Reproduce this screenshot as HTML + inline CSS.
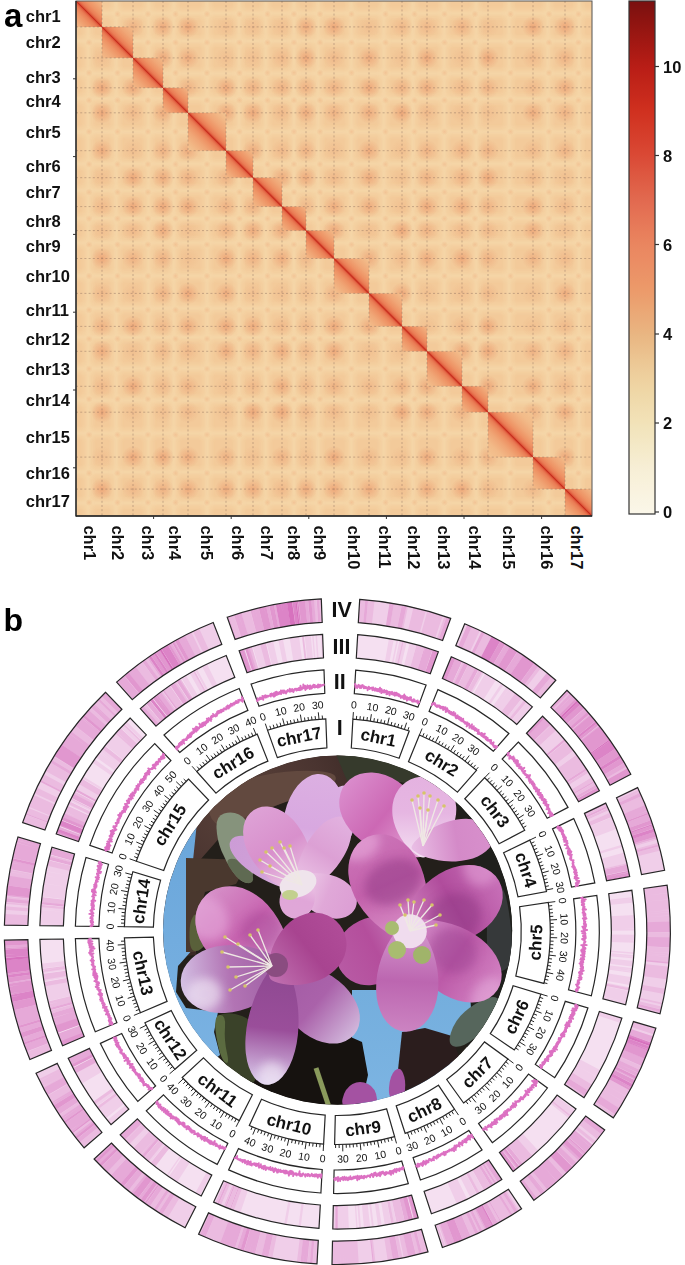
<!DOCTYPE html>
<html><head><meta charset="utf-8"><style>html,body{margin:0;padding:0;background:#fff;width:685px;height:1265px;overflow:hidden;font-family:"Liberation Sans",sans-serif}</style></head>
<body>
<svg width="685" height="1265" viewBox="0 0 685 1265" style="position:absolute;left:0;top:0">
<defs>
<linearGradient id="cbar" x1="0" y1="0" x2="0" y2="1"><stop offset="0.0000" stop-color="#7a1010"/><stop offset="0.0167" stop-color="#821210"/><stop offset="0.0333" stop-color="#8b1310"/><stop offset="0.0500" stop-color="#931511"/><stop offset="0.0667" stop-color="#9b1712"/><stop offset="0.0833" stop-color="#a31813"/><stop offset="0.1000" stop-color="#ab1a14"/><stop offset="0.1167" stop-color="#b31c15"/><stop offset="0.1333" stop-color="#ba1e17"/><stop offset="0.1500" stop-color="#be2218"/><stop offset="0.1667" stop-color="#c3261a"/><stop offset="0.1833" stop-color="#c7291c"/><stop offset="0.2000" stop-color="#cc2d1d"/><stop offset="0.2167" stop-color="#d03120"/><stop offset="0.2333" stop-color="#d23624"/><stop offset="0.2500" stop-color="#d43b28"/><stop offset="0.2667" stop-color="#d63f2c"/><stop offset="0.2833" stop-color="#d84430"/><stop offset="0.3000" stop-color="#da4935"/><stop offset="0.3167" stop-color="#db4f3a"/><stop offset="0.3333" stop-color="#dd563f"/><stop offset="0.3500" stop-color="#de5c44"/><stop offset="0.3667" stop-color="#e06249"/><stop offset="0.3833" stop-color="#e1684e"/><stop offset="0.4000" stop-color="#e36d52"/><stop offset="0.4167" stop-color="#e57355"/><stop offset="0.4333" stop-color="#e67858"/><stop offset="0.4500" stop-color="#e87e5b"/><stop offset="0.4667" stop-color="#e9835e"/><stop offset="0.4833" stop-color="#ea8861"/><stop offset="0.5000" stop-color="#eb8b63"/><stop offset="0.5167" stop-color="#eb8f65"/><stop offset="0.5333" stop-color="#eb9367"/><stop offset="0.5500" stop-color="#ec9768"/><stop offset="0.5667" stop-color="#ec9b6b"/><stop offset="0.5833" stop-color="#eba06f"/><stop offset="0.6000" stop-color="#eba674"/><stop offset="0.6167" stop-color="#eaab79"/><stop offset="0.6333" stop-color="#eab07d"/><stop offset="0.6500" stop-color="#e9b682"/><stop offset="0.6667" stop-color="#eabb87"/><stop offset="0.6833" stop-color="#ebc08d"/><stop offset="0.7000" stop-color="#ecc693"/><stop offset="0.7167" stop-color="#edcb99"/><stop offset="0.7333" stop-color="#eed09e"/><stop offset="0.7500" stop-color="#efd4a3"/><stop offset="0.7667" stop-color="#efd8a8"/><stop offset="0.7833" stop-color="#f0dbad"/><stop offset="0.8000" stop-color="#f1deb2"/><stop offset="0.8167" stop-color="#f2e1b6"/><stop offset="0.8333" stop-color="#f2e4bc"/><stop offset="0.8500" stop-color="#f3e6c1"/><stop offset="0.8667" stop-color="#f4e9c7"/><stop offset="0.8833" stop-color="#f5ebcc"/><stop offset="0.9000" stop-color="#f6edd2"/><stop offset="0.9167" stop-color="#f7efd7"/><stop offset="0.9333" stop-color="#f8f1da"/><stop offset="0.9500" stop-color="#f9f2de"/><stop offset="0.9667" stop-color="#f9f4e2"/><stop offset="0.9833" stop-color="#faf5e5"/><stop offset="1.0000" stop-color="#fbf7e9"/></linearGradient>
<linearGradient id="dg0" gradientUnits="userSpaceOnUse" x1="76.00" y1="1.00" x2="89.00" y2="-12.00" spreadMethod="reflect"><stop offset="0.0000" stop-color="#c8301e"/><stop offset="0.0385" stop-color="#d94c32"/><stop offset="0.0962" stop-color="#e46a48"/><stop offset="0.1923" stop-color="#ea7e56"/><stop offset="0.3846" stop-color="#ee9264"/><stop offset="0.6923" stop-color="#f0a676"/><stop offset="1" stop-color="#f2ba88"/></linearGradient>
<linearGradient id="dg1" gradientUnits="userSpaceOnUse" x1="102.00" y1="26.95" x2="117.50" y2="11.45" spreadMethod="reflect"><stop offset="0.0000" stop-color="#c8301e"/><stop offset="0.0323" stop-color="#d94c32"/><stop offset="0.0806" stop-color="#e46a48"/><stop offset="0.1613" stop-color="#ea7e56"/><stop offset="0.3226" stop-color="#ee9264"/><stop offset="0.5806" stop-color="#f0a676"/><stop offset="0.9677" stop-color="#f2ba88"/><stop offset="1" stop-color="#f3c492"/></linearGradient>
<linearGradient id="dg2" gradientUnits="userSpaceOnUse" x1="133.00" y1="57.89" x2="148.00" y2="42.89" spreadMethod="reflect"><stop offset="0.0000" stop-color="#c8301e"/><stop offset="0.0333" stop-color="#d94c32"/><stop offset="0.0833" stop-color="#e46a48"/><stop offset="0.1667" stop-color="#ea7e56"/><stop offset="0.3333" stop-color="#ee9264"/><stop offset="0.6000" stop-color="#f0a676"/><stop offset="1.0000" stop-color="#f2ba88"/><stop offset="1" stop-color="#f3c492"/></linearGradient>
<linearGradient id="dg3" gradientUnits="userSpaceOnUse" x1="163.00" y1="87.83" x2="175.50" y2="75.33" spreadMethod="reflect"><stop offset="0.0000" stop-color="#c8301e"/><stop offset="0.0400" stop-color="#d94c32"/><stop offset="0.1000" stop-color="#e46a48"/><stop offset="0.2000" stop-color="#ea7e56"/><stop offset="0.4000" stop-color="#ee9264"/><stop offset="0.7200" stop-color="#f0a676"/><stop offset="1" stop-color="#f2ba88"/></linearGradient>
<linearGradient id="dg4" gradientUnits="userSpaceOnUse" x1="188.00" y1="112.78" x2="207.00" y2="93.78" spreadMethod="reflect"><stop offset="0.0000" stop-color="#c8301e"/><stop offset="0.0263" stop-color="#d94c32"/><stop offset="0.0658" stop-color="#e46a48"/><stop offset="0.1316" stop-color="#ea7e56"/><stop offset="0.2632" stop-color="#ee9264"/><stop offset="0.4737" stop-color="#f0a676"/><stop offset="0.7895" stop-color="#f2ba88"/><stop offset="1" stop-color="#f3c492"/></linearGradient>
<linearGradient id="dg5" gradientUnits="userSpaceOnUse" x1="226.00" y1="150.71" x2="239.50" y2="137.21" spreadMethod="reflect"><stop offset="0.0000" stop-color="#c8301e"/><stop offset="0.0370" stop-color="#d94c32"/><stop offset="0.0926" stop-color="#e46a48"/><stop offset="0.1852" stop-color="#ea7e56"/><stop offset="0.3704" stop-color="#ee9264"/><stop offset="0.6667" stop-color="#f0a676"/><stop offset="1" stop-color="#f2ba88"/></linearGradient>
<linearGradient id="dg6" gradientUnits="userSpaceOnUse" x1="253.00" y1="177.66" x2="267.50" y2="163.16" spreadMethod="reflect"><stop offset="0.0000" stop-color="#c8301e"/><stop offset="0.0345" stop-color="#d94c32"/><stop offset="0.0862" stop-color="#e46a48"/><stop offset="0.1724" stop-color="#ea7e56"/><stop offset="0.3448" stop-color="#ee9264"/><stop offset="0.6207" stop-color="#f0a676"/><stop offset="1" stop-color="#f2ba88"/></linearGradient>
<linearGradient id="dg7" gradientUnits="userSpaceOnUse" x1="282.00" y1="206.60" x2="294.00" y2="194.60" spreadMethod="reflect"><stop offset="0.0000" stop-color="#c8301e"/><stop offset="0.0417" stop-color="#d94c32"/><stop offset="0.1042" stop-color="#e46a48"/><stop offset="0.2083" stop-color="#ea7e56"/><stop offset="0.4167" stop-color="#ee9264"/><stop offset="0.7500" stop-color="#f0a676"/><stop offset="1" stop-color="#f2ba88"/></linearGradient>
<linearGradient id="dg8" gradientUnits="userSpaceOnUse" x1="306.00" y1="230.55" x2="320.00" y2="216.55" spreadMethod="reflect"><stop offset="0.0000" stop-color="#c8301e"/><stop offset="0.0357" stop-color="#d94c32"/><stop offset="0.0893" stop-color="#e46a48"/><stop offset="0.1786" stop-color="#ea7e56"/><stop offset="0.3571" stop-color="#ee9264"/><stop offset="0.6429" stop-color="#f0a676"/><stop offset="1" stop-color="#f2ba88"/></linearGradient>
<linearGradient id="dg9" gradientUnits="userSpaceOnUse" x1="334.00" y1="258.50" x2="351.50" y2="241.00" spreadMethod="reflect"><stop offset="0.0000" stop-color="#c8301e"/><stop offset="0.0286" stop-color="#d94c32"/><stop offset="0.0714" stop-color="#e46a48"/><stop offset="0.1429" stop-color="#ea7e56"/><stop offset="0.2857" stop-color="#ee9264"/><stop offset="0.5143" stop-color="#f0a676"/><stop offset="0.8571" stop-color="#f2ba88"/><stop offset="1" stop-color="#f3c492"/></linearGradient>
<linearGradient id="dg10" gradientUnits="userSpaceOnUse" x1="369.00" y1="293.43" x2="385.50" y2="276.93" spreadMethod="reflect"><stop offset="0.0000" stop-color="#c8301e"/><stop offset="0.0303" stop-color="#d94c32"/><stop offset="0.0758" stop-color="#e46a48"/><stop offset="0.1515" stop-color="#ea7e56"/><stop offset="0.3030" stop-color="#ee9264"/><stop offset="0.5455" stop-color="#f0a676"/><stop offset="0.9091" stop-color="#f2ba88"/><stop offset="1" stop-color="#f3c492"/></linearGradient>
<linearGradient id="dg11" gradientUnits="userSpaceOnUse" x1="402.00" y1="326.37" x2="414.50" y2="313.87" spreadMethod="reflect"><stop offset="0.0000" stop-color="#c8301e"/><stop offset="0.0400" stop-color="#d94c32"/><stop offset="0.1000" stop-color="#e46a48"/><stop offset="0.2000" stop-color="#ea7e56"/><stop offset="0.4000" stop-color="#ee9264"/><stop offset="0.7200" stop-color="#f0a676"/><stop offset="1" stop-color="#f2ba88"/></linearGradient>
<linearGradient id="dg12" gradientUnits="userSpaceOnUse" x1="427.00" y1="351.32" x2="444.50" y2="333.82" spreadMethod="reflect"><stop offset="0.0000" stop-color="#c8301e"/><stop offset="0.0286" stop-color="#d94c32"/><stop offset="0.0714" stop-color="#e46a48"/><stop offset="0.1429" stop-color="#ea7e56"/><stop offset="0.2857" stop-color="#ee9264"/><stop offset="0.5143" stop-color="#f0a676"/><stop offset="0.8571" stop-color="#f2ba88"/><stop offset="1" stop-color="#f3c492"/></linearGradient>
<linearGradient id="dg13" gradientUnits="userSpaceOnUse" x1="462.00" y1="386.25" x2="475.00" y2="373.25" spreadMethod="reflect"><stop offset="0.0000" stop-color="#c8301e"/><stop offset="0.0385" stop-color="#d94c32"/><stop offset="0.0962" stop-color="#e46a48"/><stop offset="0.1923" stop-color="#ea7e56"/><stop offset="0.3846" stop-color="#ee9264"/><stop offset="0.6923" stop-color="#f0a676"/><stop offset="1" stop-color="#f2ba88"/></linearGradient>
<linearGradient id="dg14" gradientUnits="userSpaceOnUse" x1="488.00" y1="412.20" x2="510.50" y2="389.70" spreadMethod="reflect"><stop offset="0.0000" stop-color="#c8301e"/><stop offset="0.0222" stop-color="#d94c32"/><stop offset="0.0556" stop-color="#e46a48"/><stop offset="0.1111" stop-color="#ea7e56"/><stop offset="0.2222" stop-color="#ee9264"/><stop offset="0.4000" stop-color="#f0a676"/><stop offset="0.6667" stop-color="#f2ba88"/><stop offset="1.0000" stop-color="#f3c492"/></linearGradient>
<linearGradient id="dg15" gradientUnits="userSpaceOnUse" x1="533.00" y1="457.11" x2="549.00" y2="441.11" spreadMethod="reflect"><stop offset="0.0000" stop-color="#c8301e"/><stop offset="0.0312" stop-color="#d94c32"/><stop offset="0.0781" stop-color="#e46a48"/><stop offset="0.1562" stop-color="#ea7e56"/><stop offset="0.3125" stop-color="#ee9264"/><stop offset="0.5625" stop-color="#f0a676"/><stop offset="0.9375" stop-color="#f2ba88"/><stop offset="1" stop-color="#f3c492"/></linearGradient>
<linearGradient id="dg16" gradientUnits="userSpaceOnUse" x1="565.00" y1="489.05" x2="578.50" y2="475.55" spreadMethod="reflect"><stop offset="0.0000" stop-color="#c8301e"/><stop offset="0.0370" stop-color="#d94c32"/><stop offset="0.0926" stop-color="#e46a48"/><stop offset="0.1852" stop-color="#ea7e56"/><stop offset="0.3704" stop-color="#ee9264"/><stop offset="0.6667" stop-color="#f0a676"/><stop offset="1" stop-color="#f2ba88"/></linearGradient>
<radialGradient id="spot"><stop offset="0" stop-color="#e9875a" stop-opacity="0.5"/><stop offset="1" stop-color="#e98a5e" stop-opacity="0"/></radialGradient>
<radialGradient id="spot2"><stop offset="0" stop-color="#ec9a6a" stop-opacity="0.3"/><stop offset="1" stop-color="#ec9a6a" stop-opacity="0"/></radialGradient>
</defs>
<rect width="685" height="1265" fill="#ffffff"/>
<rect x="76.0" y="1.0" width="516.0" height="515.0" fill="#f3ca9a"/>
<filter id="bl1" x="-5%" y="-5%" width="110%" height="110%"><feGaussianBlur stdDeviation="1.3"/></filter>
<g opacity="0.5" filter="url(#bl1)">
<rect x="82.3" y="1.0" width="12.0" height="515.0" fill="#f8e4b8" opacity="0.35"/>
<rect x="76.0" y="7.3" width="516.0" height="12.0" fill="#f8e4b8" opacity="0.35"/>
<rect x="86.3" y="1.0" width="4.0" height="515.0" fill="#f8e4b8" opacity="0.80"/>
<rect x="76.0" y="11.3" width="516.0" height="4.0" fill="#f8e4b8" opacity="0.80"/>
<rect x="110.1" y="1.0" width="12.0" height="515.0" fill="#f8e4b8" opacity="0.35"/>
<rect x="76.0" y="35.0" width="516.0" height="12.0" fill="#f8e4b8" opacity="0.35"/>
<rect x="114.1" y="1.0" width="4.0" height="515.0" fill="#f8e4b8" opacity="0.80"/>
<rect x="76.0" y="39.0" width="516.0" height="4.0" fill="#f8e4b8" opacity="0.80"/>
<rect x="142.6" y="1.0" width="12.0" height="515.0" fill="#f8e4b8" opacity="0.35"/>
<rect x="76.0" y="67.5" width="516.0" height="12.0" fill="#f8e4b8" opacity="0.35"/>
<rect x="146.6" y="1.0" width="4.0" height="515.0" fill="#f8e4b8" opacity="0.80"/>
<rect x="76.0" y="71.5" width="516.0" height="4.0" fill="#f8e4b8" opacity="0.80"/>
<rect x="167.8" y="1.0" width="12.0" height="515.0" fill="#f8e4b8" opacity="0.35"/>
<rect x="76.0" y="92.6" width="516.0" height="12.0" fill="#f8e4b8" opacity="0.35"/>
<rect x="171.8" y="1.0" width="4.0" height="515.0" fill="#f8e4b8" opacity="0.80"/>
<rect x="76.0" y="96.6" width="516.0" height="4.0" fill="#f8e4b8" opacity="0.80"/>
<rect x="201.1" y="1.0" width="12.0" height="515.0" fill="#f8e4b8" opacity="0.35"/>
<rect x="76.0" y="125.9" width="516.0" height="12.0" fill="#f8e4b8" opacity="0.35"/>
<rect x="205.1" y="1.0" width="4.0" height="515.0" fill="#f8e4b8" opacity="0.80"/>
<rect x="76.0" y="129.9" width="516.0" height="4.0" fill="#f8e4b8" opacity="0.80"/>
<rect x="233.0" y="1.0" width="12.0" height="515.0" fill="#f8e4b8" opacity="0.35"/>
<rect x="76.0" y="157.7" width="516.0" height="12.0" fill="#f8e4b8" opacity="0.35"/>
<rect x="237.0" y="1.0" width="4.0" height="515.0" fill="#f8e4b8" opacity="0.80"/>
<rect x="76.0" y="161.7" width="516.0" height="4.0" fill="#f8e4b8" opacity="0.80"/>
<rect x="259.7" y="1.0" width="12.0" height="515.0" fill="#f8e4b8" opacity="0.35"/>
<rect x="76.0" y="184.4" width="516.0" height="12.0" fill="#f8e4b8" opacity="0.35"/>
<rect x="263.7" y="1.0" width="4.0" height="515.0" fill="#f8e4b8" opacity="0.80"/>
<rect x="76.0" y="188.4" width="516.0" height="4.0" fill="#f8e4b8" opacity="0.80"/>
<rect x="288.0" y="1.0" width="12.0" height="515.0" fill="#f8e4b8" opacity="0.35"/>
<rect x="76.0" y="212.6" width="516.0" height="12.0" fill="#f8e4b8" opacity="0.35"/>
<rect x="292.0" y="1.0" width="4.0" height="515.0" fill="#f8e4b8" opacity="0.80"/>
<rect x="76.0" y="216.6" width="516.0" height="4.0" fill="#f8e4b8" opacity="0.80"/>
<rect x="312.1" y="1.0" width="12.0" height="515.0" fill="#f8e4b8" opacity="0.35"/>
<rect x="76.0" y="236.7" width="516.0" height="12.0" fill="#f8e4b8" opacity="0.35"/>
<rect x="316.1" y="1.0" width="4.0" height="515.0" fill="#f8e4b8" opacity="0.80"/>
<rect x="76.0" y="240.7" width="516.0" height="4.0" fill="#f8e4b8" opacity="0.80"/>
<rect x="345.2" y="1.0" width="12.0" height="515.0" fill="#f8e4b8" opacity="0.35"/>
<rect x="76.0" y="269.7" width="516.0" height="12.0" fill="#f8e4b8" opacity="0.35"/>
<rect x="349.2" y="1.0" width="4.0" height="515.0" fill="#f8e4b8" opacity="0.80"/>
<rect x="76.0" y="273.7" width="516.0" height="4.0" fill="#f8e4b8" opacity="0.80"/>
<rect x="377.8" y="1.0" width="12.0" height="515.0" fill="#f8e4b8" opacity="0.35"/>
<rect x="76.0" y="302.2" width="516.0" height="12.0" fill="#f8e4b8" opacity="0.35"/>
<rect x="381.8" y="1.0" width="4.0" height="515.0" fill="#f8e4b8" opacity="0.80"/>
<rect x="76.0" y="306.2" width="516.0" height="4.0" fill="#f8e4b8" opacity="0.80"/>
<rect x="406.9" y="1.0" width="12.0" height="515.0" fill="#f8e4b8" opacity="0.35"/>
<rect x="76.0" y="331.2" width="516.0" height="12.0" fill="#f8e4b8" opacity="0.35"/>
<rect x="410.9" y="1.0" width="4.0" height="515.0" fill="#f8e4b8" opacity="0.80"/>
<rect x="76.0" y="335.2" width="516.0" height="4.0" fill="#f8e4b8" opacity="0.80"/>
<rect x="438.2" y="1.0" width="12.0" height="515.0" fill="#f8e4b8" opacity="0.35"/>
<rect x="76.0" y="362.5" width="516.0" height="12.0" fill="#f8e4b8" opacity="0.35"/>
<rect x="442.2" y="1.0" width="4.0" height="515.0" fill="#f8e4b8" opacity="0.80"/>
<rect x="76.0" y="366.5" width="516.0" height="4.0" fill="#f8e4b8" opacity="0.80"/>
<rect x="470.3" y="1.0" width="12.0" height="515.0" fill="#f8e4b8" opacity="0.35"/>
<rect x="76.0" y="394.5" width="516.0" height="12.0" fill="#f8e4b8" opacity="0.35"/>
<rect x="474.3" y="1.0" width="4.0" height="515.0" fill="#f8e4b8" opacity="0.80"/>
<rect x="76.0" y="398.5" width="516.0" height="4.0" fill="#f8e4b8" opacity="0.80"/>
<rect x="503.0" y="1.0" width="12.0" height="515.0" fill="#f8e4b8" opacity="0.35"/>
<rect x="76.0" y="427.2" width="516.0" height="12.0" fill="#f8e4b8" opacity="0.35"/>
<rect x="507.0" y="1.0" width="4.0" height="515.0" fill="#f8e4b8" opacity="0.80"/>
<rect x="76.0" y="431.2" width="516.0" height="4.0" fill="#f8e4b8" opacity="0.80"/>
<rect x="541.9" y="1.0" width="12.0" height="515.0" fill="#f8e4b8" opacity="0.35"/>
<rect x="76.0" y="466.0" width="516.0" height="12.0" fill="#f8e4b8" opacity="0.35"/>
<rect x="545.9" y="1.0" width="4.0" height="515.0" fill="#f8e4b8" opacity="0.80"/>
<rect x="76.0" y="470.0" width="516.0" height="4.0" fill="#f8e4b8" opacity="0.80"/>
<rect x="573.0" y="1.0" width="12.0" height="515.0" fill="#f8e4b8" opacity="0.35"/>
<rect x="76.0" y="497.0" width="516.0" height="12.0" fill="#f8e4b8" opacity="0.35"/>
<rect x="577.0" y="1.0" width="4.0" height="515.0" fill="#f8e4b8" opacity="0.80"/>
<rect x="76.0" y="501.0" width="516.0" height="4.0" fill="#f8e4b8" opacity="0.80"/>
</g>
<circle cx="102.0" cy="57.9" r="11" fill="url(#spot)" opacity="0.30"/>
<circle cx="102.0" cy="87.8" r="11" fill="url(#spot)" opacity="1.00"/>
<circle cx="102.0" cy="112.8" r="11" fill="url(#spot)" opacity="1.00"/>
<circle cx="102.0" cy="150.7" r="11" fill="url(#spot)" opacity="0.90"/>
<circle cx="102.0" cy="177.7" r="11" fill="url(#spot)" opacity="0.30"/>
<circle cx="102.0" cy="206.6" r="11" fill="url(#spot)" opacity="0.50"/>
<circle cx="102.0" cy="230.6" r="11" fill="url(#spot)" opacity="0.30"/>
<circle cx="102.0" cy="258.5" r="11" fill="url(#spot)" opacity="1.00"/>
<circle cx="102.0" cy="293.4" r="11" fill="url(#spot)" opacity="0.50"/>
<circle cx="102.0" cy="326.4" r="11" fill="url(#spot)" opacity="0.70"/>
<circle cx="102.0" cy="351.3" r="11" fill="url(#spot)" opacity="0.90"/>
<circle cx="102.0" cy="386.3" r="11" fill="url(#spot)" opacity="0.50"/>
<circle cx="102.0" cy="412.2" r="11" fill="url(#spot)" opacity="1.00"/>
<circle cx="102.0" cy="457.1" r="11" fill="url(#spot)" opacity="0.30"/>
<circle cx="102.0" cy="489.1" r="11" fill="url(#spot)" opacity="1.00"/>
<circle cx="133.0" cy="26.9" r="11" fill="url(#spot)" opacity="0.70"/>
<circle cx="133.0" cy="87.8" r="11" fill="url(#spot)" opacity="1.00"/>
<circle cx="133.0" cy="112.8" r="11" fill="url(#spot)" opacity="0.50"/>
<circle cx="133.0" cy="150.7" r="11" fill="url(#spot)" opacity="0.30"/>
<circle cx="133.0" cy="177.7" r="11" fill="url(#spot)" opacity="1.00"/>
<circle cx="133.0" cy="206.6" r="11" fill="url(#spot)" opacity="1.00"/>
<circle cx="133.0" cy="230.6" r="11" fill="url(#spot)" opacity="0.50"/>
<circle cx="133.0" cy="258.5" r="11" fill="url(#spot)" opacity="0.70"/>
<circle cx="133.0" cy="293.4" r="11" fill="url(#spot)" opacity="0.30"/>
<circle cx="133.0" cy="326.4" r="11" fill="url(#spot)" opacity="1.00"/>
<circle cx="133.0" cy="351.3" r="11" fill="url(#spot)" opacity="0.30"/>
<circle cx="133.0" cy="386.3" r="11" fill="url(#spot)" opacity="1.00"/>
<circle cx="133.0" cy="412.2" r="11" fill="url(#spot)" opacity="0.30"/>
<circle cx="133.0" cy="457.1" r="11" fill="url(#spot)" opacity="1.00"/>
<circle cx="133.0" cy="489.1" r="11" fill="url(#spot)" opacity="0.50"/>
<circle cx="163.0" cy="26.9" r="11" fill="url(#spot)" opacity="0.90"/>
<circle cx="163.0" cy="57.9" r="11" fill="url(#spot)" opacity="1.00"/>
<circle cx="163.0" cy="112.8" r="11" fill="url(#spot)" opacity="0.90"/>
<circle cx="163.0" cy="150.7" r="11" fill="url(#spot)" opacity="0.70"/>
<circle cx="163.0" cy="177.7" r="11" fill="url(#spot)" opacity="0.90"/>
<circle cx="163.0" cy="206.6" r="11" fill="url(#spot)" opacity="1.00"/>
<circle cx="163.0" cy="230.6" r="11" fill="url(#spot)" opacity="0.90"/>
<circle cx="163.0" cy="258.5" r="11" fill="url(#spot)" opacity="0.70"/>
<circle cx="163.0" cy="293.4" r="11" fill="url(#spot)" opacity="0.70"/>
<circle cx="163.0" cy="326.4" r="11" fill="url(#spot)" opacity="0.50"/>
<circle cx="163.0" cy="351.3" r="11" fill="url(#spot)" opacity="0.50"/>
<circle cx="163.0" cy="386.3" r="11" fill="url(#spot)" opacity="0.50"/>
<circle cx="163.0" cy="412.2" r="11" fill="url(#spot)" opacity="0.30"/>
<circle cx="163.0" cy="457.1" r="11" fill="url(#spot)" opacity="1.00"/>
<circle cx="163.0" cy="489.1" r="11" fill="url(#spot)" opacity="0.70"/>
<circle cx="188.0" cy="26.9" r="11" fill="url(#spot)" opacity="1.00"/>
<circle cx="188.0" cy="57.9" r="11" fill="url(#spot)" opacity="0.90"/>
<circle cx="188.0" cy="87.8" r="11" fill="url(#spot)" opacity="0.70"/>
<circle cx="188.0" cy="150.7" r="11" fill="url(#spot)" opacity="0.90"/>
<circle cx="188.0" cy="177.7" r="11" fill="url(#spot)" opacity="0.70"/>
<circle cx="188.0" cy="206.6" r="11" fill="url(#spot)" opacity="1.00"/>
<circle cx="188.0" cy="230.6" r="11" fill="url(#spot)" opacity="0.30"/>
<circle cx="188.0" cy="258.5" r="11" fill="url(#spot)" opacity="0.30"/>
<circle cx="188.0" cy="293.4" r="11" fill="url(#spot)" opacity="1.00"/>
<circle cx="188.0" cy="326.4" r="11" fill="url(#spot)" opacity="0.90"/>
<circle cx="188.0" cy="351.3" r="11" fill="url(#spot)" opacity="0.50"/>
<circle cx="188.0" cy="386.3" r="11" fill="url(#spot)" opacity="0.70"/>
<circle cx="188.0" cy="412.2" r="11" fill="url(#spot)" opacity="0.50"/>
<circle cx="188.0" cy="457.1" r="11" fill="url(#spot)" opacity="0.90"/>
<circle cx="188.0" cy="489.1" r="11" fill="url(#spot)" opacity="0.90"/>
<circle cx="226.0" cy="26.9" r="11" fill="url(#spot)" opacity="0.30"/>
<circle cx="226.0" cy="57.9" r="11" fill="url(#spot)" opacity="0.30"/>
<circle cx="226.0" cy="87.8" r="11" fill="url(#spot)" opacity="1.00"/>
<circle cx="226.0" cy="112.8" r="11" fill="url(#spot)" opacity="1.00"/>
<circle cx="226.0" cy="177.7" r="11" fill="url(#spot)" opacity="0.70"/>
<circle cx="226.0" cy="206.6" r="11" fill="url(#spot)" opacity="0.70"/>
<circle cx="226.0" cy="230.6" r="11" fill="url(#spot)" opacity="0.70"/>
<circle cx="226.0" cy="258.5" r="11" fill="url(#spot)" opacity="1.00"/>
<circle cx="226.0" cy="293.4" r="11" fill="url(#spot)" opacity="0.90"/>
<circle cx="226.0" cy="326.4" r="11" fill="url(#spot)" opacity="1.00"/>
<circle cx="226.0" cy="351.3" r="11" fill="url(#spot)" opacity="0.90"/>
<circle cx="226.0" cy="386.3" r="11" fill="url(#spot)" opacity="0.30"/>
<circle cx="226.0" cy="412.2" r="11" fill="url(#spot)" opacity="0.30"/>
<circle cx="226.0" cy="457.1" r="11" fill="url(#spot)" opacity="0.70"/>
<circle cx="226.0" cy="489.1" r="11" fill="url(#spot)" opacity="0.90"/>
<circle cx="253.0" cy="26.9" r="11" fill="url(#spot)" opacity="0.30"/>
<circle cx="253.0" cy="57.9" r="11" fill="url(#spot)" opacity="0.30"/>
<circle cx="253.0" cy="87.8" r="11" fill="url(#spot)" opacity="0.70"/>
<circle cx="253.0" cy="112.8" r="11" fill="url(#spot)" opacity="1.00"/>
<circle cx="253.0" cy="150.7" r="11" fill="url(#spot)" opacity="0.90"/>
<circle cx="253.0" cy="206.6" r="11" fill="url(#spot)" opacity="0.70"/>
<circle cx="253.0" cy="230.6" r="11" fill="url(#spot)" opacity="0.90"/>
<circle cx="253.0" cy="258.5" r="11" fill="url(#spot)" opacity="0.70"/>
<circle cx="253.0" cy="293.4" r="11" fill="url(#spot)" opacity="0.30"/>
<circle cx="253.0" cy="326.4" r="11" fill="url(#spot)" opacity="0.90"/>
<circle cx="253.0" cy="351.3" r="11" fill="url(#spot)" opacity="0.70"/>
<circle cx="253.0" cy="386.3" r="11" fill="url(#spot)" opacity="0.50"/>
<circle cx="253.0" cy="412.2" r="11" fill="url(#spot)" opacity="1.00"/>
<circle cx="253.0" cy="457.1" r="11" fill="url(#spot)" opacity="0.30"/>
<circle cx="253.0" cy="489.1" r="11" fill="url(#spot)" opacity="0.90"/>
<circle cx="282.0" cy="26.9" r="11" fill="url(#spot)" opacity="0.30"/>
<circle cx="282.0" cy="57.9" r="11" fill="url(#spot)" opacity="0.50"/>
<circle cx="282.0" cy="87.8" r="11" fill="url(#spot)" opacity="0.70"/>
<circle cx="282.0" cy="112.8" r="11" fill="url(#spot)" opacity="0.50"/>
<circle cx="282.0" cy="150.7" r="11" fill="url(#spot)" opacity="0.50"/>
<circle cx="282.0" cy="177.7" r="11" fill="url(#spot)" opacity="0.90"/>
<circle cx="282.0" cy="230.6" r="11" fill="url(#spot)" opacity="0.90"/>
<circle cx="282.0" cy="258.5" r="11" fill="url(#spot)" opacity="0.90"/>
<circle cx="282.0" cy="293.4" r="11" fill="url(#spot)" opacity="0.30"/>
<circle cx="282.0" cy="326.4" r="11" fill="url(#spot)" opacity="0.50"/>
<circle cx="282.0" cy="351.3" r="11" fill="url(#spot)" opacity="0.90"/>
<circle cx="282.0" cy="386.3" r="11" fill="url(#spot)" opacity="0.90"/>
<circle cx="282.0" cy="412.2" r="11" fill="url(#spot)" opacity="1.00"/>
<circle cx="282.0" cy="457.1" r="11" fill="url(#spot)" opacity="0.70"/>
<circle cx="282.0" cy="489.1" r="11" fill="url(#spot)" opacity="0.50"/>
<circle cx="306.0" cy="26.9" r="11" fill="url(#spot)" opacity="0.90"/>
<circle cx="306.0" cy="57.9" r="11" fill="url(#spot)" opacity="1.00"/>
<circle cx="306.0" cy="87.8" r="11" fill="url(#spot)" opacity="0.70"/>
<circle cx="306.0" cy="112.8" r="11" fill="url(#spot)" opacity="0.90"/>
<circle cx="306.0" cy="150.7" r="11" fill="url(#spot)" opacity="0.70"/>
<circle cx="306.0" cy="177.7" r="11" fill="url(#spot)" opacity="0.90"/>
<circle cx="306.0" cy="206.6" r="11" fill="url(#spot)" opacity="0.50"/>
<circle cx="306.0" cy="258.5" r="11" fill="url(#spot)" opacity="0.50"/>
<circle cx="306.0" cy="293.4" r="11" fill="url(#spot)" opacity="0.30"/>
<circle cx="306.0" cy="326.4" r="11" fill="url(#spot)" opacity="0.50"/>
<circle cx="306.0" cy="351.3" r="11" fill="url(#spot)" opacity="0.50"/>
<circle cx="306.0" cy="386.3" r="11" fill="url(#spot)" opacity="0.50"/>
<circle cx="306.0" cy="412.2" r="11" fill="url(#spot)" opacity="0.50"/>
<circle cx="306.0" cy="457.1" r="11" fill="url(#spot)" opacity="0.30"/>
<circle cx="306.0" cy="489.1" r="11" fill="url(#spot)" opacity="0.90"/>
<circle cx="334.0" cy="26.9" r="11" fill="url(#spot)" opacity="1.00"/>
<circle cx="334.0" cy="57.9" r="11" fill="url(#spot)" opacity="0.50"/>
<circle cx="334.0" cy="87.8" r="11" fill="url(#spot)" opacity="0.70"/>
<circle cx="334.0" cy="112.8" r="11" fill="url(#spot)" opacity="0.70"/>
<circle cx="334.0" cy="150.7" r="11" fill="url(#spot)" opacity="0.30"/>
<circle cx="334.0" cy="177.7" r="11" fill="url(#spot)" opacity="0.50"/>
<circle cx="334.0" cy="206.6" r="11" fill="url(#spot)" opacity="0.90"/>
<circle cx="334.0" cy="230.6" r="11" fill="url(#spot)" opacity="1.00"/>
<circle cx="334.0" cy="293.4" r="11" fill="url(#spot)" opacity="0.70"/>
<circle cx="334.0" cy="326.4" r="11" fill="url(#spot)" opacity="1.00"/>
<circle cx="334.0" cy="351.3" r="11" fill="url(#spot)" opacity="1.00"/>
<circle cx="334.0" cy="386.3" r="11" fill="url(#spot)" opacity="0.70"/>
<circle cx="334.0" cy="412.2" r="11" fill="url(#spot)" opacity="0.50"/>
<circle cx="334.0" cy="457.1" r="11" fill="url(#spot)" opacity="1.00"/>
<circle cx="334.0" cy="489.1" r="11" fill="url(#spot)" opacity="1.00"/>
<circle cx="369.0" cy="26.9" r="11" fill="url(#spot)" opacity="0.30"/>
<circle cx="369.0" cy="57.9" r="11" fill="url(#spot)" opacity="0.90"/>
<circle cx="369.0" cy="87.8" r="11" fill="url(#spot)" opacity="1.00"/>
<circle cx="369.0" cy="112.8" r="11" fill="url(#spot)" opacity="0.90"/>
<circle cx="369.0" cy="150.7" r="11" fill="url(#spot)" opacity="0.90"/>
<circle cx="369.0" cy="177.7" r="11" fill="url(#spot)" opacity="0.90"/>
<circle cx="369.0" cy="206.6" r="11" fill="url(#spot)" opacity="0.90"/>
<circle cx="369.0" cy="230.6" r="11" fill="url(#spot)" opacity="0.30"/>
<circle cx="369.0" cy="258.5" r="11" fill="url(#spot)" opacity="0.90"/>
<circle cx="369.0" cy="326.4" r="11" fill="url(#spot)" opacity="0.90"/>
<circle cx="369.0" cy="351.3" r="11" fill="url(#spot)" opacity="0.30"/>
<circle cx="369.0" cy="386.3" r="11" fill="url(#spot)" opacity="0.50"/>
<circle cx="369.0" cy="412.2" r="11" fill="url(#spot)" opacity="0.30"/>
<circle cx="369.0" cy="457.1" r="11" fill="url(#spot)" opacity="0.50"/>
<circle cx="369.0" cy="489.1" r="11" fill="url(#spot)" opacity="0.90"/>
<circle cx="402.0" cy="26.9" r="11" fill="url(#spot)" opacity="0.50"/>
<circle cx="402.0" cy="57.9" r="11" fill="url(#spot)" opacity="0.30"/>
<circle cx="402.0" cy="87.8" r="11" fill="url(#spot)" opacity="0.70"/>
<circle cx="402.0" cy="112.8" r="11" fill="url(#spot)" opacity="1.00"/>
<circle cx="402.0" cy="150.7" r="11" fill="url(#spot)" opacity="0.30"/>
<circle cx="402.0" cy="177.7" r="11" fill="url(#spot)" opacity="0.30"/>
<circle cx="402.0" cy="206.6" r="11" fill="url(#spot)" opacity="0.30"/>
<circle cx="402.0" cy="230.6" r="11" fill="url(#spot)" opacity="1.00"/>
<circle cx="402.0" cy="258.5" r="11" fill="url(#spot)" opacity="0.50"/>
<circle cx="402.0" cy="293.4" r="11" fill="url(#spot)" opacity="1.00"/>
<circle cx="402.0" cy="351.3" r="11" fill="url(#spot)" opacity="0.30"/>
<circle cx="402.0" cy="386.3" r="11" fill="url(#spot)" opacity="0.70"/>
<circle cx="402.0" cy="412.2" r="11" fill="url(#spot)" opacity="1.00"/>
<circle cx="402.0" cy="457.1" r="11" fill="url(#spot)" opacity="0.30"/>
<circle cx="402.0" cy="489.1" r="11" fill="url(#spot)" opacity="0.30"/>
<circle cx="427.0" cy="26.9" r="11" fill="url(#spot)" opacity="0.50"/>
<circle cx="427.0" cy="57.9" r="11" fill="url(#spot)" opacity="1.00"/>
<circle cx="427.0" cy="87.8" r="11" fill="url(#spot)" opacity="0.90"/>
<circle cx="427.0" cy="112.8" r="11" fill="url(#spot)" opacity="0.50"/>
<circle cx="427.0" cy="150.7" r="11" fill="url(#spot)" opacity="0.70"/>
<circle cx="427.0" cy="177.7" r="11" fill="url(#spot)" opacity="0.70"/>
<circle cx="427.0" cy="206.6" r="11" fill="url(#spot)" opacity="1.00"/>
<circle cx="427.0" cy="230.6" r="11" fill="url(#spot)" opacity="0.70"/>
<circle cx="427.0" cy="258.5" r="11" fill="url(#spot)" opacity="0.90"/>
<circle cx="427.0" cy="293.4" r="11" fill="url(#spot)" opacity="0.30"/>
<circle cx="427.0" cy="326.4" r="11" fill="url(#spot)" opacity="0.30"/>
<circle cx="427.0" cy="386.3" r="11" fill="url(#spot)" opacity="0.90"/>
<circle cx="427.0" cy="412.2" r="11" fill="url(#spot)" opacity="0.90"/>
<circle cx="427.0" cy="457.1" r="11" fill="url(#spot)" opacity="0.90"/>
<circle cx="427.0" cy="489.1" r="11" fill="url(#spot)" opacity="0.90"/>
<circle cx="462.0" cy="26.9" r="11" fill="url(#spot)" opacity="0.70"/>
<circle cx="462.0" cy="57.9" r="11" fill="url(#spot)" opacity="0.30"/>
<circle cx="462.0" cy="87.8" r="11" fill="url(#spot)" opacity="0.50"/>
<circle cx="462.0" cy="112.8" r="11" fill="url(#spot)" opacity="0.30"/>
<circle cx="462.0" cy="150.7" r="11" fill="url(#spot)" opacity="0.70"/>
<circle cx="462.0" cy="177.7" r="11" fill="url(#spot)" opacity="0.70"/>
<circle cx="462.0" cy="206.6" r="11" fill="url(#spot)" opacity="0.90"/>
<circle cx="462.0" cy="230.6" r="11" fill="url(#spot)" opacity="0.50"/>
<circle cx="462.0" cy="258.5" r="11" fill="url(#spot)" opacity="1.00"/>
<circle cx="462.0" cy="293.4" r="11" fill="url(#spot)" opacity="0.30"/>
<circle cx="462.0" cy="326.4" r="11" fill="url(#spot)" opacity="0.50"/>
<circle cx="462.0" cy="351.3" r="11" fill="url(#spot)" opacity="1.00"/>
<circle cx="462.0" cy="412.2" r="11" fill="url(#spot)" opacity="0.70"/>
<circle cx="462.0" cy="457.1" r="11" fill="url(#spot)" opacity="0.50"/>
<circle cx="462.0" cy="489.1" r="11" fill="url(#spot)" opacity="1.00"/>
<circle cx="488.0" cy="26.9" r="11" fill="url(#spot)" opacity="0.30"/>
<circle cx="488.0" cy="57.9" r="11" fill="url(#spot)" opacity="1.00"/>
<circle cx="488.0" cy="87.8" r="11" fill="url(#spot)" opacity="0.70"/>
<circle cx="488.0" cy="112.8" r="11" fill="url(#spot)" opacity="0.30"/>
<circle cx="488.0" cy="150.7" r="11" fill="url(#spot)" opacity="0.70"/>
<circle cx="488.0" cy="177.7" r="11" fill="url(#spot)" opacity="1.00"/>
<circle cx="488.0" cy="206.6" r="11" fill="url(#spot)" opacity="0.70"/>
<circle cx="488.0" cy="230.6" r="11" fill="url(#spot)" opacity="0.50"/>
<circle cx="488.0" cy="258.5" r="11" fill="url(#spot)" opacity="0.70"/>
<circle cx="488.0" cy="293.4" r="11" fill="url(#spot)" opacity="0.50"/>
<circle cx="488.0" cy="326.4" r="11" fill="url(#spot)" opacity="1.00"/>
<circle cx="488.0" cy="351.3" r="11" fill="url(#spot)" opacity="1.00"/>
<circle cx="488.0" cy="386.3" r="11" fill="url(#spot)" opacity="1.00"/>
<circle cx="488.0" cy="457.1" r="11" fill="url(#spot)" opacity="0.70"/>
<circle cx="488.0" cy="489.1" r="11" fill="url(#spot)" opacity="0.50"/>
<circle cx="533.0" cy="26.9" r="11" fill="url(#spot)" opacity="1.00"/>
<circle cx="533.0" cy="57.9" r="11" fill="url(#spot)" opacity="0.50"/>
<circle cx="533.0" cy="87.8" r="11" fill="url(#spot)" opacity="0.50"/>
<circle cx="533.0" cy="112.8" r="11" fill="url(#spot)" opacity="0.90"/>
<circle cx="533.0" cy="150.7" r="11" fill="url(#spot)" opacity="0.50"/>
<circle cx="533.0" cy="177.7" r="11" fill="url(#spot)" opacity="0.50"/>
<circle cx="533.0" cy="206.6" r="11" fill="url(#spot)" opacity="1.00"/>
<circle cx="533.0" cy="230.6" r="11" fill="url(#spot)" opacity="0.90"/>
<circle cx="533.0" cy="258.5" r="11" fill="url(#spot)" opacity="0.70"/>
<circle cx="533.0" cy="293.4" r="11" fill="url(#spot)" opacity="0.30"/>
<circle cx="533.0" cy="326.4" r="11" fill="url(#spot)" opacity="0.30"/>
<circle cx="533.0" cy="351.3" r="11" fill="url(#spot)" opacity="0.70"/>
<circle cx="533.0" cy="386.3" r="11" fill="url(#spot)" opacity="0.90"/>
<circle cx="533.0" cy="412.2" r="11" fill="url(#spot)" opacity="0.70"/>
<circle cx="533.0" cy="489.1" r="11" fill="url(#spot)" opacity="0.50"/>
<circle cx="565.0" cy="26.9" r="11" fill="url(#spot)" opacity="1.00"/>
<circle cx="565.0" cy="57.9" r="11" fill="url(#spot)" opacity="0.70"/>
<circle cx="565.0" cy="87.8" r="11" fill="url(#spot)" opacity="0.90"/>
<circle cx="565.0" cy="112.8" r="11" fill="url(#spot)" opacity="0.70"/>
<circle cx="565.0" cy="150.7" r="11" fill="url(#spot)" opacity="0.70"/>
<circle cx="565.0" cy="177.7" r="11" fill="url(#spot)" opacity="0.30"/>
<circle cx="565.0" cy="206.6" r="11" fill="url(#spot)" opacity="0.50"/>
<circle cx="565.0" cy="230.6" r="11" fill="url(#spot)" opacity="0.30"/>
<circle cx="565.0" cy="258.5" r="11" fill="url(#spot)" opacity="0.50"/>
<circle cx="565.0" cy="293.4" r="11" fill="url(#spot)" opacity="0.90"/>
<circle cx="565.0" cy="326.4" r="11" fill="url(#spot)" opacity="0.50"/>
<circle cx="565.0" cy="351.3" r="11" fill="url(#spot)" opacity="0.70"/>
<circle cx="565.0" cy="386.3" r="11" fill="url(#spot)" opacity="0.50"/>
<circle cx="565.0" cy="412.2" r="11" fill="url(#spot)" opacity="0.90"/>
<circle cx="565.0" cy="457.1" r="11" fill="url(#spot)" opacity="1.00"/>
<circle cx="89.0" cy="42.4" r="3.5" fill="url(#spot2)"/>
<circle cx="89.0" cy="72.9" r="3.5" fill="url(#spot2)"/>
<circle cx="89.0" cy="100.3" r="3.5" fill="url(#spot2)"/>
<circle cx="89.0" cy="131.7" r="3.5" fill="url(#spot2)"/>
<circle cx="89.0" cy="164.2" r="3.5" fill="url(#spot2)"/>
<circle cx="89.0" cy="192.1" r="3.5" fill="url(#spot2)"/>
<circle cx="89.0" cy="218.6" r="3.5" fill="url(#spot2)"/>
<circle cx="89.0" cy="244.5" r="3.5" fill="url(#spot2)"/>
<circle cx="89.0" cy="276.0" r="3.5" fill="url(#spot2)"/>
<circle cx="89.0" cy="309.9" r="3.5" fill="url(#spot2)"/>
<circle cx="89.0" cy="338.8" r="3.5" fill="url(#spot2)"/>
<circle cx="89.0" cy="368.8" r="3.5" fill="url(#spot2)"/>
<circle cx="89.0" cy="399.2" r="3.5" fill="url(#spot2)"/>
<circle cx="89.0" cy="434.7" r="3.5" fill="url(#spot2)"/>
<circle cx="89.0" cy="473.1" r="3.5" fill="url(#spot2)"/>
<circle cx="89.0" cy="502.5" r="3.5" fill="url(#spot2)"/>
<circle cx="117.5" cy="14.0" r="3.5" fill="url(#spot2)"/>
<circle cx="117.5" cy="72.9" r="3.5" fill="url(#spot2)"/>
<circle cx="117.5" cy="100.3" r="3.5" fill="url(#spot2)"/>
<circle cx="117.5" cy="131.7" r="3.5" fill="url(#spot2)"/>
<circle cx="117.5" cy="164.2" r="3.5" fill="url(#spot2)"/>
<circle cx="117.5" cy="192.1" r="3.5" fill="url(#spot2)"/>
<circle cx="117.5" cy="218.6" r="3.5" fill="url(#spot2)"/>
<circle cx="117.5" cy="244.5" r="3.5" fill="url(#spot2)"/>
<circle cx="117.5" cy="276.0" r="3.5" fill="url(#spot2)"/>
<circle cx="117.5" cy="309.9" r="3.5" fill="url(#spot2)"/>
<circle cx="117.5" cy="338.8" r="3.5" fill="url(#spot2)"/>
<circle cx="117.5" cy="368.8" r="3.5" fill="url(#spot2)"/>
<circle cx="117.5" cy="399.2" r="3.5" fill="url(#spot2)"/>
<circle cx="117.5" cy="434.7" r="3.5" fill="url(#spot2)"/>
<circle cx="117.5" cy="473.1" r="3.5" fill="url(#spot2)"/>
<circle cx="117.5" cy="502.5" r="3.5" fill="url(#spot2)"/>
<circle cx="148.0" cy="14.0" r="3.5" fill="url(#spot2)"/>
<circle cx="148.0" cy="42.4" r="3.5" fill="url(#spot2)"/>
<circle cx="148.0" cy="100.3" r="3.5" fill="url(#spot2)"/>
<circle cx="148.0" cy="131.7" r="3.5" fill="url(#spot2)"/>
<circle cx="148.0" cy="164.2" r="3.5" fill="url(#spot2)"/>
<circle cx="148.0" cy="192.1" r="3.5" fill="url(#spot2)"/>
<circle cx="148.0" cy="218.6" r="3.5" fill="url(#spot2)"/>
<circle cx="148.0" cy="244.5" r="3.5" fill="url(#spot2)"/>
<circle cx="148.0" cy="276.0" r="3.5" fill="url(#spot2)"/>
<circle cx="148.0" cy="309.9" r="3.5" fill="url(#spot2)"/>
<circle cx="148.0" cy="338.8" r="3.5" fill="url(#spot2)"/>
<circle cx="148.0" cy="368.8" r="3.5" fill="url(#spot2)"/>
<circle cx="148.0" cy="399.2" r="3.5" fill="url(#spot2)"/>
<circle cx="148.0" cy="434.7" r="3.5" fill="url(#spot2)"/>
<circle cx="148.0" cy="473.1" r="3.5" fill="url(#spot2)"/>
<circle cx="148.0" cy="502.5" r="3.5" fill="url(#spot2)"/>
<circle cx="175.5" cy="14.0" r="3.5" fill="url(#spot2)"/>
<circle cx="175.5" cy="42.4" r="3.5" fill="url(#spot2)"/>
<circle cx="175.5" cy="72.9" r="3.5" fill="url(#spot2)"/>
<circle cx="175.5" cy="131.7" r="3.5" fill="url(#spot2)"/>
<circle cx="175.5" cy="164.2" r="3.5" fill="url(#spot2)"/>
<circle cx="175.5" cy="192.1" r="3.5" fill="url(#spot2)"/>
<circle cx="175.5" cy="218.6" r="3.5" fill="url(#spot2)"/>
<circle cx="175.5" cy="244.5" r="3.5" fill="url(#spot2)"/>
<circle cx="175.5" cy="276.0" r="3.5" fill="url(#spot2)"/>
<circle cx="175.5" cy="309.9" r="3.5" fill="url(#spot2)"/>
<circle cx="175.5" cy="338.8" r="3.5" fill="url(#spot2)"/>
<circle cx="175.5" cy="368.8" r="3.5" fill="url(#spot2)"/>
<circle cx="175.5" cy="399.2" r="3.5" fill="url(#spot2)"/>
<circle cx="175.5" cy="434.7" r="3.5" fill="url(#spot2)"/>
<circle cx="175.5" cy="473.1" r="3.5" fill="url(#spot2)"/>
<circle cx="175.5" cy="502.5" r="3.5" fill="url(#spot2)"/>
<circle cx="207.0" cy="14.0" r="3.5" fill="url(#spot2)"/>
<circle cx="207.0" cy="42.4" r="3.5" fill="url(#spot2)"/>
<circle cx="207.0" cy="72.9" r="3.5" fill="url(#spot2)"/>
<circle cx="207.0" cy="100.3" r="3.5" fill="url(#spot2)"/>
<circle cx="207.0" cy="164.2" r="3.5" fill="url(#spot2)"/>
<circle cx="207.0" cy="192.1" r="3.5" fill="url(#spot2)"/>
<circle cx="207.0" cy="218.6" r="3.5" fill="url(#spot2)"/>
<circle cx="207.0" cy="244.5" r="3.5" fill="url(#spot2)"/>
<circle cx="207.0" cy="276.0" r="3.5" fill="url(#spot2)"/>
<circle cx="207.0" cy="309.9" r="3.5" fill="url(#spot2)"/>
<circle cx="207.0" cy="338.8" r="3.5" fill="url(#spot2)"/>
<circle cx="207.0" cy="368.8" r="3.5" fill="url(#spot2)"/>
<circle cx="207.0" cy="399.2" r="3.5" fill="url(#spot2)"/>
<circle cx="207.0" cy="434.7" r="3.5" fill="url(#spot2)"/>
<circle cx="207.0" cy="473.1" r="3.5" fill="url(#spot2)"/>
<circle cx="207.0" cy="502.5" r="3.5" fill="url(#spot2)"/>
<circle cx="239.5" cy="14.0" r="3.5" fill="url(#spot2)"/>
<circle cx="239.5" cy="42.4" r="3.5" fill="url(#spot2)"/>
<circle cx="239.5" cy="72.9" r="3.5" fill="url(#spot2)"/>
<circle cx="239.5" cy="100.3" r="3.5" fill="url(#spot2)"/>
<circle cx="239.5" cy="131.7" r="3.5" fill="url(#spot2)"/>
<circle cx="239.5" cy="192.1" r="3.5" fill="url(#spot2)"/>
<circle cx="239.5" cy="218.6" r="3.5" fill="url(#spot2)"/>
<circle cx="239.5" cy="244.5" r="3.5" fill="url(#spot2)"/>
<circle cx="239.5" cy="276.0" r="3.5" fill="url(#spot2)"/>
<circle cx="239.5" cy="309.9" r="3.5" fill="url(#spot2)"/>
<circle cx="239.5" cy="338.8" r="3.5" fill="url(#spot2)"/>
<circle cx="239.5" cy="368.8" r="3.5" fill="url(#spot2)"/>
<circle cx="239.5" cy="399.2" r="3.5" fill="url(#spot2)"/>
<circle cx="239.5" cy="434.7" r="3.5" fill="url(#spot2)"/>
<circle cx="239.5" cy="473.1" r="3.5" fill="url(#spot2)"/>
<circle cx="239.5" cy="502.5" r="3.5" fill="url(#spot2)"/>
<circle cx="267.5" cy="14.0" r="3.5" fill="url(#spot2)"/>
<circle cx="267.5" cy="42.4" r="3.5" fill="url(#spot2)"/>
<circle cx="267.5" cy="72.9" r="3.5" fill="url(#spot2)"/>
<circle cx="267.5" cy="100.3" r="3.5" fill="url(#spot2)"/>
<circle cx="267.5" cy="131.7" r="3.5" fill="url(#spot2)"/>
<circle cx="267.5" cy="164.2" r="3.5" fill="url(#spot2)"/>
<circle cx="267.5" cy="218.6" r="3.5" fill="url(#spot2)"/>
<circle cx="267.5" cy="244.5" r="3.5" fill="url(#spot2)"/>
<circle cx="267.5" cy="276.0" r="3.5" fill="url(#spot2)"/>
<circle cx="267.5" cy="309.9" r="3.5" fill="url(#spot2)"/>
<circle cx="267.5" cy="338.8" r="3.5" fill="url(#spot2)"/>
<circle cx="267.5" cy="368.8" r="3.5" fill="url(#spot2)"/>
<circle cx="267.5" cy="399.2" r="3.5" fill="url(#spot2)"/>
<circle cx="267.5" cy="434.7" r="3.5" fill="url(#spot2)"/>
<circle cx="267.5" cy="473.1" r="3.5" fill="url(#spot2)"/>
<circle cx="267.5" cy="502.5" r="3.5" fill="url(#spot2)"/>
<circle cx="294.0" cy="14.0" r="3.5" fill="url(#spot2)"/>
<circle cx="294.0" cy="42.4" r="3.5" fill="url(#spot2)"/>
<circle cx="294.0" cy="72.9" r="3.5" fill="url(#spot2)"/>
<circle cx="294.0" cy="100.3" r="3.5" fill="url(#spot2)"/>
<circle cx="294.0" cy="131.7" r="3.5" fill="url(#spot2)"/>
<circle cx="294.0" cy="164.2" r="3.5" fill="url(#spot2)"/>
<circle cx="294.0" cy="192.1" r="3.5" fill="url(#spot2)"/>
<circle cx="294.0" cy="244.5" r="3.5" fill="url(#spot2)"/>
<circle cx="294.0" cy="276.0" r="3.5" fill="url(#spot2)"/>
<circle cx="294.0" cy="309.9" r="3.5" fill="url(#spot2)"/>
<circle cx="294.0" cy="338.8" r="3.5" fill="url(#spot2)"/>
<circle cx="294.0" cy="368.8" r="3.5" fill="url(#spot2)"/>
<circle cx="294.0" cy="399.2" r="3.5" fill="url(#spot2)"/>
<circle cx="294.0" cy="434.7" r="3.5" fill="url(#spot2)"/>
<circle cx="294.0" cy="473.1" r="3.5" fill="url(#spot2)"/>
<circle cx="294.0" cy="502.5" r="3.5" fill="url(#spot2)"/>
<circle cx="320.0" cy="14.0" r="3.5" fill="url(#spot2)"/>
<circle cx="320.0" cy="42.4" r="3.5" fill="url(#spot2)"/>
<circle cx="320.0" cy="72.9" r="3.5" fill="url(#spot2)"/>
<circle cx="320.0" cy="100.3" r="3.5" fill="url(#spot2)"/>
<circle cx="320.0" cy="131.7" r="3.5" fill="url(#spot2)"/>
<circle cx="320.0" cy="164.2" r="3.5" fill="url(#spot2)"/>
<circle cx="320.0" cy="192.1" r="3.5" fill="url(#spot2)"/>
<circle cx="320.0" cy="218.6" r="3.5" fill="url(#spot2)"/>
<circle cx="320.0" cy="276.0" r="3.5" fill="url(#spot2)"/>
<circle cx="320.0" cy="309.9" r="3.5" fill="url(#spot2)"/>
<circle cx="320.0" cy="338.8" r="3.5" fill="url(#spot2)"/>
<circle cx="320.0" cy="368.8" r="3.5" fill="url(#spot2)"/>
<circle cx="320.0" cy="399.2" r="3.5" fill="url(#spot2)"/>
<circle cx="320.0" cy="434.7" r="3.5" fill="url(#spot2)"/>
<circle cx="320.0" cy="473.1" r="3.5" fill="url(#spot2)"/>
<circle cx="320.0" cy="502.5" r="3.5" fill="url(#spot2)"/>
<circle cx="351.5" cy="14.0" r="3.5" fill="url(#spot2)"/>
<circle cx="351.5" cy="42.4" r="3.5" fill="url(#spot2)"/>
<circle cx="351.5" cy="72.9" r="3.5" fill="url(#spot2)"/>
<circle cx="351.5" cy="100.3" r="3.5" fill="url(#spot2)"/>
<circle cx="351.5" cy="131.7" r="3.5" fill="url(#spot2)"/>
<circle cx="351.5" cy="164.2" r="3.5" fill="url(#spot2)"/>
<circle cx="351.5" cy="192.1" r="3.5" fill="url(#spot2)"/>
<circle cx="351.5" cy="218.6" r="3.5" fill="url(#spot2)"/>
<circle cx="351.5" cy="244.5" r="3.5" fill="url(#spot2)"/>
<circle cx="351.5" cy="309.9" r="3.5" fill="url(#spot2)"/>
<circle cx="351.5" cy="338.8" r="3.5" fill="url(#spot2)"/>
<circle cx="351.5" cy="368.8" r="3.5" fill="url(#spot2)"/>
<circle cx="351.5" cy="399.2" r="3.5" fill="url(#spot2)"/>
<circle cx="351.5" cy="434.7" r="3.5" fill="url(#spot2)"/>
<circle cx="351.5" cy="473.1" r="3.5" fill="url(#spot2)"/>
<circle cx="351.5" cy="502.5" r="3.5" fill="url(#spot2)"/>
<circle cx="385.5" cy="14.0" r="3.5" fill="url(#spot2)"/>
<circle cx="385.5" cy="42.4" r="3.5" fill="url(#spot2)"/>
<circle cx="385.5" cy="72.9" r="3.5" fill="url(#spot2)"/>
<circle cx="385.5" cy="100.3" r="3.5" fill="url(#spot2)"/>
<circle cx="385.5" cy="131.7" r="3.5" fill="url(#spot2)"/>
<circle cx="385.5" cy="164.2" r="3.5" fill="url(#spot2)"/>
<circle cx="385.5" cy="192.1" r="3.5" fill="url(#spot2)"/>
<circle cx="385.5" cy="218.6" r="3.5" fill="url(#spot2)"/>
<circle cx="385.5" cy="244.5" r="3.5" fill="url(#spot2)"/>
<circle cx="385.5" cy="276.0" r="3.5" fill="url(#spot2)"/>
<circle cx="385.5" cy="338.8" r="3.5" fill="url(#spot2)"/>
<circle cx="385.5" cy="368.8" r="3.5" fill="url(#spot2)"/>
<circle cx="385.5" cy="399.2" r="3.5" fill="url(#spot2)"/>
<circle cx="385.5" cy="434.7" r="3.5" fill="url(#spot2)"/>
<circle cx="385.5" cy="473.1" r="3.5" fill="url(#spot2)"/>
<circle cx="385.5" cy="502.5" r="3.5" fill="url(#spot2)"/>
<circle cx="414.5" cy="14.0" r="3.5" fill="url(#spot2)"/>
<circle cx="414.5" cy="42.4" r="3.5" fill="url(#spot2)"/>
<circle cx="414.5" cy="72.9" r="3.5" fill="url(#spot2)"/>
<circle cx="414.5" cy="100.3" r="3.5" fill="url(#spot2)"/>
<circle cx="414.5" cy="131.7" r="3.5" fill="url(#spot2)"/>
<circle cx="414.5" cy="164.2" r="3.5" fill="url(#spot2)"/>
<circle cx="414.5" cy="192.1" r="3.5" fill="url(#spot2)"/>
<circle cx="414.5" cy="218.6" r="3.5" fill="url(#spot2)"/>
<circle cx="414.5" cy="244.5" r="3.5" fill="url(#spot2)"/>
<circle cx="414.5" cy="276.0" r="3.5" fill="url(#spot2)"/>
<circle cx="414.5" cy="309.9" r="3.5" fill="url(#spot2)"/>
<circle cx="414.5" cy="368.8" r="3.5" fill="url(#spot2)"/>
<circle cx="414.5" cy="399.2" r="3.5" fill="url(#spot2)"/>
<circle cx="414.5" cy="434.7" r="3.5" fill="url(#spot2)"/>
<circle cx="414.5" cy="473.1" r="3.5" fill="url(#spot2)"/>
<circle cx="414.5" cy="502.5" r="3.5" fill="url(#spot2)"/>
<circle cx="444.5" cy="14.0" r="3.5" fill="url(#spot2)"/>
<circle cx="444.5" cy="42.4" r="3.5" fill="url(#spot2)"/>
<circle cx="444.5" cy="72.9" r="3.5" fill="url(#spot2)"/>
<circle cx="444.5" cy="100.3" r="3.5" fill="url(#spot2)"/>
<circle cx="444.5" cy="131.7" r="3.5" fill="url(#spot2)"/>
<circle cx="444.5" cy="164.2" r="3.5" fill="url(#spot2)"/>
<circle cx="444.5" cy="192.1" r="3.5" fill="url(#spot2)"/>
<circle cx="444.5" cy="218.6" r="3.5" fill="url(#spot2)"/>
<circle cx="444.5" cy="244.5" r="3.5" fill="url(#spot2)"/>
<circle cx="444.5" cy="276.0" r="3.5" fill="url(#spot2)"/>
<circle cx="444.5" cy="309.9" r="3.5" fill="url(#spot2)"/>
<circle cx="444.5" cy="338.8" r="3.5" fill="url(#spot2)"/>
<circle cx="444.5" cy="399.2" r="3.5" fill="url(#spot2)"/>
<circle cx="444.5" cy="434.7" r="3.5" fill="url(#spot2)"/>
<circle cx="444.5" cy="473.1" r="3.5" fill="url(#spot2)"/>
<circle cx="444.5" cy="502.5" r="3.5" fill="url(#spot2)"/>
<circle cx="475.0" cy="14.0" r="3.5" fill="url(#spot2)"/>
<circle cx="475.0" cy="42.4" r="3.5" fill="url(#spot2)"/>
<circle cx="475.0" cy="72.9" r="3.5" fill="url(#spot2)"/>
<circle cx="475.0" cy="100.3" r="3.5" fill="url(#spot2)"/>
<circle cx="475.0" cy="131.7" r="3.5" fill="url(#spot2)"/>
<circle cx="475.0" cy="164.2" r="3.5" fill="url(#spot2)"/>
<circle cx="475.0" cy="192.1" r="3.5" fill="url(#spot2)"/>
<circle cx="475.0" cy="218.6" r="3.5" fill="url(#spot2)"/>
<circle cx="475.0" cy="244.5" r="3.5" fill="url(#spot2)"/>
<circle cx="475.0" cy="276.0" r="3.5" fill="url(#spot2)"/>
<circle cx="475.0" cy="309.9" r="3.5" fill="url(#spot2)"/>
<circle cx="475.0" cy="338.8" r="3.5" fill="url(#spot2)"/>
<circle cx="475.0" cy="368.8" r="3.5" fill="url(#spot2)"/>
<circle cx="475.0" cy="434.7" r="3.5" fill="url(#spot2)"/>
<circle cx="475.0" cy="473.1" r="3.5" fill="url(#spot2)"/>
<circle cx="475.0" cy="502.5" r="3.5" fill="url(#spot2)"/>
<circle cx="510.5" cy="14.0" r="3.5" fill="url(#spot2)"/>
<circle cx="510.5" cy="42.4" r="3.5" fill="url(#spot2)"/>
<circle cx="510.5" cy="72.9" r="3.5" fill="url(#spot2)"/>
<circle cx="510.5" cy="100.3" r="3.5" fill="url(#spot2)"/>
<circle cx="510.5" cy="131.7" r="3.5" fill="url(#spot2)"/>
<circle cx="510.5" cy="164.2" r="3.5" fill="url(#spot2)"/>
<circle cx="510.5" cy="192.1" r="3.5" fill="url(#spot2)"/>
<circle cx="510.5" cy="218.6" r="3.5" fill="url(#spot2)"/>
<circle cx="510.5" cy="244.5" r="3.5" fill="url(#spot2)"/>
<circle cx="510.5" cy="276.0" r="3.5" fill="url(#spot2)"/>
<circle cx="510.5" cy="309.9" r="3.5" fill="url(#spot2)"/>
<circle cx="510.5" cy="338.8" r="3.5" fill="url(#spot2)"/>
<circle cx="510.5" cy="368.8" r="3.5" fill="url(#spot2)"/>
<circle cx="510.5" cy="399.2" r="3.5" fill="url(#spot2)"/>
<circle cx="510.5" cy="473.1" r="3.5" fill="url(#spot2)"/>
<circle cx="510.5" cy="502.5" r="3.5" fill="url(#spot2)"/>
<circle cx="549.0" cy="14.0" r="3.5" fill="url(#spot2)"/>
<circle cx="549.0" cy="42.4" r="3.5" fill="url(#spot2)"/>
<circle cx="549.0" cy="72.9" r="3.5" fill="url(#spot2)"/>
<circle cx="549.0" cy="100.3" r="3.5" fill="url(#spot2)"/>
<circle cx="549.0" cy="131.7" r="3.5" fill="url(#spot2)"/>
<circle cx="549.0" cy="164.2" r="3.5" fill="url(#spot2)"/>
<circle cx="549.0" cy="192.1" r="3.5" fill="url(#spot2)"/>
<circle cx="549.0" cy="218.6" r="3.5" fill="url(#spot2)"/>
<circle cx="549.0" cy="244.5" r="3.5" fill="url(#spot2)"/>
<circle cx="549.0" cy="276.0" r="3.5" fill="url(#spot2)"/>
<circle cx="549.0" cy="309.9" r="3.5" fill="url(#spot2)"/>
<circle cx="549.0" cy="338.8" r="3.5" fill="url(#spot2)"/>
<circle cx="549.0" cy="368.8" r="3.5" fill="url(#spot2)"/>
<circle cx="549.0" cy="399.2" r="3.5" fill="url(#spot2)"/>
<circle cx="549.0" cy="434.7" r="3.5" fill="url(#spot2)"/>
<circle cx="549.0" cy="502.5" r="3.5" fill="url(#spot2)"/>
<circle cx="578.5" cy="14.0" r="3.5" fill="url(#spot2)"/>
<circle cx="578.5" cy="42.4" r="3.5" fill="url(#spot2)"/>
<circle cx="578.5" cy="72.9" r="3.5" fill="url(#spot2)"/>
<circle cx="578.5" cy="100.3" r="3.5" fill="url(#spot2)"/>
<circle cx="578.5" cy="131.7" r="3.5" fill="url(#spot2)"/>
<circle cx="578.5" cy="164.2" r="3.5" fill="url(#spot2)"/>
<circle cx="578.5" cy="192.1" r="3.5" fill="url(#spot2)"/>
<circle cx="578.5" cy="218.6" r="3.5" fill="url(#spot2)"/>
<circle cx="578.5" cy="244.5" r="3.5" fill="url(#spot2)"/>
<circle cx="578.5" cy="276.0" r="3.5" fill="url(#spot2)"/>
<circle cx="578.5" cy="309.9" r="3.5" fill="url(#spot2)"/>
<circle cx="578.5" cy="338.8" r="3.5" fill="url(#spot2)"/>
<circle cx="578.5" cy="368.8" r="3.5" fill="url(#spot2)"/>
<circle cx="578.5" cy="399.2" r="3.5" fill="url(#spot2)"/>
<circle cx="578.5" cy="434.7" r="3.5" fill="url(#spot2)"/>
<circle cx="578.5" cy="473.1" r="3.5" fill="url(#spot2)"/>
<rect x="76.00" y="1.00" width="26.00" height="25.95" fill="url(#dg0)"/>
<rect x="102.00" y="26.95" width="31.00" height="30.94" fill="url(#dg1)"/>
<rect x="133.00" y="57.89" width="30.00" height="29.94" fill="url(#dg2)"/>
<rect x="163.00" y="87.83" width="25.00" height="24.95" fill="url(#dg3)"/>
<rect x="188.00" y="112.78" width="38.00" height="37.93" fill="url(#dg4)"/>
<rect x="226.00" y="150.71" width="27.00" height="26.95" fill="url(#dg5)"/>
<rect x="253.00" y="177.66" width="29.00" height="28.94" fill="url(#dg6)"/>
<rect x="282.00" y="206.60" width="24.00" height="23.95" fill="url(#dg7)"/>
<rect x="306.00" y="230.55" width="28.00" height="27.95" fill="url(#dg8)"/>
<rect x="334.00" y="258.50" width="35.00" height="34.93" fill="url(#dg9)"/>
<rect x="369.00" y="293.43" width="33.00" height="32.94" fill="url(#dg10)"/>
<rect x="402.00" y="326.37" width="25.00" height="24.95" fill="url(#dg11)"/>
<rect x="427.00" y="351.32" width="35.00" height="34.93" fill="url(#dg12)"/>
<rect x="462.00" y="386.25" width="26.00" height="25.95" fill="url(#dg13)"/>
<rect x="488.00" y="412.20" width="45.00" height="44.91" fill="url(#dg14)"/>
<rect x="533.00" y="457.11" width="32.00" height="31.94" fill="url(#dg15)"/>
<rect x="565.00" y="489.05" width="27.00" height="26.95" fill="url(#dg16)"/>
<g stroke="#8c6e5e" stroke-width="0.75" stroke-dasharray="2 2.2" opacity="0.6">
<line x1="102.0" y1="1.0" x2="102.0" y2="516.0"/>
<line x1="76.0" y1="26.9" x2="592.0" y2="26.9"/>
<line x1="133.0" y1="1.0" x2="133.0" y2="516.0"/>
<line x1="76.0" y1="57.9" x2="592.0" y2="57.9"/>
<line x1="163.0" y1="1.0" x2="163.0" y2="516.0"/>
<line x1="76.0" y1="87.8" x2="592.0" y2="87.8"/>
<line x1="188.0" y1="1.0" x2="188.0" y2="516.0"/>
<line x1="76.0" y1="112.8" x2="592.0" y2="112.8"/>
<line x1="226.0" y1="1.0" x2="226.0" y2="516.0"/>
<line x1="76.0" y1="150.7" x2="592.0" y2="150.7"/>
<line x1="253.0" y1="1.0" x2="253.0" y2="516.0"/>
<line x1="76.0" y1="177.7" x2="592.0" y2="177.7"/>
<line x1="282.0" y1="1.0" x2="282.0" y2="516.0"/>
<line x1="76.0" y1="206.6" x2="592.0" y2="206.6"/>
<line x1="306.0" y1="1.0" x2="306.0" y2="516.0"/>
<line x1="76.0" y1="230.6" x2="592.0" y2="230.6"/>
<line x1="334.0" y1="1.0" x2="334.0" y2="516.0"/>
<line x1="76.0" y1="258.5" x2="592.0" y2="258.5"/>
<line x1="369.0" y1="1.0" x2="369.0" y2="516.0"/>
<line x1="76.0" y1="293.4" x2="592.0" y2="293.4"/>
<line x1="402.0" y1="1.0" x2="402.0" y2="516.0"/>
<line x1="76.0" y1="326.4" x2="592.0" y2="326.4"/>
<line x1="427.0" y1="1.0" x2="427.0" y2="516.0"/>
<line x1="76.0" y1="351.3" x2="592.0" y2="351.3"/>
<line x1="462.0" y1="1.0" x2="462.0" y2="516.0"/>
<line x1="76.0" y1="386.3" x2="592.0" y2="386.3"/>
<line x1="488.0" y1="1.0" x2="488.0" y2="516.0"/>
<line x1="76.0" y1="412.2" x2="592.0" y2="412.2"/>
<line x1="533.0" y1="1.0" x2="533.0" y2="516.0"/>
<line x1="76.0" y1="457.1" x2="592.0" y2="457.1"/>
<line x1="565.0" y1="1.0" x2="565.0" y2="516.0"/>
<line x1="76.0" y1="489.1" x2="592.0" y2="489.1"/>
</g>
<line x1="76.0" y1="1.0" x2="592.0" y2="516.0" stroke="#c42c1e" stroke-width="0.8"/>
<rect x="76.0" y="1.0" width="516.0" height="515.0" fill="none" stroke="#555" stroke-width="1"/>
<line x1="76.0" y1="1.0" x2="76.0" y2="516.5" stroke="#222" stroke-width="1.3"/>
<line x1="76.0" y1="516.0" x2="592.0" y2="516.0" stroke="#222" stroke-width="1.3"/>
<g stroke="#333" stroke-width="1">
<line x1="73.0" y1="78.8" x2="76.0" y2="78.8"/>
<line x1="153.6" y1="516.0" x2="153.6" y2="519.0"/>
<line x1="73.0" y1="156.6" x2="76.0" y2="156.6"/>
<line x1="231.2" y1="516.0" x2="231.2" y2="519.0"/>
<line x1="73.0" y1="234.4" x2="76.0" y2="234.4"/>
<line x1="308.8" y1="516.0" x2="308.8" y2="519.0"/>
<line x1="73.0" y1="312.2" x2="76.0" y2="312.2"/>
<line x1="386.4" y1="516.0" x2="386.4" y2="519.0"/>
<line x1="73.0" y1="390.0" x2="76.0" y2="390.0"/>
<line x1="464.0" y1="516.0" x2="464.0" y2="519.0"/>
<line x1="73.0" y1="467.8" x2="76.0" y2="467.8"/>
<line x1="541.6" y1="516.0" x2="541.6" y2="519.0"/>
</g>
<g font-family="Liberation Sans, sans-serif" font-weight="bold" font-size="16.5" fill="#111">
<text x="25.8" y="22.3">chr1</text>
<text x="25.8" y="48.0">chr2</text>
<text x="25.8" y="82.8">chr3</text>
<text x="25.8" y="106.9">chr4</text>
<text x="25.8" y="137.5">chr5</text>
<text x="25.8" y="172.0">chr6</text>
<text x="25.8" y="198.2">chr7</text>
<text x="25.8" y="226.7">chr8</text>
<text x="25.8" y="252.1">chr9</text>
<text x="25.8" y="282.1">chr10</text>
<text x="25.8" y="315.6">chr11</text>
<text x="25.8" y="345.1">chr12</text>
<text x="25.8" y="374.5">chr13</text>
<text x="25.8" y="405.8">chr14</text>
<text x="25.8" y="442.8">chr15</text>
<text x="25.8" y="478.9">chr16</text>
<text x="25.8" y="507.4">chr17</text>
</g>
<g font-family="Liberation Sans, sans-serif" font-weight="bold" font-size="16.5" fill="#111">
<text transform="translate(83.8,525.4) rotate(90)" x="0" y="0">chr1</text>
<text transform="translate(112.2,525.4) rotate(90)" x="0" y="0">chr2</text>
<text transform="translate(142.1,525.4) rotate(90)" x="0" y="0">chr3</text>
<text transform="translate(168.5,525.4) rotate(90)" x="0" y="0">chr4</text>
<text transform="translate(201.3,525.4) rotate(90)" x="0" y="0">chr5</text>
<text transform="translate(232.4,525.4) rotate(90)" x="0" y="0">chr6</text>
<text transform="translate(261.2,525.4) rotate(90)" x="0" y="0">chr7</text>
<text transform="translate(288.0,525.4) rotate(90)" x="0" y="0">chr8</text>
<text transform="translate(314.4,525.4) rotate(90)" x="0" y="0">chr9</text>
<text transform="translate(347.7,525.4) rotate(90)" x="0" y="0">chr10</text>
<text transform="translate(379.3,525.4) rotate(90)" x="0" y="0">chr11</text>
<text transform="translate(408.0,525.4) rotate(90)" x="0" y="0">chr12</text>
<text transform="translate(438.4,525.4) rotate(90)" x="0" y="0">chr13</text>
<text transform="translate(468.7,525.4) rotate(90)" x="0" y="0">chr14</text>
<text transform="translate(503.4,525.4) rotate(90)" x="0" y="0">chr15</text>
<text transform="translate(540.9,525.4) rotate(90)" x="0" y="0">chr16</text>
<text transform="translate(571.2,525.4) rotate(90)" x="0" y="0">chr17</text>
</g>
<text x="4" y="26.5" font-family="Liberation Sans, sans-serif" font-weight="bold" font-size="33" fill="#000">a</text>
<text x="3.5" y="630.5" font-family="Liberation Sans, sans-serif" font-weight="bold" font-size="32" fill="#000">b</text>
<rect x="629" y="1.0" width="26" height="513" fill="url(#cbar)" stroke="#333" stroke-width="1.2"/>
<g font-family="Liberation Sans, sans-serif" font-weight="bold" font-size="16.5" fill="#111">
<line x1="655" y1="512.0" x2="659" y2="512.0" stroke="#333" stroke-width="1.2"/>
<text x="663" y="518.0">0</text>
<line x1="655" y1="423.0" x2="659" y2="423.0" stroke="#333" stroke-width="1.2"/>
<text x="663" y="429.0">2</text>
<line x1="655" y1="334.0" x2="659" y2="334.0" stroke="#333" stroke-width="1.2"/>
<text x="663" y="340.0">4</text>
<line x1="655" y1="244.5" x2="659" y2="244.5" stroke="#333" stroke-width="1.2"/>
<text x="663" y="250.5">6</text>
<line x1="655" y1="155.5" x2="659" y2="155.5" stroke="#333" stroke-width="1.2"/>
<text x="663" y="161.5">8</text>
<line x1="655" y1="66.5" x2="659" y2="66.5" stroke="#333" stroke-width="1.2"/>
<text x="663" y="72.5">10</text>
</g>
<defs>
<clipPath id="cr3"><path d="M357.7 634.7A297.5 297.5 0 0 1 438.4 651.7L430.3 673.8A274.0 274.0 0 0 0 356.3 658.2Z"/><path d="M451.3 656.7A297.5 297.5 0 0 1 532.4 706.9L516.8 724.5A274.0 274.0 0 0 0 442.4 678.5Z"/><path d="M542.6 716.2A297.5 297.5 0 0 1 599.4 790.8L578.6 801.8A274.0 274.0 0 0 0 526.5 733.3Z"/><path d="M605.7 803.1A297.5 297.5 0 0 1 629.7 876.6L606.6 880.8A274.0 274.0 0 0 0 584.5 813.4Z"/><path d="M631.9 890.3A297.5 297.5 0 0 1 625.6 1004.8L602.9 998.9A274.0 274.0 0 0 0 608.7 893.7Z"/><path d="M621.9 1018.1A297.5 297.5 0 0 1 584.0 1097.7L564.6 1084.5A274.0 274.0 0 0 0 599.4 1011.4Z"/><path d="M576.0 1109.0A297.5 297.5 0 0 1 513.1 1171.5L499.4 1152.4A274.0 274.0 0 0 0 557.1 1095.1Z"/><path d="M501.8 1179.4A297.5 297.5 0 0 1 431.4 1213.7L424.1 1191.4A274.0 274.0 0 0 0 488.7 1159.9Z"/><path d="M418.2 1217.8A297.5 297.5 0 0 1 332.8 1229.0L333.3 1205.5A274.0 274.0 0 0 0 411.6 1195.2Z"/><path d="M319.0 1228.4A297.5 297.5 0 0 1 213.6 1202.1L223.5 1180.8A274.0 274.0 0 0 0 320.3 1205.0Z"/><path d="M201.2 1196.0A297.5 297.5 0 0 1 120.2 1134.9L137.4 1118.9A274.0 274.0 0 0 0 211.8 1175.1Z"/><path d="M111.0 1124.6A297.5 297.5 0 0 1 68.2 1058.3L89.5 1048.4A274.0 274.0 0 0 0 128.8 1109.2Z"/><path d="M62.6 1045.7A297.5 297.5 0 0 1 39.9 939.4L63.4 939.0A274.0 274.0 0 0 0 84.2 1036.5Z"/><path d="M39.9 925.6A297.5 297.5 0 0 1 52.0 847.2L74.5 854.0A274.0 274.0 0 0 0 63.4 925.9Z"/><path d="M56.2 834.0A297.5 297.5 0 0 1 130.2 718.0L146.4 734.9A274.0 274.0 0 0 0 78.5 841.6Z"/><path d="M140.3 708.6A297.5 297.5 0 0 1 226.2 655.5L234.8 677.4A274.0 274.0 0 0 0 156.0 726.1Z"/><path d="M239.1 650.7A297.5 297.5 0 0 1 322.6 634.4L323.5 657.8A274.0 274.0 0 0 0 247.0 672.8Z"/></clipPath>
<clipPath id="cr4"><path d="M359.7 599.3A333.0 333.0 0 0 1 450.7 618.4L442.6 640.5A309.5 309.5 0 0 0 358.3 622.7Z"/><path d="M464.7 623.8A333.0 333.0 0 0 1 555.8 680.2L540.3 697.9A309.5 309.5 0 0 0 455.8 645.6Z"/><path d="M566.9 690.3A333.0 333.0 0 0 1 630.8 774.2L610.0 785.2A309.5 309.5 0 0 0 550.8 707.4Z"/><path d="M637.6 787.6A333.0 333.0 0 0 1 664.6 870.3L641.5 874.5A309.5 309.5 0 0 0 616.5 797.8Z"/><path d="M667.1 885.1A333.0 333.0 0 0 1 660.0 1013.8L637.2 1007.9A309.5 309.5 0 0 0 643.8 888.5Z"/><path d="M655.9 1028.2A333.0 333.0 0 0 1 613.3 1117.8L593.9 1104.5A309.5 309.5 0 0 0 633.4 1021.6Z"/><path d="M604.7 1130.0A333.0 333.0 0 0 1 533.9 1200.3L520.2 1181.2A309.5 309.5 0 0 0 585.7 1116.1Z"/><path d="M521.6 1208.8A333.0 333.0 0 0 1 442.4 1247.5L435.1 1225.2A309.5 309.5 0 0 0 508.5 1189.3Z"/><path d="M428.0 1251.9A333.0 333.0 0 0 1 332.0 1264.5L332.5 1241.0A309.5 309.5 0 0 0 421.5 1229.3Z"/><path d="M317.0 1263.9A333.0 333.0 0 0 1 198.6 1234.3L208.5 1212.9A309.5 309.5 0 0 0 318.3 1240.4Z"/><path d="M185.1 1227.7A333.0 333.0 0 0 1 94.1 1159.0L111.4 1143.0A309.5 309.5 0 0 0 195.8 1206.7Z"/><path d="M84.1 1147.8A333.0 333.0 0 0 1 36.0 1073.2L57.3 1063.4A309.5 309.5 0 0 0 101.9 1132.4Z"/><path d="M29.9 1059.5A333.0 333.0 0 0 1 4.4 940.2L27.9 939.7A309.5 309.5 0 0 0 51.5 1050.4Z"/><path d="M4.4 925.2A333.0 333.0 0 0 1 18.0 836.9L40.5 843.7A309.5 309.5 0 0 0 27.9 925.5Z"/><path d="M22.6 822.6A333.0 333.0 0 0 1 105.6 692.3L121.9 709.3A309.5 309.5 0 0 0 44.9 830.1Z"/><path d="M116.6 682.1A333.0 333.0 0 0 1 213.2 622.5L221.8 644.4A309.5 309.5 0 0 0 132.3 699.6Z"/><path d="M227.2 617.2A333.0 333.0 0 0 1 321.3 598.9L322.2 622.4A309.5 309.5 0 0 0 235.1 639.4Z"/></clipPath>
</defs>
<g clip-path="url(#cr3)"><g fill="none" stroke-width="25.5" transform="rotate(-90 337.3 931.5)">
<circle cx="337.3" cy="931.5" r="285.75" stroke="#fbf3fa"/>
<circle cx="337.3" cy="931.5" r="285.75" stroke="#f5e0f1" stroke-dasharray="0.0 27.4 3.0 0.0 1.6 0.0 1.6 0.0 2.7 0.0 2.9 0.0 2.8 0.0 3.0 0.0 2.6 1.2 1.2 4.7 1.2 0.0 1.4 1.6 1.4 7.1 2.9 77.0 1.4 11.9 1.4 0.0 1.6 0.0 3.0 2.7 2.4 0.0 1.0 175.1 2.5 0.0 2.4 0.0 1.0 0.0 2.3 10.0 2.2 0.0 1.5 0.0 1.7 33.3 2.9 0.0 2.0 0.0 3.0 0.0 2.2 5.4 2.2 0.0 3.0 0.0 2.5 0.0 2.6 0.0 1.7 15.0 1.7 0.0 2.5 7.8 1.6 0.0 1.9 0.0 1.2 0.0 2.1 0.0 2.4 1.4 1.2 3.3 2.4 5.4 1.6 4.6 2.6 0.0 1.3 7.8 2.1 26.9 2.6 6.1 1.2 0.0 1.1 0.0 2.2 0.0 1.4 0.0 1.5 5.3 1.5 32.3 2.8 41.6 2.7 0.0 1.3 13.3 1.2 0.0 2.0 20.4 2.8 7.6 3.0 0.0 2.3 79.4 1.1 0.0 2.4 11.0 1.7 0.0 1.5 0.0 2.8 0.0 1.2 1.9 2.2 0.0 1.5 0.0 2.5 0.0 1.6 0.0 3.0 0.0 1.9 0.0 2.0 0.0 2.1 0.0 2.6 2.0 0.3 43.4 1.1 3.6 2.5 0.0 1.5 1.9 1.7 6.1 2.8 1.8 1.4 1.3 1.4 0.0 3.0 0.0 2.7 25.0 2.2 1.6 2.4 0.0 2.4 3.4 1.6 0.0 1.4 0.0 2.1 2.9 1.4 2.3 2.3 0.0 1.9 0.0 1.7 0.0 1.6 0.0 1.3 0.0 1.5 0.0 1.3 2.4 1.8 0.0 1.1 0.0 2.2 0.0 1.6 0.0 2.8 16.7 2.9 0.0 2.4 0.0 1.0 0.0 2.0 0.0 2.1 0.0 2.9 0.0 1.7 0.0 2.4 36.9 2.2 0.0 2.9 5.1 1.2 0.0 1.6 0.0 1.7 2.1 2.6 1.6 3.0 16.3 1.2 1.4 2.0 0.0 1.1 0.0 2.3 2.7 1.9 2.3 1.6 64.0 2.3 20.3 2.6 0.0 2.7 0.0 1.5 6.8 1.5 2.1 2.6 122.8 1.1 0.0 1.2 1.7 2.9 0.0 2.0 10.7 2.0 166.0 1.3 0.0 1.7 2.9 2.7 0.0 2.2 4.3 1.1 3.7 2.5 45.1 1.3 0.0 2.8 1.7 1.5 0.0 1.7 0.0 0.4 62.8 1.2 0.0 2.9 8.1 2.0 0.0 2.0 0.0 1.4 5.3 2.6 0.0 2.6 0.0 1.0 0.0 1.7 12.8 2.6 0.0 1.7 42.3 2.3 0.0 2.8 4.6 1.5 0.0 2.4 0.0 2.4 9.2 2.4 0.0 1.1 8.0 1.2 1.4 1.8 1.5 1.7 0.0 1.9 1.6 1.9 0.0 1.7 0.0 2.9 0.0 2.5 5.8 0.6 -0.2"/>
<circle cx="337.3" cy="931.5" r="285.75" stroke="#f0cee9" stroke-dasharray="0.0 49.9 1.2 0.0 2.1 0.0 1.4 2.7 1.6 1.4 1.2 0.0 1.4 1.6 1.2 0.0 1.7 2.9 1.4 0.0 2.8 0.0 2.5 68.7 1.6 1.4 2.8 0.0 2.2 0.0 2.7 0.0 2.4 0.0 1.9 6.0 2.7 3.4 1.9 0.0 1.3 0.0 2.3 0.0 2.6 0.0 2.4 8.1 2.8 2.9 2.2 0.0 1.7 0.0 2.9 0.0 2.3 30.2 2.3 0.0 1.6 0.0 2.7 0.0 2.9 0.0 2.1 14.1 2.6 0.0 1.9 21.0 2.5 0.0 2.8 35.8 1.4 0.0 1.4 4.4 2.3 0.0 3.0 0.0 1.5 0.0 2.6 0.0 2.8 15.9 2.4 5.5 1.5 0.0 2.9 0.0 3.0 0.0 2.2 0.0 1.1 32.8 1.4 0.0 2.1 0.0 1.9 11.9 2.2 0.0 2.5 0.0 2.8 0.0 1.1 0.0 2.2 0.0 2.1 0.0 2.1 4.2 1.1 0.0 2.5 0.0 1.8 0.0 2.3 9.2 1.4 1.2 1.6 0.0 1.7 2.4 2.8 0.0 2.6 1.6 1.5 0.0 1.7 0.0 1.4 3.9 2.8 0.0 2.1 0.0 2.9 2.1 1.2 2.5 1.4 0.0 2.0 0.0 2.9 0.0 2.0 0.0 2.8 0.0 2.6 0.0 2.7 0.0 1.7 7.6 1.8 0.0 1.7 0.0 1.4 0.0 1.1 49.3 2.6 0.0 1.3 0.0 1.6 0.0 1.9 0.0 1.7 0.0 1.9 0.0 2.7 0.0 2.4 24.1 1.4 4.0 1.8 0.0 2.0 0.0 2.5 1.8 1.8 42.6 1.8 0.0 2.6 0.0 1.3 0.0 2.1 57.2 2.9 0.0 1.9 2.8 2.7 0.0 2.8 0.0 1.4 3.5 2.4 0.0 2.4 0.0 1.4 0.0 2.4 0.0 2.3 28.4 2.0 30.6 1.2 0.0 1.3 2.7 1.1 0.0 2.9 0.0 2.0 3.0 1.8 0.0 1.8 4.0 1.9 1.7 1.1 0.0 2.3 0.0 2.7 2.8 1.8 1.4 1.3 7.1 2.4 0.0 1.5 0.0 1.8 0.0 2.4 0.0 2.9 2.5 1.6 0.0 1.2 0.0 2.0 0.0 1.7 26.5 2.3 11.4 2.4 43.6 2.9 0.0 2.0 0.0 1.7 10.8 2.6 6.2 2.4 0.0 1.2 12.2 2.3 0.0 2.9 20.2 1.6 0.0 2.1 0.0 1.5 0.0 1.7 0.0 2.8 1.2 1.4 19.5 2.6 19.2 2.5 0.0 1.2 0.0 1.7 21.7 2.3 2.7 2.0 0.0 2.4 2.3 2.2 0.0 2.0 0.0 2.2 0.0 2.9 0.0 2.5 2.5 1.3 0.0 2.0 22.7 1.1 0.0 2.7 0.0 1.8 0.0 2.2 0.0 1.4 0.0 2.7 74.1 1.3 0.0 1.5 0.0 2.5 0.0 1.0 0.0 2.9 0.0 2.1 0.0 1.2 0.0 1.2 0.0 1.3 4.4 2.1 5.6 1.8 3.1 1.3 0.0 1.1 0.0 2.3 24.0 2.9 0.0 1.0 5.0 1.7 0.0 2.2 0.0 2.0 0.0 1.1 0.0 2.6 0.0 2.7 0.0 1.2 0.0 2.7 0.0 2.6 0.0 1.1 0.0 2.1 9.7 2.6 0.0 1.9 0.0 1.2 0.0 1.2 0.0 2.3 0.0 1.6 0.0 2.1 0.0 2.1 0.0 1.2 0.0 1.9 0.0 2.3 0.0 1.8 0.0 1.2 0.0 1.4 0.0 1.3 0.0 1.8 0.0 2.7 61.1 1.5 2.9 2.1 10.9 1.1 0.0 2.7 0.0 2.0 6.0 2.0 16.0 1.0 0.0 2.7 2.5 1.0 0.0 2.7 0.0 1.7 0.0 1.5 0.0 2.0 0.0 1.5 3.9 1.5 0.0 1.5 0.0 1.4 0.0 2.4 0.0 2.6 0.0 1.5 0.0 1.8 0.0 2.8 7.1 1.0 0.0 2.8 1.4 1.7 0.0 1.3 67.0 2.0 0.0 1.0 0.0 2.3 4.1 1.9 0.0 2.7 1.5 2.1 5.4 2.9 0.0 2.4 46.9 1.7 0.0 2.0 0.0 2.1 0.0 2.5 5.5 1.8 0.0 2.9 0.0 1.9 5.1 2.1 0.0 2.5 6.4 1.9 0.0 2.8 0.0 1.1 0.0 1.3 0.0 2.1 5.4 1.1 0.0 2.9 0.0 2.0 1.2 1.4 1.8 1.5 3.6 1.6 9.1 2.4 0.0 1.9 0.0 1.4 0.3"/>
<circle cx="337.3" cy="931.5" r="285.75" stroke="#ebbbe0" stroke-dasharray="0.0 62.9 1.6 12.5 1.4 0.0 1.8 0.0 1.1 0.0 1.5 0.0 2.2 39.0 2.2 4.1 2.5 0.0 1.9 0.0 1.1 0.0 2.0 3.7 1.4 0.0 2.8 37.5 1.0 0.0 2.4 0.0 2.4 0.0 2.2 2.8 2.9 9.2 2.3 5.1 2.1 1.6 1.2 10.6 2.9 0.0 2.9 0.0 1.6 13.8 2.9 0.0 2.1 0.0 2.4 0.0 2.9 0.0 1.5 4.6 2.8 0.0 2.6 0.0 2.4 0.0 1.7 0.0 1.2 0.0 1.5 0.0 1.7 0.0 2.1 2.3 2.7 5.3 1.4 0.0 2.8 1.5 2.7 16.0 1.4 0.0 2.8 1.1 1.6 2.0 2.4 2.7 2.0 0.0 2.4 46.6 1.3 119.8 1.2 0.0 1.3 97.4 2.1 0.0 2.6 0.0 2.2 5.8 2.9 0.0 2.6 17.5 1.8 52.2 2.1 0.0 2.3 0.0 2.9 0.0 1.9 0.0 2.5 30.1 1.4 2.1 1.2 2.9 1.6 0.0 2.8 0.0 2.2 0.0 1.1 4.8 2.8 74.3 2.1 0.0 2.6 0.0 1.1 0.0 2.2 2.5 2.7 153.6 1.5 0.0 1.6 1.1 1.2 0.0 2.5 1.3 1.5 2.6 2.4 1.7 2.1 67.3 1.0 0.0 2.0 0.0 2.6 2.6 3.0 0.0 2.4 2.8 1.8 0.0 2.3 0.0 1.7 0.0 2.8 0.0 2.5 5.4 1.8 0.0 2.1 0.0 1.6 18.4 2.7 18.4 2.5 3.2 2.9 94.1 3.0 2.4 1.1 0.0 1.4 0.0 1.4 0.0 2.5 15.0 2.5 0.0 1.8 2.1 2.7 0.0 2.9 1.8 1.8 0.0 1.3 59.5 2.3 2.2 2.5 0.0 2.8 30.6 3.0 0.0 2.4 3.3 1.9 41.8 2.2 0.0 2.3 0.0 2.5 0.0 1.7 1.5 2.9 2.1 1.2 4.4 3.0 8.1 2.0 0.0 2.0 0.0 2.0 34.6 1.3 0.0 2.6 15.5 1.8 0.0 1.7 0.0 1.8 0.0 1.9 3.8 1.4 25.0 1.3 0.0 2.1 17.8 2.2 1.6 2.8 0.0 1.9 0.0 2.8 4.8 2.4 3.4 1.7 13.9 1.5 56.8 2.9 8.3 1.5 0.0 1.1 0.0 2.9 35.3 1.9 32.4"/>
<circle cx="337.3" cy="931.5" r="285.75" stroke="#e6a9d8" stroke-dasharray="0.0 84.9 1.1 0.0 2.1 0.0 2.8 0.0 1.0 0.0 1.3 23.4 1.7 0.0 2.8 0.0 2.7 2.2 1.2 0.0 3.0 7.4 2.2 0.0 1.5 66.9 0.1 7.1 1.6 3.3 2.6 0.0 2.6 0.0 1.3 0.0 2.0 19.0 2.2 32.5 2.3 12.2 1.5 2.7 1.8 0.0 1.0 4.9 1.4 11.1 1.1 1.6 2.0 57.5 2.2 0.0 2.0 0.0 1.7 220.6 1.6 0.0 1.8 0.0 2.5 88.8 2.0 0.0 1.8 2.1 1.9 13.5 2.0 0.0 1.6 0.0 2.8 0.0 2.3 1.4 2.1 1.2 2.9 79.3 1.4 4.1 1.4 0.0 1.9 0.0 1.5 64.9 2.5 102.5 1.1 3.7 1.3 6.5 1.7 5.8 2.1 75.3 2.8 22.0 1.2 0.0 1.4 0.0 2.4 0.0 2.9 0.0 1.4 70.6 1.9 0.0 1.7 0.0 2.2 2.6 2.9 0.0 3.0 0.0 2.5 16.5 2.5 0.0 1.8 0.0 1.9 0.0 2.3 7.5 1.2 0.0 2.3 0.0 2.8 0.0 1.9 0.0 1.9 0.0 2.9 3.0 2.4 100.3 2.2 41.3 2.1 0.0 1.1 1.9 2.1 0.0 2.0 0.0 2.5 1.1 2.1 0.0 2.2 14.0 2.4 9.2 1.6 0.0 2.7 16.5 2.3 0.0 2.1 3.0 2.3 97.6 2.5 0.0 1.4 0.0 1.6 3.4 1.9 0.0 2.7 8.2 2.0 0.0 1.9 0.0 1.1 2.2 1.6 7.5 2.8 0.0 2.0 2.4 2.2 0.0 1.2 59.9 1.8 5.7 1.4 2.4 2.8 86.2"/>
<circle cx="337.3" cy="931.5" r="285.75" stroke="#e197cf" stroke-dasharray="0.0 93.4 2.1 0.0 3.0 0.0 2.4 0.0 1.0 0.0 1.3 5.0 2.0 0.0 1.6 0.0 2.5 0.0 2.5 101.6 2.1 83.6 2.9 0.0 2.0 1.4 1.2 0.0 0.7 77.5 1.6 0.0 1.6 0.0 1.3 1.8 3.0 222.8 0.8 86.3 2.1 1.9 1.6 0.0 2.5 0.0 2.5 1.2 0.7 93.8 2.6 0.0 1.9 0.0 2.6 1.4 2.0 0.0 2.1 306.2 1.9 74.5 1.4 0.0 1.3 8.3 1.3 0.0 1.8 0.0 0.7 5.0 1.7 0.0 1.6 0.0 1.6 0.0 2.9 8.5 1.8 0.0 1.8 0.0 2.6 0.0 1.2 173.9 1.1 9.3 2.6 0.0 1.4 0.0 2.2 5.2 1.6 4.5 1.6 0.0 1.5 144.7 2.5 0.0 1.3 0.0 1.4 88.6 1.0 0.0 2.3 0.0 2.4 1.4 2.4 89.0"/>
<circle cx="337.3" cy="931.5" r="285.75" stroke="#dc84c7" stroke-dasharray="0.0 394.1 1.8 3.0 1.1 319.3 1.2 723.5 2.8 4.0 2.4 0.0 2.1 129.2 2.1 13.6 2.9 192.3"/>
</g></g>
<g clip-path="url(#cr4)"><g fill="none" stroke-width="25.5" transform="rotate(-90 337.3 931.5)">
<circle cx="337.3" cy="931.5" r="321.25" stroke="#fbf3fa"/>
<circle cx="337.3" cy="931.5" r="321.25" stroke="#f5e0f1" stroke-dasharray="0.0 438.8 2.0 0.0 2.0 4.9 1.9 511.8 3.0 0.0 1.2 2.1 1.7 0.0 2.4 5.6 1.7 1.8 2.6 74.0 2.8 0.0 2.6 1.3 3.3 0.0 1.5 93.8 2.1 2.7 2.9 0.0 1.4 3.9 2.8 480.6 2.4 226.8 2.0 8.7 1.0 118.6 0.0 -0.3"/>
<circle cx="337.3" cy="931.5" r="321.25" stroke="#f0cee9" stroke-dasharray="0.0 36.1 2.1 0.0 2.5 0.0 2.4 0.0 1.9 0.0 2.7 0.0 3.0 18.2 3.1 0.0 2.2 12.3 1.5 15.5 1.8 16.4 2.7 0.0 2.0 0.0 2.3 13.3 2.0 67.2 2.5 0.0 2.7 0.0 2.0 143.3 1.1 51.5 1.4 0.0 1.7 7.7 3.0 0.0 1.9 0.0 3.3 0.0 2.5 0.0 2.8 4.0 1.9 0.0 3.0 87.8 2.8 12.4 2.2 0.0 2.1 0.0 2.4 0.0 1.2 0.0 1.3 5.2 1.4 0.0 1.5 0.0 1.2 0.0 2.9 0.0 1.5 1.8 1.9 20.2 1.8 5.9 2.0 86.6 1.8 0.0 1.6 23.5 2.6 3.1 1.6 88.1 1.3 0.0 3.2 0.0 2.7 78.2 1.1 1.3 1.4 38.6 1.3 14.4 1.5 4.2 2.1 6.8 1.2 0.0 1.7 1.7 1.8 2.6 1.9 0.0 2.6 36.3 1.8 0.0 1.5 0.0 1.3 19.2 3.3 0.0 2.0 0.0 1.2 0.0 2.9 5.4 1.3 4.8 3.1 85.0 1.3 0.0 2.8 0.0 1.5 2.1 2.7 4.3 1.8 0.0 2.1 2.8 2.0 104.1 2.7 78.5 2.9 0.0 1.2 0.0 2.0 0.0 2.3 156.2 1.6 0.0 2.3 3.3 2.5 95.4 1.2 12.5 1.7 5.8 2.5 2.4 1.5 8.1 1.3 0.0 2.3 197.1 1.9 6.5 1.8 0.0 3.2 0.0 3.3 2.0 1.4 0.0 1.3 0.0 1.9 0.0 1.5 0.0 2.7 116.4 3.2 -0.3"/>
<circle cx="337.3" cy="931.5" r="321.25" stroke="#ebbbe0" stroke-dasharray="0.0 5.9 1.2 0.0 2.5 6.2 2.7 0.0 2.8 0.0 2.4 0.0 3.3 2.8 1.7 0.0 1.5 0.0 3.1 18.8 3.1 0.0 1.7 0.0 2.9 4.7 1.6 5.3 2.4 0.0 3.3 0.0 1.5 0.0 1.9 0.0 3.2 1.5 3.1 0.0 1.6 0.0 1.2 0.0 1.3 0.0 1.3 0.0 1.9 0.0 1.3 0.0 1.2 0.0 2.6 1.8 1.9 26.2 2.9 0.0 3.1 0.0 2.7 5.1 1.3 0.0 3.3 0.0 3.1 53.5 3.0 12.8 2.2 0.0 2.4 0.0 1.3 0.0 1.2 2.5 0.7 12.6 1.4 89.4 2.0 10.9 0.4 5.6 2.6 0.0 2.5 1.1 2.3 0.0 1.3 3.3 1.8 0.0 2.0 0.0 2.2 0.0 3.4 34.1 1.2 3.1 1.8 1.9 2.7 0.0 1.3 30.0 1.7 0.0 3.2 0.0 2.0 0.0 3.1 0.0 1.7 0.0 1.9 0.0 1.6 0.0 2.8 0.0 2.6 0.0 1.4 0.0 2.9 0.0 2.5 0.0 1.2 0.0 1.9 0.0 3.1 0.0 1.3 0.0 1.3 0.0 3.3 10.2 2.7 0.0 1.3 0.0 1.2 9.9 2.8 0.0 2.3 0.0 2.2 0.0 1.4 0.0 2.3 0.0 3.0 4.3 3.2 0.0 1.6 0.0 3.2 0.0 1.7 0.0 2.7 9.2 3.2 0.0 1.9 8.5 1.8 1.9 2.9 2.5 3.3 10.3 1.2 1.8 3.0 0.0 1.7 0.0 1.3 33.0 2.8 0.0 1.2 21.8 2.1 0.0 3.2 0.0 1.6 0.0 2.5 0.0 3.3 0.0 1.6 0.0 3.0 0.0 2.9 7.2 2.3 3.4 2.3 5.6 3.0 6.7 3.3 0.0 2.6 2.6 3.1 21.9 2.9 13.5 3.1 0.0 1.1 20.3 3.1 4.6 1.5 0.0 1.4 0.0 2.3 21.3 1.3 3.0 2.7 2.3 2.7 0.0 1.9 0.0 2.3 0.0 1.8 0.0 1.9 1.1 2.4 14.1 2.7 2.7 1.5 3.2 1.9 0.0 1.3 0.0 1.9 24.1 1.5 1.1 1.3 1.4 1.4 0.0 2.9 0.0 0.6 9.4 3.0 0.0 2.9 2.8 3.3 7.7 3.3 0.0 1.3 1.3 3.0 6.3 2.1 0.0 3.0 11.9 1.6 14.6 1.4 0.0 1.3 0.0 1.4 0.0 3.2 0.0 3.0 0.0 2.5 0.0 1.8 0.0 2.6 0.0 2.7 0.0 2.1 0.0 2.3 0.0 2.6 0.0 2.4 0.0 1.2 10.2 1.6 0.0 2.3 2.5 2.5 6.9 2.0 0.0 1.5 24.0 2.7 0.0 1.3 6.6 2.2 0.0 1.8 0.0 2.5 18.1 2.1 14.9 3.3 0.0 3.2 0.0 1.7 0.0 3.2 0.0 1.6 0.0 2.4 5.7 3.4 0.0 2.3 29.6 2.7 0.0 2.3 0.0 1.1 4.3 2.5 2.9 1.4 0.0 3.2 22.8 3.0 22.3 2.1 0.0 2.6 28.4 2.4 2.7 3.1 0.0 2.5 8.9 1.9 19.4 3.1 13.7 1.6 0.0 2.1 0.0 1.8 0.0 2.3 8.1 1.8 0.0 1.8 0.0 2.8 0.0 1.3 0.0 2.2 8.4 1.3 0.0 1.4 5.6 2.5 0.0 2.1 0.0 1.2 0.0 2.2 0.0 2.9 0.0 1.1 124.8 1.2 0.0 1.3 0.0 2.3 0.0 2.2 0.0 2.4 0.0 1.7 3.9 3.3 2.5 1.5 3.2 2.3 19.8 2.9 0.0 1.4 0.0 2.1 42.9 3.1 0.0 3.0 0.0 2.5 0.0 2.4 0.0 1.3 1.3 3.3 0.0 1.1 0.0 1.3 1.2 3.2 0.0 2.2 0.0 2.9 0.0 2.8 0.0 1.4 1.7 3.2 0.0 2.7 8.2 1.6 0.0 2.0 0.0 2.7 3.6 3.3 0.0 2.6 0.0 3.4 3.0 1.6 0.0 2.4 29.2 1.9 0.0 1.3 0.0 3.3 20.2 1.4 0.0 1.6 4.9 2.5 0.0 2.3 2.3 3.2 6.5 2.2 0.0 1.7 5.6 2.1 0.0 1.6 0.0 1.2 22.4 3.3 0.0 2.5 0.0 2.2 3.4 2.5 42.5 1.3 0.0 2.7 0.0 2.9 1.9 2.7 0.0 2.2 0.0 1.6 25.5 1.2 3.7 2.7 0.0 2.8 7.4 1.6 0.0 1.3 0.0 3.1 0.0 3.0 62.5 2.4 2.4 2.7 0.0 3.2 8.1 1.6 2.9"/>
<circle cx="337.3" cy="931.5" r="321.25" stroke="#e6a9d8" stroke-dasharray="0.0 9.5 2.0 0.0 1.3 0.0 3.0 11.2 2.8 20.9 2.3 0.0 2.0 7.7 1.7 0.0 3.0 39.9 1.7 0.0 1.8 4.0 1.4 12.6 2.9 0.0 1.8 10.6 3.1 22.7 1.6 0.0 2.4 0.0 1.2 8.7 1.2 0.0 1.4 0.0 2.2 0.0 1.8 13.1 3.2 0.0 1.7 10.3 1.2 0.0 1.9 0.0 2.5 7.1 2.5 6.3 1.5 2.5 3.0 1.4 1.5 0.0 1.5 0.0 2.3 0.0 2.3 12.4 3.2 0.0 1.8 2.7 1.5 12.4 1.4 42.2 1.2 0.0 3.0 10.2 2.6 15.8 3.3 9.3 2.0 0.0 1.5 0.0 2.5 0.0 1.9 1.6 1.4 0.0 3.1 0.0 1.6 16.6 1.8 6.2 1.9 73.4 3.1 0.0 2.2 0.0 2.6 0.0 2.3 5.2 2.1 0.0 2.4 0.0 3.0 0.0 1.1 0.0 1.3 14.0 1.5 44.9 2.5 3.3 2.9 0.0 0.1 5.6 1.6 11.0 1.8 0.0 2.6 0.0 1.7 16.8 2.6 0.0 2.3 0.0 3.0 4.0 2.0 0.0 1.4 0.0 2.2 0.0 1.1 2.8 1.3 31.2 1.7 0.0 2.7 0.0 2.8 16.7 2.4 0.0 3.0 0.0 1.3 13.3 2.6 0.0 2.0 0.0 1.6 0.0 3.2 1.2 2.5 4.5 2.6 2.9 2.2 0.0 3.1 12.6 2.0 0.0 2.7 0.0 1.4 0.0 2.1 0.0 1.6 0.0 1.6 0.0 1.8 0.0 2.3 0.0 1.9 0.0 3.0 3.1 1.2 0.0 3.3 5.2 1.3 0.0 1.7 0.0 1.8 3.2 0.4 14.2 3.0 2.7 2.3 10.6 1.1 2.4 1.5 0.0 3.3 8.1 1.2 2.7 2.7 1.5 3.2 5.1 1.9 0.0 2.6 0.0 2.3 0.0 1.7 8.3 1.8 0.0 2.1 0.0 1.4 0.0 2.0 15.8 1.2 0.0 2.7 5.9 2.8 3.3 3.3 0.0 3.1 0.0 1.3 8.9 2.1 0.0 2.0 0.0 2.1 18.5 1.2 58.2 2.5 2.5 1.6 0.0 2.4 0.0 2.8 31.5 1.1 0.0 2.6 0.0 1.5 0.0 1.4 6.5 1.2 0.0 2.2 0.0 2.1 0.0 2.5 0.0 2.9 3.3 2.1 0.0 1.7 2.1 2.4 0.0 3.3 0.0 1.2 0.0 3.0 0.0 2.2 0.0 1.2 0.0 1.8 15.3 1.7 0.0 1.6 0.0 2.4 5.6 0.6 35.1 2.3 0.0 2.0 2.5 2.9 4.6 2.8 0.0 1.6 1.2 1.1 4.3 2.8 6.5 2.5 3.0 3.1 0.0 2.7 4.2 2.5 0.0 2.7 0.0 1.8 0.0 2.5 0.0 2.8 4.7 2.4 0.0 1.9 0.0 3.3 3.1 1.2 0.0 1.3 3.0 1.5 0.0 2.2 0.0 1.8 0.0 1.2 16.3 2.6 0.0 1.6 2.5 2.2 3.3 2.3 0.0 2.5 0.0 1.8 0.0 1.7 0.0 2.7 2.0 1.9 0.0 1.3 0.0 1.9 3.1 3.0 0.0 2.5 4.8 2.1 0.0 1.5 7.9 3.2 0.0 2.2 0.0 2.6 38.6 1.2 0.0 3.2 0.0 2.6 2.0 1.9 0.0 2.1 0.0 1.2 4.7 2.0 0.0 2.8 2.4 3.1 0.0 2.6 0.0 2.5 0.0 1.5 0.0 2.9 0.0 3.0 25.9 1.2 33.5 2.4 6.4 1.2 2.8 0.2 7.4 2.1 22.4 3.2 2.3 1.4 9.1 1.9 0.0 1.3 0.0 3.2 0.0 2.9 6.4 2.8 0.0 1.4 0.0 2.4 0.0 1.9 2.5 1.3 0.0 2.5 0.0 2.1 0.0 1.4 0.0 2.3 0.0 2.7 0.0 3.0 0.0 2.5 0.0 3.2 0.0 2.1 0.0 1.5 0.0 1.4 0.0 0.1 17.8 1.3 33.2 1.8 19.2 3.0 17.4 1.7 0.0 1.5 0.0 1.5 0.0 2.7 0.0 3.3 0.0 2.3 0.0 2.9 6.5 2.9 0.0 2.6 0.0 2.7 0.0 1.3 0.0 1.5 2.6 1.4 0.0 1.9 0.0 3.2 3.1 1.9 0.0 1.7 0.0 1.2 4.8 2.3 3.2 2.8 0.0 1.6 0.0 2.1 14.4 3.0 0.0 3.1 0.0 2.3 4.9 1.1 0.0 1.6 0.0 1.5 0.0 1.6 0.0 3.4 8.1 3.4 2.5 1.6 23.9 2.4 2.0 1.3 3.8 3.3 0.0 2.4 0.0 1.8 42.0 1.9 0.0 1.8 5.5 1.8 0.0 2.5 0.0 3.1 9.0 2.0 0.0 2.5 0.0 1.3 0.0 2.6 7.3 2.9 4.7 2.0 28.3 3.0 3.1 2.8 2.4 2.4 5.9 3.1 0.0 3.2 0.0 1.8 4.5"/>
<circle cx="337.3" cy="931.5" r="321.25" stroke="#e197cf" stroke-dasharray="0.0 110.7 1.7 0.0 2.3 49.6 2.4 0.0 3.1 5.2 1.3 0.0 1.9 0.0 2.5 0.0 2.9 6.7 2.5 0.0 3.2 0.0 3.0 0.0 2.7 0.0 1.7 38.0 1.2 0.0 1.3 12.0 2.2 5.0 3.2 0.0 2.0 4.9 2.7 1.5 1.4 0.0 2.8 0.0 3.3 2.4 2.6 1.4 2.9 0.0 2.5 0.0 1.6 0.0 3.0 0.0 2.7 0.0 3.0 10.6 2.1 0.0 2.8 0.0 2.7 3.1 2.8 0.0 2.6 6.1 2.6 0.0 1.5 0.0 2.3 0.0 1.9 39.0 1.6 6.1 2.5 0.0 1.4 1.4 3.1 3.4 1.6 0.0 3.2 210.4 2.9 0.0 2.8 0.0 2.9 18.8 2.8 1.3 2.8 0.0 1.2 3.3 1.7 0.0 2.0 73.5 1.2 2.5 1.9 0.0 2.6 10.8 1.9 0.0 3.3 0.0 3.0 42.2 3.2 43.1 2.2 0.0 1.9 0.0 2.3 24.9 1.7 0.0 2.4 0.0 2.7 0.0 1.6 207.1 1.7 0.0 1.7 101.9 1.2 1.1 2.6 0.0 1.6 2.8 2.5 0.0 1.5 0.0 2.5 11.3 1.7 0.0 2.5 24.7 3.1 2.4 3.0 27.2 2.5 4.1 1.4 10.9 2.0 13.7 1.9 0.0 2.8 65.2 2.0 5.2 2.2 0.0 2.5 4.8 2.4 15.6 1.5 0.0 2.2 0.0 1.7 0.0 2.6 7.1 1.3 0.0 2.8 0.0 1.5 0.0 2.5 0.0 2.8 1.2 1.6 0.0 3.0 2.8 1.5 23.3 1.2 2.4 2.8 0.0 1.6 0.0 1.9 1.2 2.8 5.8 1.8 31.4 1.8 0.0 2.9 0.0 3.3 0.0 1.2 24.2 2.5 106.7 3.2 0.0 2.5 0.0 1.8 0.0 3.3 0.0 2.5 33.4 2.6 54.1 3.0 0.0 1.9 27.3 3.2 2.2 3.2 0.0 1.5 9.1 2.1 2.4 2.0 1.3 2.3 0.0 1.4 83.4 3.2 0.0 2.0 0.0 2.2 2.9 2.8 0.0 1.9 23.9 3.1 0.0 3.3 3.0 3.1 26.2"/>
<circle cx="337.3" cy="931.5" r="321.25" stroke="#dc84c7" stroke-dasharray="0.0 154.8 3.3 0.0 1.5 0.0 2.6 0.0 2.1 95.8 3.1 21.8 2.4 20.9 1.1 0.0 2.6 0.0 2.7 0.0 3.0 7.5 1.6 0.0 1.5 70.5 1.4 3.1 1.6 0.0 1.8 207.0 1.8 2.2 3.1 0.0 1.2 35.4 1.9 0.0 1.4 191.3 1.6 590.9 1.7 0.0 3.2 0.0 2.2 16.7 2.8 1.5 1.5 0.0 2.8 0.0 3.3 0.0 2.4 0.0 3.0 2.2 2.6 0.0 2.4 0.0 3.1 328.4 2.6 3.2 2.2 6.5 3.3 0.0 2.2 0.0 1.8 111.8 2.7 0.0 2.5 0.0 1.6 0.0 1.3 0.0 2.9 5.1 1.4 0.0 1.6 1.4 1.4 38.7"/>
<circle cx="337.3" cy="931.5" r="321.25" stroke="#d772be" stroke-dasharray="0.0 258.2 1.9 47.0 1.1 307.1 2.2 867.9 2.2 349.2 1.8 130.1 2.8 0.0 2.3 3.0 1.4 40.2"/>
</g></g>
<g fill="none" stroke="#262626" stroke-width="1.2">
<path d="M357.7 634.7A297.5 297.5 0 0 1 438.4 651.7L430.3 673.8A274.0 274.0 0 0 0 356.3 658.2Z"/>
<path d="M359.7 599.3A333.0 333.0 0 0 1 450.7 618.4L442.6 640.5A309.5 309.5 0 0 0 358.3 622.7Z"/>
<path d="M355.7 670.1A262.0 262.0 0 0 1 426.1 685.0L418.0 707.1A238.5 238.5 0 0 0 354.3 693.6Z"/>
<path d="M352.9 719.1A213.0 213.0 0 0 1 409.2 731.0L399.1 758.2A184.0 184.0 0 0 0 351.3 748.0Z" fill="#fff"/>
<path d="M451.3 656.7A297.5 297.5 0 0 1 532.4 706.9L516.8 724.5A274.0 274.0 0 0 0 442.4 678.5Z"/>
<path d="M464.7 623.8A333.0 333.0 0 0 1 555.8 680.2L540.3 697.9A309.5 309.5 0 0 0 455.8 645.6Z"/>
<path d="M437.9 689.6A262.0 262.0 0 0 1 508.9 733.5L493.4 751.2A238.5 238.5 0 0 0 429.1 711.4Z"/>
<path d="M419.4 735.0A213.0 213.0 0 0 1 476.5 770.3L457.4 792.1A184.0 184.0 0 0 0 408.5 761.8Z" fill="#fff"/>
<path d="M542.6 716.2A297.5 297.5 0 0 1 599.4 790.8L578.6 801.8A274.0 274.0 0 0 0 526.5 733.3Z"/>
<path d="M566.9 690.3A333.0 333.0 0 0 1 630.8 774.2L610.0 785.2A309.5 309.5 0 0 0 550.8 707.4Z"/>
<path d="M518.3 742.0A262.0 262.0 0 0 1 568.0 807.4L547.2 818.3A238.5 238.5 0 0 0 502.2 759.1Z"/>
<path d="M484.7 777.7A213.0 213.0 0 0 1 524.7 830.2L499.1 843.8A184.0 184.0 0 0 0 464.8 798.8Z" fill="#fff"/>
<path d="M605.7 803.1A297.5 297.5 0 0 1 629.7 876.6L606.6 880.8A274.0 274.0 0 0 0 584.5 813.4Z"/>
<path d="M637.6 787.6A333.0 333.0 0 0 1 664.6 870.3L641.5 874.5A309.5 309.5 0 0 0 616.5 797.8Z"/>
<path d="M573.7 818.6A262.0 262.0 0 0 1 594.8 882.9L571.6 887.1A238.5 238.5 0 0 0 552.6 828.9Z"/>
<path d="M529.7 840.1A213.0 213.0 0 0 1 546.5 891.6L518.0 896.8A184.0 184.0 0 0 0 503.6 852.8Z" fill="#fff"/>
<path d="M631.9 890.3A297.5 297.5 0 0 1 625.6 1004.8L602.9 998.9A274.0 274.0 0 0 0 608.7 893.7Z"/>
<path d="M667.1 885.1A333.0 333.0 0 0 1 660.0 1013.8L637.2 1007.9A309.5 309.5 0 0 0 643.8 888.5Z"/>
<path d="M596.8 895.4A262.0 262.0 0 0 1 591.3 995.8L568.5 989.9A238.5 238.5 0 0 0 573.6 898.8Z"/>
<path d="M548.3 902.5A213.0 213.0 0 0 1 543.9 983.4L515.8 976.1A184.0 184.0 0 0 0 519.6 906.7Z" fill="#fff"/>
<path d="M621.9 1018.1A297.5 297.5 0 0 1 584.0 1097.7L564.6 1084.5A274.0 274.0 0 0 0 599.4 1011.4Z"/>
<path d="M655.9 1028.2A333.0 333.0 0 0 1 613.3 1117.8L593.9 1104.5A309.5 309.5 0 0 0 633.4 1021.6Z"/>
<path d="M587.9 1008.0A262.0 262.0 0 0 1 554.7 1077.7L535.3 1064.4A238.5 238.5 0 0 0 565.3 1001.3Z"/>
<path d="M540.9 994.1A213.0 213.0 0 0 1 514.3 1050.0L490.3 1033.7A184.0 184.0 0 0 0 513.1 985.8Z" fill="#fff"/>
<path d="M576.0 1109.0A297.5 297.5 0 0 1 513.1 1171.5L499.4 1152.4A274.0 274.0 0 0 0 557.1 1095.1Z"/>
<path d="M604.7 1130.0A333.0 333.0 0 0 1 533.9 1200.3L520.2 1181.2A309.5 309.5 0 0 0 585.7 1116.1Z"/>
<path d="M547.4 1088.0A262.0 262.0 0 0 1 492.3 1142.7L478.6 1123.6A238.5 238.5 0 0 0 528.5 1074.1Z"/>
<path d="M507.9 1059.0A213.0 213.0 0 0 1 463.6 1103.0L446.7 1079.5A184.0 184.0 0 0 0 484.5 1041.9Z" fill="#fff"/>
<path d="M501.8 1179.4A297.5 297.5 0 0 1 431.4 1213.7L424.1 1191.4A274.0 274.0 0 0 0 488.7 1159.9Z"/>
<path d="M521.6 1208.8A333.0 333.0 0 0 1 442.4 1247.5L435.1 1225.2A309.5 309.5 0 0 0 508.5 1189.3Z"/>
<path d="M482.0 1149.9A262.0 262.0 0 0 1 420.4 1180.0L413.1 1157.6A238.5 238.5 0 0 0 468.8 1130.4Z"/>
<path d="M454.6 1109.3A213.0 213.0 0 0 1 405.2 1133.4L396.2 1105.8A184.0 184.0 0 0 0 438.4 1085.2Z" fill="#fff"/>
<path d="M418.2 1217.8A297.5 297.5 0 0 1 332.8 1229.0L333.3 1205.5A274.0 274.0 0 0 0 411.6 1195.2Z"/>
<path d="M428.0 1251.9A333.0 333.0 0 0 1 332.0 1264.5L332.5 1241.0A309.5 309.5 0 0 0 421.5 1229.3Z"/>
<path d="M408.3 1183.7A262.0 262.0 0 0 1 333.6 1193.5L334.1 1170.0A238.5 238.5 0 0 0 401.7 1161.1Z"/>
<path d="M394.6 1136.6A213.0 213.0 0 0 1 334.6 1144.5L335.3 1115.5A184.0 184.0 0 0 0 386.6 1108.8Z" fill="#fff"/>
<path d="M319.0 1228.4A297.5 297.5 0 0 1 213.6 1202.1L223.5 1180.8A274.0 274.0 0 0 0 320.3 1205.0Z"/>
<path d="M317.0 1263.9A333.0 333.0 0 0 1 198.6 1234.3L208.5 1212.9A309.5 309.5 0 0 0 318.3 1240.4Z"/>
<path d="M320.9 1193.0A262.0 262.0 0 0 1 228.6 1169.9L238.5 1148.6A238.5 238.5 0 0 0 322.2 1169.5Z"/>
<path d="M323.6 1144.1A213.0 213.0 0 0 1 249.3 1125.5L261.5 1099.2A184.0 184.0 0 0 0 325.2 1115.1Z" fill="#fff"/>
<path d="M201.2 1196.0A297.5 297.5 0 0 1 120.2 1134.9L137.4 1118.9A274.0 274.0 0 0 0 211.8 1175.1Z"/>
<path d="M185.1 1227.7A333.0 333.0 0 0 1 94.1 1159.0L111.4 1143.0A309.5 309.5 0 0 0 195.8 1206.7Z"/>
<path d="M217.2 1164.4A262.0 262.0 0 0 1 146.3 1110.8L163.5 1094.8A238.5 238.5 0 0 0 227.8 1143.4Z"/>
<path d="M239.3 1120.6A213.0 213.0 0 0 1 182.2 1077.5L203.5 1057.9A184.0 184.0 0 0 0 252.4 1094.8Z" fill="#fff"/>
<path d="M111.0 1124.6A297.5 297.5 0 0 1 68.2 1058.3L89.5 1048.4A274.0 274.0 0 0 0 128.8 1109.2Z"/>
<path d="M84.1 1147.8A333.0 333.0 0 0 1 36.0 1073.2L57.3 1063.4A309.5 309.5 0 0 0 101.9 1132.4Z"/>
<path d="M137.8 1101.4A262.0 262.0 0 0 1 100.4 1043.4L121.7 1033.5A238.5 238.5 0 0 0 155.6 1086.0Z"/>
<path d="M174.9 1069.3A213.0 213.0 0 0 1 144.9 1022.8L171.2 1010.6A184.0 184.0 0 0 0 196.8 1050.3Z" fill="#fff"/>
<path d="M62.6 1045.7A297.5 297.5 0 0 1 39.9 939.4L63.4 939.0A274.0 274.0 0 0 0 84.2 1036.5Z"/>
<path d="M29.9 1059.5A333.0 333.0 0 0 1 4.4 940.2L27.9 939.7A309.5 309.5 0 0 0 51.5 1050.4Z"/>
<path d="M95.3 1031.8A262.0 262.0 0 0 1 75.4 938.7L98.9 938.3A238.5 238.5 0 0 0 116.9 1022.7Z"/>
<path d="M140.4 1012.7A213.0 213.0 0 0 1 124.4 937.8L153.4 937.2A184.0 184.0 0 0 0 167.1 1001.4Z" fill="#fff"/>
<path d="M39.9 925.6A297.5 297.5 0 0 1 52.0 847.2L74.5 854.0A274.0 274.0 0 0 0 63.4 925.9Z"/>
<path d="M4.4 925.2A333.0 333.0 0 0 1 18.0 836.9L40.5 843.7A309.5 309.5 0 0 0 27.9 925.5Z"/>
<path d="M75.4 926.1A262.0 262.0 0 0 1 86.0 857.5L108.5 864.3A238.5 238.5 0 0 0 98.9 926.4Z"/>
<path d="M124.4 926.7A213.0 213.0 0 0 1 132.9 871.7L160.6 880.1A184.0 184.0 0 0 0 153.4 927.1Z" fill="#fff"/>
<path d="M56.2 834.0A297.5 297.5 0 0 1 130.2 718.0L146.4 734.9A274.0 274.0 0 0 0 78.5 841.6Z"/>
<path d="M22.6 822.6A333.0 333.0 0 0 1 105.6 692.3L121.9 709.3A309.5 309.5 0 0 0 44.9 830.1Z"/>
<path d="M89.8 845.4A262.0 262.0 0 0 1 154.7 743.6L170.9 760.6A238.5 238.5 0 0 0 112.1 853.0Z"/>
<path d="M136.3 861.2A213.0 213.0 0 0 1 188.6 779.0L208.6 800.0A184.0 184.0 0 0 0 163.7 870.5Z" fill="#fff"/>
<path d="M140.3 708.6A297.5 297.5 0 0 1 226.2 655.5L234.8 677.4A274.0 274.0 0 0 0 156.0 726.1Z"/>
<path d="M116.6 682.1A333.0 333.0 0 0 1 213.2 622.5L221.8 644.4A309.5 309.5 0 0 0 132.3 699.6Z"/>
<path d="M164.0 735.0A262.0 262.0 0 0 1 239.2 688.5L247.9 710.4A238.5 238.5 0 0 0 179.7 752.5Z"/>
<path d="M196.7 771.5A213.0 213.0 0 0 1 257.2 734.1L267.9 761.1A184.0 184.0 0 0 0 216.0 793.1Z" fill="#fff"/>
<path d="M239.1 650.7A297.5 297.5 0 0 1 322.6 634.4L323.5 657.8A274.0 274.0 0 0 0 247.0 672.8Z"/>
<path d="M227.2 617.2A333.0 333.0 0 0 1 321.3 598.9L322.2 622.4A309.5 309.5 0 0 0 235.1 639.4Z"/>
<path d="M251.1 684.1A262.0 262.0 0 0 1 324.0 669.8L324.8 693.3A238.5 238.5 0 0 0 259.0 706.2Z"/>
<path d="M267.5 730.2A213.0 213.0 0 0 1 325.8 718.8L326.9 747.8A184.0 184.0 0 0 0 277.3 757.6Z" fill="#fff"/>
</g>
<g fill="none" stroke="#dc70c2" stroke-width="1.9" stroke-linejoin="round">
<polyline points="354.8,684.9 355.2,683.9 355.4,686.1 355.6,687.7 356.1,686.4 356.4,685.6 356.6,687.3 357.0,687.1 357.2,688.1 357.7,686.0 358.0,686.9 358.5,684.8 358.7,686.1 359.1,686.2 359.3,687.1 359.8,685.5 359.9,688.0 360.4,686.3 360.7,686.2 360.9,687.5 361.2,688.0 361.8,685.6 362.2,685.0 362.4,686.5 362.8,685.1 363.0,686.5 363.3,687.2 363.6,687.5 363.8,688.4 364.4,686.3 364.5,687.8 364.9,688.0 365.3,687.0 365.6,686.9 365.8,688.2 366.3,687.3 366.5,687.7 366.9,687.5 367.2,687.8 367.5,688.2 367.6,690.2 368.1,688.5 368.7,686.7 368.8,688.3 369.2,687.8 369.6,687.5 369.7,689.1 370.2,688.1 370.4,688.5 370.9,687.9 371.2,687.8 371.5,688.4 371.7,688.7 372.2,687.6 372.4,688.5 372.5,690.2 373.3,687.5 373.5,688.3 373.6,689.5 374.0,689.0 374.2,690.0 374.7,688.9 374.8,690.6 375.5,688.2 375.7,688.8 375.8,690.3 376.4,688.9 376.4,690.9 376.9,690.1 377.1,690.6 377.7,689.0 378.0,689.0 378.0,691.2 378.6,689.7 379.0,689.4 379.2,690.4 380.0,687.6 379.6,691.7 380.4,688.9 380.8,688.8 380.8,690.7 380.9,691.6 381.7,689.3 381.3,693.1 382.1,690.7 382.2,692.2 382.8,690.8 383.0,691.5 383.2,692.3 383.8,690.5 384.3,690.0 384.1,692.6 384.8,690.6 385.0,691.3 385.2,692.1 385.5,692.0 386.1,691.0 386.5,690.6 386.5,692.0 386.4,694.3 387.4,691.1 387.6,691.6 387.5,694.0 388.1,692.7 388.5,692.3 388.8,692.6 389.2,692.1 389.3,693.4 389.9,691.9 389.5,695.4 390.5,692.4 390.6,693.4 391.0,693.0 391.5,692.4 392.0,691.8 391.8,694.2 392.3,693.4 392.4,694.4 393.0,693.4 393.1,694.1 393.3,694.8 394.2,692.6 394.3,693.5 394.5,693.9 395.2,692.7 394.8,695.7 395.6,693.8 396.2,692.7 396.0,694.7 396.2,695.3 396.6,695.3 397.4,693.4 397.7,693.7 397.8,694.5 398.3,694.0 398.2,695.7 398.5,695.5 399.2,694.4 399.0,696.3 399.6,695.2 399.9,695.5 400.0,696.5 400.6,695.5 400.5,697.1 401.0,696.6 400.9,698.0 401.4,697.4 401.9,697.1 402.5,696.0 402.7,696.4 402.7,697.8 403.3,696.9 404.3,694.5 404.0,696.8 404.4,696.5 404.0,699.1 404.8,697.6 405.5,696.1 405.1,698.8 405.6,698.4 405.9,698.3 406.4,697.8 406.9,697.2 406.6,699.6 407.6,697.3 406.9,700.7 407.7,699.1 408.4,697.9 408.3,699.6 408.7,699.4 409.1,699.2 410.0,697.2 409.5,699.9 410.5,698.1 411.1,697.2 410.7,699.6 410.8,700.1 411.4,699.5 411.4,700.6 411.9,700.1 412.0,700.9 412.1,701.4 412.4,701.6 413.5,699.3 413.3,700.9 413.5,701.5 414.5,699.5 414.4,700.8 414.7,701.1 414.8,701.6 415.4,701.0 415.6,701.4 415.8,701.6 416.2,701.5 416.8,700.7 416.8,701.8 417.6,700.4 417.8,700.9 417.5,702.9 417.8,703.0 418.0,703.4 418.5,703.1 419.3,701.8 419.2,702.9 419.5,703.2"/>
<polyline points="432.5,703.0 431.9,705.3 433.2,703.1 433.2,703.7 433.9,703.1 433.8,704.1 434.6,703.0 434.9,703.1 434.7,704.6 435.3,703.9 435.1,705.4 435.4,705.4 435.6,705.9 436.2,705.2 436.1,706.3 436.5,706.3 437.1,705.7 436.9,707.0 438.0,705.2 437.7,706.8 438.3,706.3 438.6,706.5 439.4,705.4 439.5,706.0 439.5,706.9 439.6,707.4 440.5,706.2 440.4,707.3 440.3,708.3 441.1,707.3 441.6,707.0 441.6,707.8 441.9,707.9 442.9,706.7 442.3,708.7 443.1,707.7 443.8,707.1 444.1,707.2 443.2,710.0 444.2,708.6 444.3,709.1 445.6,707.2 445.4,708.4 445.6,708.8 446.0,708.8 446.0,709.5 445.5,711.1 447.3,708.3 445.8,712.1 447.2,710.0 447.5,710.1 447.5,710.8 448.2,710.2 448.0,711.3 448.7,710.7 448.7,711.4 448.6,712.5 449.6,711.1 449.2,712.7 450.1,711.7 449.6,713.4 450.4,712.4 450.9,712.3 451.4,711.9 450.7,714.1 451.2,713.8 451.8,713.5 451.6,714.6 452.6,713.3 453.8,711.9 453.2,713.6 453.5,713.8 453.1,715.3 454.0,714.2 454.3,714.4 455.3,713.3 454.4,715.5 455.5,714.3 455.0,715.9 455.3,716.0 455.5,716.3 456.1,715.8 455.6,717.6 456.4,716.8 457.6,715.3 456.2,718.4 457.9,716.2 458.1,716.4 457.8,717.7 457.9,718.2 459.1,716.7 458.6,718.2 459.2,717.8 459.3,718.4 459.1,719.4 460.5,717.6 460.5,718.2 460.0,719.8 461.3,718.1 460.4,720.4 460.6,720.6 462.0,718.9 461.6,720.2 462.1,720.0 463.2,718.8 462.1,721.3 463.3,720.0 463.0,721.1 463.6,720.9 463.7,721.3 463.6,722.0 464.4,721.5 464.1,722.5 464.9,721.9 464.6,722.9 465.3,722.5 465.8,722.3 465.2,723.9 466.2,722.9 466.9,722.4 466.8,723.1 467.6,722.6 466.8,724.4 467.9,723.3 468.0,723.7 466.6,726.5 468.4,724.3 469.2,723.8 468.9,724.8 469.2,724.9 469.4,725.2 469.7,725.4 469.4,726.4 469.9,726.3 469.3,727.8 472.0,724.3 471.1,726.3 471.5,726.3 472.0,726.1 472.2,726.4 472.1,727.1 471.5,728.6 472.0,728.5 473.9,726.2 473.4,727.5 473.8,727.5 473.1,729.1 473.7,728.8 474.4,728.4 474.1,729.5 475.5,728.0 474.6,729.9 475.1,729.8 474.9,730.6 476.0,729.5 476.8,729.0 476.5,730.1 476.6,730.5 476.7,731.0 477.6,730.2 477.4,731.1 478.7,729.8 477.8,731.7 478.0,732.0 478.1,732.3 477.6,733.7 479.1,732.1 479.3,732.4 478.5,734.0 479.0,733.9 479.3,734.0 480.0,733.6 479.9,734.4 481.2,733.1 481.7,732.9 480.9,734.7 481.5,734.3 481.1,735.4 482.8,733.7 481.6,735.9 482.0,735.8 482.8,735.4 482.5,736.3 484.9,733.6 483.4,736.2 483.6,736.4 483.4,737.3 484.2,736.7 484.2,737.4 484.5,737.4 485.7,736.5 484.9,738.0 485.8,737.4 485.4,738.5 486.7,737.3 485.8,739.0 485.9,739.4 486.6,739.0 487.8,738.0 487.0,739.6 487.0,740.2 487.7,739.8 487.6,740.5 488.4,739.9 488.1,740.9 489.0,740.3 489.6,740.0 489.6,740.6 490.5,740.0 489.9,741.2 491.2,740.2 491.1,740.8 490.3,742.3 491.2,741.7 490.5,743.1 491.1,742.9 491.4,743.0 491.2,743.8 492.1,743.2 492.1,743.7 493.7,742.3 493.2,743.5 492.7,744.5 492.7,745.0 493.0,745.2 493.2,745.5 493.4,745.8 494.1,745.4 493.5,746.7 494.4,746.1 495.1,745.7 494.7,746.8 494.6,747.4 495.2,747.1 496.3,746.3 495.5,747.8 497.3,746.3 495.4,748.9"/>
<polyline points="507.1,753.9 508.3,753.1 509.0,752.8 508.2,754.2 507.4,755.5 508.6,754.7 508.4,755.4 508.8,755.5 509.2,755.5 509.3,755.9 509.9,755.7 510.3,755.9 510.2,756.4 509.3,757.7 510.7,756.8 509.2,758.8 511.3,757.1 511.2,757.7 511.1,758.3 513.5,756.4 513.4,757.0 513.4,757.4 512.8,758.5 512.5,759.2 513.4,758.8 514.5,758.2 513.5,759.7 513.7,760.0 513.6,760.5 514.2,760.4 515.0,760.0 514.0,761.5 515.6,760.3 515.2,761.2 517.0,760.0 515.7,761.7 516.7,761.2 515.2,763.0 518.0,760.9 516.5,762.8 516.6,763.1 518.0,762.3 517.2,763.5 516.4,764.7 518.0,763.7 518.1,763.9 517.9,764.6 517.8,765.1 517.2,766.2 519.8,764.2 518.5,765.9 519.3,765.6 518.9,766.4 518.9,766.8 519.9,766.4 519.2,767.4 520.8,766.5 519.1,768.4 521.0,767.2 521.6,767.1 520.6,768.4 521.3,768.2 522.0,768.1 521.2,769.2 521.6,769.3 521.8,769.5 524.3,767.8 521.8,770.5 522.5,770.3 522.5,770.7 522.6,771.0 522.5,771.6 522.9,771.6 523.8,771.4 524.8,771.0 525.3,770.9 523.3,773.1 523.7,773.1 524.7,772.8 524.1,773.7 524.5,773.8 525.1,773.7 525.1,774.2 525.0,774.6 526.1,774.2 525.5,775.1 526.1,775.0 526.8,774.9 527.3,774.9 527.1,775.5 528.0,775.2 527.4,776.1 526.4,777.4 528.9,775.7 530.1,775.1 528.7,776.7 529.6,776.5 529.4,777.0 528.4,778.3 529.4,777.9 528.6,779.0 528.8,779.2 529.9,778.7 529.8,779.3 529.4,780.0 529.0,780.8 530.9,779.6 530.5,780.4 530.8,780.6 530.1,781.5 530.4,781.7 531.2,781.5 529.9,782.9 532.6,781.3 531.8,782.3 532.9,781.9 533.0,782.2 531.9,783.4 533.0,783.0 531.9,784.3 532.2,784.5 534.2,783.4 532.9,784.8 532.9,785.2 534.1,784.7 533.9,785.2 534.9,784.9 533.2,786.6 534.3,786.2 533.8,787.0 534.9,786.6 534.8,787.1 534.4,787.7 534.0,788.5 534.5,788.5 536.5,787.4 535.6,788.5 535.2,789.2 536.5,788.7 535.6,789.7 537.4,788.8 537.6,789.1 537.1,789.9 536.7,790.5 535.9,791.5 538.0,790.5 539.4,789.8 538.1,791.2 537.7,791.9 539.0,791.4 538.1,792.3 537.6,793.1 538.7,792.7 539.5,792.6 537.7,794.3 540.2,792.9 540.9,792.9 539.7,794.1 539.5,794.6 538.9,795.4 540.7,794.6 540.2,795.4 541.6,794.8 542.1,794.9 542.0,795.3 541.2,796.2 539.7,797.6 542.6,796.1 541.2,797.4 541.4,797.7 542.9,797.1 542.5,797.7 541.4,798.9 542.2,798.8 542.4,799.0 542.7,799.2 542.0,800.1 544.4,798.9 543.2,800.1 544.0,799.9 544.5,800.0 545.7,799.7 544.6,800.7 543.5,801.8 543.9,801.9 545.2,801.5 546.0,801.4 543.5,803.3 546.6,801.8 544.6,803.4 545.1,803.5 545.1,803.9 546.1,803.7 545.6,804.4 545.9,804.6 545.3,805.3 547.5,804.4 546.7,805.2 546.5,805.7 548.6,804.9 547.5,805.9 548.2,805.9 547.0,807.0 547.5,807.1 547.4,807.5 548.4,807.3 548.1,807.9 546.5,809.2 548.6,808.3 548.1,809.0 548.7,809.0 549.5,809.0 548.5,809.9 549.5,809.7 549.1,810.3 549.1,810.7 548.9,811.2 549.4,811.3 549.4,811.7 550.5,811.4 548.0,813.2 550.6,812.1 550.2,812.7 549.5,813.5 551.3,812.9 550.7,813.6 551.4,813.6 552.2,813.5 551.4,814.3 549.9,815.5 550.0,815.8 551.6,815.3 550.7,816.2 553.8,814.9"/>
<polyline points="558.9,825.8 557.5,826.9 557.3,827.3 558.9,826.9 557.3,828.0 560.1,827.1 557.7,828.6 560.8,827.5 559.6,828.4 561.3,828.0 559.3,829.3 560.1,829.3 561.6,829.0 559.3,830.4 561.5,829.7 562.4,829.7 560.2,831.0 561.1,831.0 562.9,830.5 562.9,830.9 563.2,831.2 561.7,832.2 561.6,832.6 561.9,832.8 561.8,833.2 563.1,833.0 563.2,833.3 563.1,833.8 562.1,834.5 563.6,834.3 563.4,834.7 563.3,835.1 564.3,835.0 563.0,835.9 563.6,836.0 564.6,836.0 563.0,837.0 564.7,836.7 564.6,837.0 565.5,837.0 565.4,837.4 563.8,838.5 566.1,837.9 564.1,839.0 563.6,839.6 564.5,839.6 564.6,839.9 564.2,840.4 566.1,840.0 565.7,840.5 566.0,840.8 564.2,841.8 567.3,840.9 566.2,841.8 566.9,841.8 566.3,842.4 566.4,842.7 566.9,842.9 566.5,843.4 567.7,843.3 566.1,844.3 564.7,845.1 566.4,844.8 566.9,845.0 567.4,845.2 567.2,845.6 567.6,845.8 567.7,846.1 567.3,846.6 568.1,846.7 568.2,847.0 567.0,847.8 566.2,848.4 568.2,848.1 568.6,848.3 569.2,848.4 569.4,848.7 568.7,849.3 569.6,849.3 568.1,850.2 568.3,850.5 570.1,850.2 567.8,851.3 569.0,851.3 568.1,851.9 568.1,852.3 571.4,851.5 567.8,853.1 571.2,852.2 569.2,853.3 569.0,853.7 568.3,854.3 570.2,854.0 570.6,854.2 570.7,854.5 569.4,855.3 571.9,854.8 570.6,855.6 571.0,855.8 571.2,856.1 571.3,856.4 570.5,857.0 571.3,857.1 570.3,857.8 571.4,857.8 570.3,858.5 569.9,858.9 570.8,859.0 571.3,859.2 570.9,859.6 571.4,859.8 571.2,860.2 571.9,860.4 573.6,860.2 572.6,860.8 572.9,861.1 573.2,861.4 573.1,861.7 572.8,862.2 573.3,862.4 573.6,862.6 572.5,863.3 572.5,863.6 572.8,863.9 572.9,864.2 573.4,864.4 572.7,864.9 572.8,865.3 573.5,865.4 573.8,865.6 573.3,866.1 572.1,866.8 573.4,866.8 574.5,866.8 573.5,867.4 575.0,867.4 573.4,868.1 573.8,868.4 574.8,868.4 575.3,868.7 573.9,869.4 575.7,869.2 574.6,869.9 574.9,870.1 576.3,870.1 575.4,870.7 574.5,871.3 574.7,871.5 574.0,872.1 576.0,871.9 575.4,872.4 576.9,872.4 576.3,872.8 575.2,873.4 574.7,873.9 575.1,874.2 576.7,874.1 575.4,874.8 576.7,874.8 576.9,875.1 577.2,875.4 576.0,876.0 576.6,876.2 574.7,876.9 576.3,876.9 576.1,877.3 577.1,877.4 574.5,878.3 576.0,878.3 578.6,878.1 576.6,878.9 576.0,879.3 576.6,879.5 576.5,879.9 576.3,880.3 577.3,880.4 577.1,880.8 578.0,880.9 579.4,881.0 577.7,881.7 577.4,882.1 578.6,882.2 575.8,883.1 579.0,882.8 576.2,883.7 576.9,883.8 577.5,884.1 576.2,884.7 576.9,884.8 577.8,885.0 578.1,885.3 576.3,886.0 574.8,886.6"/>
<polyline points="583.1,897.4 580.9,898.1 582.9,898.1 583.0,898.5 583.4,898.7 582.1,899.2 582.1,899.6 585.8,899.4 582.7,900.2 581.8,900.6 581.6,901.0 582.6,901.2 584.6,901.3 583.7,901.7 582.1,902.3 581.7,902.6 582.5,902.9 583.1,903.1 583.4,903.4 583.7,903.7 584.3,904.0 581.9,904.6 581.8,905.0 583.2,905.1 583.9,905.4 582.8,905.8 583.7,906.1 583.4,906.5 584.6,906.7 583.3,907.1 583.1,907.5 584.1,907.7 584.6,908.0 583.0,908.5 583.5,908.8 582.9,909.2 582.6,909.5 586.1,909.5 583.1,910.1 583.4,910.4 583.5,910.8 583.0,911.1 583.7,911.4 583.8,911.7 584.3,912.0 583.4,912.4 582.5,912.8 583.8,913.1 584.7,913.3 585.3,913.6 583.9,914.1 583.8,914.4 583.3,914.8 585.6,915.0 583.5,915.4 583.6,915.8 584.1,916.1 583.9,916.4 584.2,916.7 584.6,917.0 585.9,917.3 584.7,917.7 584.7,918.0 582.8,918.5 586.5,918.6 584.8,919.0 585.2,919.3 584.0,919.7 584.2,920.0 583.9,920.4 584.2,920.7 583.9,921.0 585.1,921.3 585.4,921.6 584.3,922.0 584.1,922.4 585.2,922.7 584.2,923.0 585.0,923.3 583.8,923.7 585.8,924.0 584.0,924.4 585.0,924.7 586.2,925.0 584.9,925.3 584.2,925.7 585.2,926.0 586.0,926.3 582.3,926.7 584.1,927.0 584.3,927.3 585.3,927.7 583.0,928.0 585.3,928.3 584.5,928.7 585.0,929.0 583.5,929.3 585.8,929.6 587.1,930.0 584.6,930.3 585.1,930.7 583.4,931.0 581.6,931.3 584.4,931.6 584.2,932.0 585.1,932.3 584.5,932.6 583.1,933.0 582.2,933.3 585.5,933.6 585.4,934.0 584.3,934.3 584.2,934.6 585.1,935.0 583.9,935.3 583.1,935.6 585.6,936.0 583.0,936.3 584.0,936.6 585.7,937.0 584.8,937.3 585.4,937.6 585.8,938.0 584.5,938.3 582.8,938.6 582.6,938.9 582.0,939.2 585.0,939.6 582.8,939.9 584.1,940.3 584.3,940.6 584.5,940.9 584.2,941.3 585.5,941.7 584.5,941.9 585.2,942.3 584.0,942.6 584.1,942.9 584.2,943.3 584.5,943.6 584.8,944.0 583.5,944.2 584.6,944.6 586.8,945.1 581.2,945.1 584.6,945.6 583.8,945.9 583.7,946.2 583.3,946.5 582.7,946.8 584.1,947.2 583.1,947.5 585.4,948.0 584.1,948.2 585.5,948.7 583.8,948.9 582.2,949.1 584.1,949.6 583.8,949.9 584.4,950.3 581.1,950.3 583.6,950.9 585.0,951.3 583.5,951.5 581.4,951.7 583.8,952.2 583.9,952.6 584.8,953.0 583.9,953.2 582.3,953.4 584.4,953.9 583.9,954.2 584.4,954.6 583.0,954.8 584.2,955.3 580.9,955.3 581.7,955.7 583.6,956.2 584.6,956.6 583.5,956.9 583.1,957.1 582.7,957.4 582.4,957.7 583.9,958.2 580.9,958.2 583.0,958.8 584.2,959.3 580.9,959.2 580.3,959.5 581.5,960.0 582.5,960.4 583.0,960.8 581.8,961.0 583.2,961.5 581.8,961.7 580.6,961.9 583.3,962.5 582.2,962.7 581.5,963.0 580.4,963.2 579.5,963.4 580.9,963.9 582.7,964.5 581.0,964.6 580.5,964.8 581.0,965.2 582.4,965.8 582.3,966.1 582.9,966.5 580.7,966.5 583.1,967.2 583.1,967.5 581.9,967.7 582.5,968.1 583.0,968.5 581.7,968.7 580.4,968.8 581.7,969.4 581.5,969.7 581.8,970.0 583.7,970.7 581.0,970.6 580.7,970.9 582.1,971.4 580.8,971.6 579.5,971.7 581.0,972.3 581.6,972.7 578.9,972.6 582.2,973.5 582.4,973.9 579.3,973.7 580.6,974.2 580.7,974.6 580.8,974.9 580.4,975.2 580.8,975.6 579.3,975.7 579.7,976.1 579.8,976.4 580.3,976.9 581.7,977.5 580.6,977.6 578.6,977.6 580.0,978.1 581.4,978.8 581.5,979.1 581.1,979.4 579.4,979.4 580.0,979.8 579.4,980.1 578.0,980.1 579.1,980.7 578.6,980.9 577.6,981.1 578.7,981.6 578.4,981.9 578.4,982.2 579.4,982.8 577.5,982.7 578.6,983.3 578.8,983.7 578.6,984.0 578.5,984.3 578.3,984.6 576.5,984.5 576.0,984.7 577.4,985.4 577.5,985.8 576.9,986.0 577.0,986.3 577.3,986.7 579.3,987.5 577.4,987.4 578.2,988.0 578.0,988.3 577.4,988.5 578.1,989.0 576.5,988.9 576.8,989.3 575.8,989.4 576.7,990.0 577.7,990.6 575.8,990.4 576.5,991.0 576.3,991.2 576.4,991.6 576.0,991.8"/>
<polyline points="576.9,1004.8 575.3,1004.7 576.5,1005.4 577.9,1006.2 575.1,1005.6 576.8,1006.5 575.2,1006.4 575.2,1006.7 577.4,1007.8 576.2,1007.8 576.0,1008.1 576.9,1008.7 575.8,1008.7 574.9,1008.8 572.6,1008.4 575.4,1009.6 576.3,1010.3 574.1,1009.9 573.2,1010.0 572.6,1010.1 574.7,1011.2 571.6,1010.5 574.2,1011.7 574.5,1012.2 573.1,1012.1 572.4,1012.2 573.0,1012.7 574.7,1013.7 571.9,1013.1 572.1,1013.5 573.3,1014.2 572.0,1014.2 573.8,1015.1 571.7,1014.7 571.0,1014.9 570.6,1015.1 571.7,1015.8 572.9,1016.6 571.7,1016.5 571.0,1016.6 569.9,1016.6 571.5,1017.5 570.5,1017.5 573.2,1018.9 569.7,1017.9 569.4,1018.2 569.3,1018.5 570.6,1019.3 570.8,1019.8 570.3,1020.0 571.1,1020.6 570.5,1020.7 569.1,1020.6 571.2,1021.7 568.7,1021.1 569.5,1021.8 569.2,1022.0 570.1,1022.7 568.8,1022.6 569.0,1023.0 566.7,1022.5 568.3,1023.5 568.4,1023.9 569.5,1024.7 566.3,1023.8 566.6,1024.3 568.4,1025.3 569.7,1026.2 567.5,1025.7 565.2,1025.1 565.3,1025.5 566.5,1026.4 565.9,1026.5 567.0,1027.3 567.4,1027.8 567.0,1028.0 565.2,1027.6 565.3,1028.0 565.6,1028.5 566.1,1029.1 566.0,1029.4 565.0,1029.3 566.2,1030.2 565.7,1030.4 564.6,1030.3 564.9,1030.8 566.1,1031.6 565.0,1031.5 564.0,1031.4 563.8,1031.7 564.8,1032.6 564.1,1032.6 563.8,1032.8 562.8,1032.7 563.1,1033.2 563.3,1033.7 564.6,1034.7 561.6,1033.7 562.8,1034.6 561.6,1034.4 561.1,1034.5 564.3,1036.4 560.8,1035.1 563.0,1036.5 562.6,1036.7 562.0,1036.8 561.4,1036.9 561.2,1037.1 561.5,1037.6 561.2,1037.9 561.2,1038.3 561.1,1038.6 558.9,1037.9 559.0,1038.3 560.0,1039.1 559.8,1039.4 558.5,1039.1 560.4,1040.4 559.8,1040.5 559.5,1040.7 560.0,1041.4 559.4,1041.5 558.6,1041.4 558.0,1041.5 559.4,1042.6 557.7,1042.1 557.3,1042.3 557.0,1042.5 558.3,1043.5 557.7,1043.6 557.2,1043.7 558.0,1044.5 556.2,1043.9 557.5,1045.0 556.1,1044.6 556.3,1045.1 556.1,1045.3 556.3,1045.8 557.2,1046.7 555.2,1046.0 556.5,1047.1 556.5,1047.4 555.0,1047.1 554.4,1047.1 553.8,1047.1 554.6,1047.9 557.1,1049.7 554.1,1048.4 554.2,1048.9 553.1,1048.6 554.2,1049.6 553.8,1049.8 554.3,1050.4 555.1,1051.2 553.9,1051.0 552.1,1050.4 552.5,1051.0 551.3,1050.7 551.9,1051.4 550.9,1051.2 552.9,1052.7 549.8,1051.3 552.1,1053.0 551.5,1053.0 549.8,1052.5 551.7,1053.9 552.0,1054.5 552.2,1055.0 550.2,1054.2 550.9,1055.0 550.2,1055.0 551.2,1055.9 549.7,1055.4 550.5,1056.3 548.4,1055.5 548.5,1055.9 548.0,1056.0 548.6,1056.7 547.4,1056.4 548.5,1057.4 547.7,1057.3 546.8,1057.2 548.0,1058.3 548.6,1059.0 547.9,1059.0 547.5,1059.2 546.8,1059.1 546.7,1059.4 545.2,1058.9 548.2,1061.1 544.8,1059.4 545.3,1060.1 544.9,1060.3 544.7,1060.5 545.6,1061.5 544.6,1061.2 544.6,1061.6 545.2,1062.4 543.6,1061.8 543.5,1062.1 544.7,1063.2 543.6,1063.0 542.3,1062.5 544.2,1064.1 542.2,1063.2 543.3,1064.3 543.1,1064.6 543.1,1065.0 542.9,1065.2 542.1,1065.1 542.2,1065.6 540.6,1064.9 542.1,1066.3 540.0,1065.3 542.1,1067.1 540.6,1066.5 541.8,1067.7 540.8,1067.4 541.1,1068.0 540.0,1067.7"/>
<polyline points="537.0,1080.4 537.4,1081.1 537.3,1081.5 536.2,1081.1 534.1,1079.9 536.2,1081.9 536.5,1082.6 536.7,1083.2 535.3,1082.5 536.1,1083.6 532.1,1080.9 534.5,1083.1 534.1,1083.3 536.1,1085.2 534.0,1084.0 536.1,1086.1 533.8,1084.7 533.2,1084.7 532.9,1084.8 532.4,1084.9 533.0,1085.8 532.8,1086.1 531.7,1085.6 533.7,1087.6 532.9,1087.4 531.6,1086.8 532.0,1087.6 531.2,1087.4 530.7,1087.4 530.2,1087.5 530.2,1087.8 531.9,1089.7 531.6,1089.9 529.9,1088.9 529.6,1089.1 530.5,1090.3 528.7,1089.2 529.7,1090.5 527.7,1089.3 529.0,1090.8 529.1,1091.3 528.9,1091.6 529.3,1092.3 528.8,1092.3 527.2,1091.5 526.3,1091.1 525.3,1090.7 526.1,1091.8 526.6,1092.7 526.0,1092.6 528.4,1095.1 526.3,1093.8 526.1,1094.0 525.6,1094.1 525.2,1094.1 525.4,1094.7 525.7,1095.5 524.7,1095.0 525.1,1095.9 525.3,1096.4 524.1,1095.8 524.3,1096.4 523.7,1096.4 524.2,1097.3 523.7,1097.3 523.0,1097.1 523.5,1098.0 523.3,1098.2 522.3,1097.8 520.9,1097.0 523.0,1099.4 521.6,1098.5 521.7,1099.1 521.1,1099.0 520.5,1098.9 519.6,1098.5 520.2,1099.6 519.8,1099.7 520.2,1100.4 519.3,1100.1 519.2,1100.5 519.6,1101.3 518.8,1101.0 518.1,1100.8 518.7,1101.8 517.9,1101.5 517.1,1101.2 516.8,1101.4 516.7,1101.8 516.7,1102.2 515.2,1101.3 515.6,1102.1 516.0,1102.9 515.9,1103.3 515.8,1103.7 516.1,1104.4 514.6,1103.5 516.3,1105.6 515.2,1105.0 512.9,1103.2 514.4,1105.1 513.5,1104.7 514.4,1106.0 515.0,1107.1 512.5,1105.1 513.3,1106.4 512.2,1105.7 511.7,1105.7 513.0,1107.5 512.9,1107.8 511.5,1106.9 511.5,1107.4 510.6,1107.0 510.8,1107.6 510.9,1108.2 510.7,1108.4 511.1,1109.3 510.4,1109.2 510.0,1109.2 509.9,1109.5 510.0,1110.2 509.7,1110.3 508.1,1109.1 508.7,1110.2 508.8,1110.9 507.7,1110.2 507.0,1109.9 507.1,1110.5 506.7,1110.5 507.1,1111.5 506.9,1111.8 507.2,1112.5 505.2,1110.9 506.6,1112.9 506.6,1113.4 507.7,1115.0 505.3,1113.0 505.8,1114.0 503.8,1112.3 505.5,1114.7 505.7,1115.3 504.4,1114.5 503.6,1114.0 504.8,1115.9 502.8,1114.2 504.5,1116.5 502.2,1114.5 503.1,1116.0 502.7,1116.0 502.3,1116.2 501.5,1115.8 501.0,1115.6 502.4,1117.7 501.5,1117.2 500.3,1116.4 499.8,1116.3 500.9,1118.1 501.1,1118.8 499.8,1117.9 499.3,1117.8 499.8,1118.8 499.4,1118.9 499.7,1119.7 498.5,1118.8 497.9,1118.6 498.0,1119.3 496.9,1118.5 496.8,1118.9 496.9,1119.6 496.9,1120.1 496.8,1120.5 495.5,1119.5 496.0,1120.5 497.3,1122.6 494.6,1119.8 495.2,1121.1 494.9,1121.2 495.3,1122.3 494.1,1121.4 495.9,1124.1 493.8,1122.0 494.0,1122.8 493.7,1123.0 494.2,1124.1 493.3,1123.6 491.9,1122.3 492.6,1123.7 491.9,1123.3 492.7,1125.0 492.1,1124.7 491.7,1124.7 491.1,1124.5 490.5,1124.2 491.3,1125.9 491.0,1126.0 491.6,1127.3 489.7,1125.4 490.3,1126.7 488.6,1125.1 489.4,1126.6 488.8,1126.4 487.8,1125.7 487.8,1126.3 488.0,1127.1 487.5,1127.0 487.2,1127.1 487.0,1127.3 486.9,1127.7 486.3,1127.6 485.3,1126.7 486.1,1128.4 486.9,1129.9 485.4,1128.5 485.3,1129.0 484.4,1128.4 484.2,1128.6 483.8,1128.6 483.3,1128.5 483.9,1129.8 483.0,1129.2 483.5,1130.4"/>
<polyline points="472.4,1135.7 471.2,1134.5 473.1,1137.9 471.3,1135.9 471.3,1136.5 470.7,1136.2 470.1,1135.7 470.4,1136.9 470.5,1137.6 468.7,1135.5 469.7,1137.5 469.4,1137.8 470.1,1139.5 467.7,1136.4 468.2,1137.6 468.9,1139.4 467.6,1138.0 468.1,1139.4 466.9,1138.1 466.6,1138.2 467.3,1140.1 466.4,1139.1 465.8,1138.8 466.1,1140.0 466.5,1141.2 465.5,1140.2 466.5,1142.5 464.3,1139.6 465.6,1142.3 464.6,1141.3 464.7,1142.0 464.3,1142.1 463.5,1141.4 463.2,1141.5 462.4,1140.8 462.4,1141.5 462.2,1141.7 462.8,1143.4 461.7,1142.3 461.9,1143.2 461.4,1143.0 462.4,1145.3 460.4,1142.7 460.1,1142.8 460.6,1144.3 459.1,1142.4 459.8,1144.2 459.0,1143.4 458.8,1143.7 458.8,1144.5 459.7,1146.7 458.8,1145.8 458.5,1145.9 458.0,1145.8 457.8,1146.0 456.9,1145.1 457.0,1146.0 456.6,1146.0 456.7,1146.8 456.5,1147.2 455.2,1145.5 454.9,1145.5 456.0,1148.2 454.4,1146.1 455.3,1148.3 455.8,1150.0 454.6,1148.6 454.0,1148.1 453.5,1147.8 453.3,1148.3 453.4,1149.1 454.1,1151.2 452.8,1149.4 452.0,1148.6 452.6,1150.4 451.5,1149.1 451.9,1150.5 451.1,1149.7 450.8,1149.8 450.8,1150.5 450.0,1149.8 449.5,1149.5 449.5,1150.2 449.3,1150.5 448.8,1150.3 449.0,1151.5 448.5,1151.2 448.2,1151.3 447.6,1150.9 447.6,1151.6 447.5,1152.2 446.8,1151.5 446.5,1151.7 446.5,1152.3 446.2,1152.4 445.5,1151.8 445.9,1153.3 445.4,1153.1 445.7,1154.6 444.1,1151.9 443.7,1152.0 444.1,1153.6 444.6,1155.2 443.8,1154.5 443.1,1153.8 442.5,1153.2 442.7,1154.4 442.0,1153.8 441.6,1153.6 441.7,1154.6 441.1,1154.1 440.9,1154.6 440.5,1154.3 440.4,1155.0 440.4,1155.8 439.9,1155.5 439.7,1155.9 438.9,1154.8 438.4,1154.6 438.7,1156.0 438.4,1156.2 438.4,1157.0 437.2,1155.2 437.9,1157.5 437.2,1156.7 436.5,1155.9 436.4,1156.5 436.1,1156.8 436.6,1158.7 435.5,1157.1 435.6,1158.0 434.8,1157.0 434.3,1156.7 434.2,1157.4 433.6,1156.7 433.8,1158.1 433.5,1158.3 434.0,1160.3 432.8,1158.4 433.2,1160.0 432.7,1159.7 432.4,1160.0 431.9,1159.6 431.5,1159.4 431.4,1160.1 431.4,1160.9 430.3,1159.2 429.8,1158.9 429.8,1159.7 429.1,1159.0 429.2,1160.1 429.0,1160.3 428.5,1160.1 428.4,1160.7 428.6,1162.2 427.9,1161.2 428.0,1162.4 427.2,1161.3 427.0,1161.7 426.2,1160.4 426.8,1163.0 426.2,1162.3 426.3,1163.5 425.4,1162.2 424.9,1161.8 425.6,1164.5 424.1,1161.6 423.5,1160.9 424.2,1163.7 423.2,1162.0 422.9,1162.0 423.1,1163.6 422.4,1162.7 423.0,1165.3 422.8,1165.7 422.5,1165.9 421.3,1163.4 421.5,1165.0 420.6,1163.6 420.3,1163.8 420.1,1164.2 419.8,1164.4 419.7,1165.0 419.2,1164.5 419.4,1166.3 418.2,1163.7 418.5,1165.6 417.5,1163.8 417.9,1165.9 417.8,1166.7 417.6,1167.2 417.0,1166.4 416.5,1166.1 416.0,1165.4 415.7,1165.8"/>
<polyline points="403.8,1168.1 403.2,1167.3 402.7,1166.8 403.1,1169.5 402.6,1168.9 402.3,1168.9 401.7,1168.1 401.7,1169.3 401.1,1168.3 401.0,1169.2 400.6,1169.0 400.3,1169.0 399.8,1168.5 399.8,1169.9 399.1,1168.5 399.4,1171.0 398.9,1170.4 398.3,1169.3 398.1,1170.1 397.9,1170.6 397.4,1169.9 396.8,1168.8 396.8,1170.3 396.3,1169.8 396.1,1170.0 396.3,1172.3 395.5,1170.4 394.8,1169.0 395.0,1171.3 394.8,1171.7 394.0,1169.9 393.9,1170.8 393.4,1170.2 393.3,1171.2 393.2,1172.2 393.2,1173.8 392.2,1171.0 392.0,1171.5 392.0,1172.8 391.3,1171.2 391.2,1172.4 390.5,1171.0 391.1,1174.9 389.9,1171.0 389.9,1172.6 389.7,1173.6 389.3,1173.0 389.1,1173.7 388.6,1173.1 388.1,1172.3 387.9,1173.1 387.6,1173.3 387.2,1172.7 387.0,1173.5 386.4,1172.4 386.0,1171.9 386.1,1174.2 385.6,1173.1 385.5,1174.6 385.3,1174.9 384.5,1172.7 384.6,1174.8 384.0,1173.6 383.7,1173.7 382.9,1171.6 382.9,1173.0 382.6,1173.3 382.2,1173.0 381.8,1172.4 381.3,1172.0 381.4,1173.9 381.1,1174.2 380.8,1174.8 380.1,1172.5 379.7,1172.5 380.1,1176.2 379.4,1174.0 379.0,1174.1 378.9,1175.3 378.2,1173.3 378.0,1174.2 377.9,1175.3 377.5,1175.0 377.2,1175.5 376.7,1174.3 376.7,1176.3 375.9,1173.3 375.4,1172.6 375.4,1174.7 375.2,1175.1 374.8,1175.0 374.2,1173.0 374.0,1173.8 373.8,1174.9 373.6,1176.1 373.4,1176.5 373.1,1177.1 372.4,1174.2 372.1,1175.0 371.6,1173.8 371.4,1174.4 371.1,1174.4 370.9,1175.6 370.5,1174.9 370.3,1176.1 370.1,1177.3 369.6,1175.6 369.2,1175.5 368.9,1176.0 368.6,1175.9 368.3,1175.9 367.9,1175.5 367.6,1176.3 367.2,1175.7 367.0,1176.8 366.7,1176.5 366.4,1177.5 366.1,1177.0 365.7,1177.0 365.3,1176.5 365.0,1176.1 364.7,1177.2 364.3,1175.8 364.1,1177.1 363.9,1178.5 363.3,1176.1 363.1,1177.5 362.8,1177.5 362.4,1177.0 362.2,1178.1 361.7,1176.6 361.3,1175.8 361.1,1177.7 360.8,1177.7 360.4,1177.5 360.2,1178.2 359.6,1176.2 359.3,1176.5 359.2,1179.2 358.7,1177.1 358.5,1178.5 358.1,1177.9 357.6,1175.6 357.4,1177.0 357.3,1180.4 356.8,1177.8 356.5,1178.4 356.0,1176.4 355.8,1177.6 355.4,1176.6 355.1,1177.5 354.8,1178.0 354.4,1177.1 354.0,1176.5 353.8,1178.5 353.5,1178.5 353.1,1177.5 352.8,1177.3 352.5,1178.9 352.1,1177.9 351.9,1179.3 351.5,1178.8 351.1,1177.9 350.9,1179.2 350.4,1176.3 350.1,1177.3 349.8,1178.3 349.5,1179.2 349.2,1179.2 348.9,1178.9 348.5,1177.5 348.2,1178.3 347.9,1180.3 347.5,1179.1 347.2,1179.5 346.9,1178.6 346.5,1177.3 346.2,1178.1 345.9,1179.8 345.5,1177.8 345.2,1179.8 344.9,1179.1 344.5,1176.8 344.2,1178.7 343.8,1178.1 343.5,1178.5 343.2,1180.2 342.8,1177.3 342.5,1177.1 342.2,1178.4 341.9,1178.9 341.5,1179.0 341.2,1178.9 340.9,1177.9 340.5,1178.6 340.2,1181.0 339.9,1179.3 339.6,1179.7 339.2,1179.2 338.9,1179.1 338.5,1177.3 338.2,1179.4 337.9,1181.4 337.5,1177.1 337.2,1179.5 336.9,1177.6 336.5,1179.6 336.2,1179.3 335.9,1178.8 335.6,1177.7 335.2,1178.4 334.9,1180.3 334.6,1178.7 334.2,1178.9 333.9,1179.5"/>
<polyline points="321.9,1175.1 321.6,1175.5 321.3,1174.2 320.8,1177.8 320.6,1176.0 320.2,1176.3 320.0,1175.1 319.7,1174.6 319.2,1176.4 319.0,1175.1 318.6,1175.7 318.4,1174.6 317.8,1177.9 317.6,1175.5 317.3,1175.9 316.9,1176.5 316.7,1174.4 316.3,1175.7 316.1,1174.2 315.7,1174.7 315.2,1176.4 314.9,1176.7 314.6,1175.9 314.4,1174.5 314.0,1175.3 313.6,1176.2 313.4,1175.0 313.0,1175.0 312.6,1175.5 312.3,1176.2 312.1,1174.7 311.8,1173.7 311.4,1174.7 311.0,1175.1 310.7,1175.0 310.3,1175.5 309.9,1176.3 309.7,1175.1 309.3,1175.5 309.1,1174.5 308.7,1175.0 308.3,1175.6 308.2,1173.9 307.6,1176.0 307.5,1174.1 307.1,1174.7 306.7,1175.5 306.3,1175.5 306.1,1174.9 305.8,1174.2 305.2,1176.7 305.1,1174.7 304.8,1174.8 304.4,1174.8 304.1,1174.8 303.8,1174.4 303.5,1174.0 303.3,1173.5 303.0,1173.4 302.4,1175.2 301.9,1176.2 301.8,1174.6 301.5,1174.6 301.2,1174.2 300.9,1174.0 300.2,1176.2 300.1,1174.5 299.8,1174.8 299.4,1175.2 299.6,1171.3 298.8,1174.8 298.5,1174.0 298.2,1174.1 297.9,1174.1 297.4,1174.6 297.1,1174.5 296.6,1175.5 296.6,1173.4 296.2,1174.2 295.7,1174.7 295.7,1173.2 295.3,1173.5 294.8,1174.2 294.5,1173.8 294.3,1173.5 293.9,1173.8 293.1,1176.1 293.4,1173.0 293.1,1172.3 292.6,1173.5 292.6,1171.5 292.1,1172.6 292.0,1171.3 291.1,1174.3 290.8,1173.9 290.7,1172.8 290.8,1170.8 290.2,1171.8 289.9,1171.9 288.8,1175.7 289.3,1171.3 288.7,1172.7 288.2,1173.5 287.9,1173.2 287.8,1172.2 287.5,1172.0 286.9,1173.4 286.8,1172.2 286.7,1170.8 286.2,1171.6 285.9,1171.7 285.1,1173.6 285.1,1171.9 285.1,1170.4 284.5,1171.6 283.9,1172.8 284.0,1171.0 283.6,1171.3 283.4,1170.5 282.8,1171.9 282.5,1171.7 282.3,1171.1 281.8,1171.7 281.4,1172.0 281.3,1170.7 280.9,1171.3 280.4,1171.9 280.3,1170.9 280.3,1169.6 279.4,1171.6 279.3,1171.0 278.8,1171.4 278.5,1171.1 277.9,1172.4 278.3,1169.4 277.1,1172.6 277.2,1171.1 276.8,1171.3 276.9,1169.6 276.3,1170.5 276.0,1170.2 275.5,1170.7 275.8,1168.6 275.0,1170.1 275.2,1168.2 273.8,1172.1 274.2,1169.3 273.9,1169.2 273.5,1169.3 272.9,1170.3 272.5,1170.6 272.2,1170.2 272.6,1167.8 271.9,1169.1 271.4,1169.6 271.1,1169.4 270.6,1170.0 270.6,1168.6 270.2,1168.7 270.4,1167.0 269.5,1168.8 269.0,1169.4 268.8,1168.9 268.8,1167.8 268.2,1168.5 267.9,1168.5 267.8,1167.5 267.4,1167.8 266.9,1168.4 266.4,1168.8 265.7,1170.0 266.2,1167.1 265.7,1167.6 265.1,1168.6 265.1,1167.3 264.4,1168.4 264.9,1165.8 263.5,1169.2 263.4,1168.3 263.4,1167.4 263.5,1166.0 262.9,1166.8 262.7,1166.3 261.7,1168.3 261.9,1166.4 261.4,1167.0 261.0,1167.3 260.9,1166.3 260.7,1165.9 260.9,1164.3 259.6,1167.1 259.1,1167.7 259.2,1166.3 259.2,1165.2 258.4,1166.4 258.4,1165.6 258.8,1163.1 257.7,1165.4 258.0,1163.7 257.1,1165.2 257.1,1164.3 256.1,1166.1 256.6,1163.7 255.7,1165.3 255.4,1164.9 255.6,1163.4 254.7,1164.9 254.7,1164.1 254.5,1163.7 254.3,1163.2 253.5,1164.4 253.4,1163.7 252.9,1164.1 252.5,1164.1 251.7,1165.4 252.0,1163.7 251.6,1163.9 250.8,1165.0 251.1,1163.2 250.2,1164.7 250.1,1163.9 250.7,1161.5 249.2,1164.6 249.4,1163.0 249.5,1161.9 248.8,1162.6 248.4,1162.9 248.0,1162.9 247.0,1164.5 248.1,1160.8 247.0,1162.7 247.0,1161.7 246.7,1161.7 246.4,1161.6 246.2,1161.2 245.0,1163.3 245.2,1161.8 245.0,1161.5 244.5,1161.8 244.9,1159.9 244.1,1161.1 243.9,1160.6 243.7,1160.1 242.5,1162.2 242.7,1161.0 242.2,1161.2 242.4,1160.0 241.8,1160.5 241.5,1160.3 240.9,1160.8 240.8,1160.2 240.4,1160.4 240.5,1159.1 239.7,1160.2 239.5,1160.0 239.1,1160.0 239.1,1159.1 238.6,1159.5 238.4,1159.1 237.9,1159.3 237.8,1158.9 237.6,1158.3 237.3,1158.2 236.8,1158.6 237.0,1157.4 237.2,1156.0 235.9,1158.1 235.7,1157.7 235.2,1158.1 234.7,1158.3 234.5,1158.0 234.4,1157.3"/>
<polyline points="225.0,1149.0 225.5,1147.2 224.2,1149.1 224.6,1147.7 224.2,1147.7 223.3,1148.7 223.5,1147.5 223.4,1147.1 222.8,1147.6 222.8,1146.8 221.7,1148.2 222.3,1146.4 221.5,1147.2 220.6,1148.1 220.7,1147.2 219.5,1148.8 219.8,1147.6 219.8,1146.8 220.2,1145.3 219.1,1146.8 218.5,1147.2 218.3,1146.8 218.2,1146.3 217.9,1146.3 217.9,1145.4 217.4,1145.8 217.1,1145.6 217.0,1145.1 216.1,1146.1 216.8,1144.1 215.5,1145.8 216.1,1144.0 216.0,1143.5 215.4,1144.0 215.3,1143.4 214.7,1143.7 214.0,1144.3 213.4,1144.7 213.3,1144.2 214.8,1141.0 212.6,1144.2 213.2,1142.4 212.4,1143.2 211.6,1143.8 211.4,1143.5 210.8,1143.9 211.4,1142.3 211.6,1141.3 211.3,1141.2 209.5,1143.5 210.4,1141.4 209.8,1141.7 209.9,1140.9 209.8,1140.4 208.3,1142.3 208.1,1142.0 208.4,1140.9 207.8,1141.1 208.3,1139.8 207.7,1140.1 207.6,1139.6 206.5,1140.8 206.1,1140.8 206.7,1139.1 207.1,1138.0 205.4,1140.0 204.5,1140.9 205.8,1138.1 204.0,1140.4 204.5,1138.9 204.3,1138.7 205.0,1137.0 204.0,1138.0 204.4,1136.8 202.9,1138.4 201.7,1139.6 202.6,1137.7 202.8,1136.7 202.5,1136.6 201.9,1136.9 201.5,1137.0 200.5,1137.9 200.9,1136.6 200.6,1136.4 201.0,1135.3 200.6,1135.2 199.7,1136.0 199.6,1135.6 199.4,1135.3 198.7,1135.7 197.8,1136.5 198.9,1134.2 197.8,1135.4 197.3,1135.4 197.9,1134.0 198.0,1133.2 197.7,1133.1 196.6,1134.1 196.4,1133.8 195.9,1133.9 195.5,1134.0 195.0,1134.1 194.5,1134.1 194.1,1134.2 194.8,1132.7 194.4,1132.7 194.7,1131.6 194.6,1131.2 193.6,1132.0 194.0,1130.9 192.3,1132.7 193.2,1130.8 191.5,1132.6 192.6,1130.5 192.0,1130.8 191.0,1131.6 191.2,1130.9 190.3,1131.5 191.3,1129.5 190.1,1130.6 190.5,1129.5 189.7,1130.0 190.5,1128.4 190.0,1128.6 189.4,1128.9 188.6,1129.3 189.3,1127.9 188.9,1127.8 189.2,1126.9 188.1,1127.7 186.5,1129.3 187.6,1127.3 188.1,1126.1 187.5,1126.3 187.1,1126.3 186.4,1126.7 185.7,1127.1 185.1,1127.4 185.6,1126.1 184.7,1126.8 184.8,1126.0 184.1,1126.4 183.6,1126.5 183.5,1126.1 184.7,1124.0 183.0,1125.7 183.4,1124.7 184.3,1123.0 182.3,1124.9 182.5,1124.2 182.8,1123.2 183.0,1122.5 181.2,1124.2 181.1,1123.8 180.6,1123.9 180.7,1123.3 179.2,1124.5 180.6,1122.3 179.9,1122.7 179.6,1122.5 178.3,1123.4 178.3,1123.0 179.2,1121.4 177.8,1122.5 178.7,1120.9 177.5,1121.9 178.8,1119.8 178.7,1119.4 176.6,1121.4 176.7,1120.7 177.0,1119.9 177.6,1118.7 176.5,1119.4 176.3,1119.2 175.2,1120.0 175.3,1119.3 176.4,1117.5 175.4,1118.2 175.3,1117.7 174.8,1117.8 174.9,1117.2 173.0,1118.8 172.8,1118.6 173.4,1117.4 173.5,1116.8 173.4,1116.4 172.5,1116.9 170.7,1118.4 171.3,1117.2 171.4,1116.7 170.6,1117.0 171.6,1115.4 171.3,1115.3 170.4,1115.8 171.2,1114.4 169.3,1116.0 170.3,1114.4 170.5,1113.7 168.7,1115.1 169.3,1114.0 169.1,1113.8 167.6,1114.8 167.4,1114.6 168.5,1112.9 167.0,1114.0 168.6,1111.8 166.3,1113.8 166.9,1112.6 166.8,1112.3 165.5,1113.2 166.0,1112.2 167.3,1110.3 165.5,1111.7 164.9,1111.9 164.5,1111.7 163.9,1111.9 165.0,1110.3 165.4,1109.4 165.4,1109.0 164.3,1109.5 164.2,1109.2 163.4,1109.6 162.1,1110.4 163.3,1108.6 163.7,1107.8 162.5,1108.6 162.1,1108.5 161.5,1108.6 160.7,1108.9 161.1,1108.0 161.0,1107.7 161.5,1106.7 160.5,1107.3 159.8,1107.5 160.5,1106.3 158.8,1107.5 159.7,1106.1 158.9,1106.4 160.4,1104.5 158.2,1106.2 158.8,1105.1 158.9,1104.6 158.1,1104.9 157.8,1104.7 158.3,1103.8 158.5,1103.2 157.0,1104.1 156.5,1104.1 156.7,1103.5 156.7,1103.0 156.5,1102.7 157.4,1101.4 156.2,1102.1 156.1,1101.7"/>
<polyline points="151.0,1090.0 152.4,1088.3 151.5,1088.7 150.6,1089.0 151.5,1087.9 150.9,1088.0 148.4,1089.6 149.6,1088.2 149.5,1087.8 148.9,1087.9 149.5,1087.0 148.4,1087.4 148.6,1086.8 148.9,1086.2 147.8,1086.7 147.1,1086.8 147.4,1086.2 148.2,1085.1 146.9,1085.7 147.2,1085.0 146.9,1084.9 146.2,1085.0 145.7,1085.0 145.2,1085.0 145.9,1083.9 143.5,1085.5 144.5,1084.3 144.4,1083.9 143.4,1084.3 143.7,1083.7 143.1,1083.7 143.2,1083.2 144.2,1082.0 143.0,1082.5 142.6,1082.4 142.6,1081.9 142.0,1082.0 142.3,1081.3 143.3,1080.2 142.6,1080.3 143.0,1079.6 143.0,1079.1 140.2,1080.9 140.9,1079.9 140.4,1079.9 142.2,1078.1 140.3,1079.1 141.1,1078.1 140.0,1078.6 139.7,1078.3 139.1,1078.4 140.5,1076.9 138.7,1077.9 138.6,1077.5 139.0,1076.8 140.0,1075.7 139.9,1075.4 140.0,1074.8 139.8,1074.6 137.6,1075.8 139.4,1074.1 138.5,1074.3 137.4,1074.7 137.8,1074.0 136.8,1074.3 136.0,1074.5 137.3,1073.2 136.1,1073.6 135.6,1073.6 136.3,1072.7 135.2,1073.0 135.9,1072.2 135.5,1072.0 134.7,1072.2 135.4,1071.3 135.2,1071.0 134.4,1071.2 133.8,1071.2 135.3,1069.7 133.3,1070.7 133.9,1069.9 133.6,1069.7 132.5,1070.1 134.2,1068.5 134.0,1068.3 134.0,1067.9 132.7,1068.3 132.2,1068.2 133.7,1066.9 131.9,1067.7 133.1,1066.5 131.7,1067.0 129.9,1067.8 130.5,1067.0 131.3,1066.1 130.3,1066.3 130.2,1066.0 132.7,1064.0 131.2,1064.6 129.7,1065.2 129.7,1064.8 130.8,1063.6 129.4,1064.2 129.2,1063.9 129.5,1063.3 129.2,1063.1 127.4,1063.9 128.1,1063.0 127.9,1062.8 129.9,1061.1 128.6,1061.6 127.4,1061.9 127.7,1061.3 127.8,1060.8 128.3,1060.2 127.0,1060.6 127.2,1060.1 128.3,1059.0 124.5,1060.9 126.7,1059.2 128.0,1058.1 127.5,1058.0 126.6,1058.1 126.2,1058.0 126.4,1057.5 125.6,1057.6 124.0,1058.1 126.0,1056.5 124.0,1057.4 124.0,1056.9 125.6,1055.7 125.6,1055.2 123.6,1056.1 123.2,1055.9 123.2,1055.5 123.1,1055.2 124.1,1054.2 122.7,1054.6 124.1,1053.5 122.4,1054.0 122.0,1053.9 122.0,1053.5 121.3,1053.5 121.7,1052.9 121.2,1052.8 121.7,1052.1 120.3,1052.6 121.6,1051.5 120.1,1051.9 121.8,1050.6 122.1,1050.1 120.7,1050.5 120.8,1050.0 121.0,1049.5 121.1,1049.1 119.4,1049.6 119.6,1049.1 119.0,1049.1 120.0,1048.2 119.2,1048.2 120.2,1047.3 119.7,1047.2 118.3,1047.6 118.1,1047.3 118.6,1046.7 117.4,1046.9 119.0,1045.7 116.9,1046.4 118.1,1045.4 117.9,1045.1 118.5,1044.5 116.3,1045.3 118.2,1043.9 115.9,1044.7 115.7,1044.4 118.5,1042.6 116.7,1043.1 117.6,1042.4 116.8,1042.4 116.2,1042.3 116.3,1041.9 115.3,1042.0 115.3,1041.6 117.2,1040.4 116.5,1040.3 116.4,1040.0 116.3,1039.7 114.4,1040.2 114.9,1039.6 114.6,1039.4 116.4,1038.2 114.6,1038.6 116.2,1037.5 114.0,1038.2 114.4,1037.6 113.3,1037.8 113.1,1037.6"/>
<polyline points="111.2,1025.1 112.1,1024.4 111.4,1024.3 112.5,1023.5 109.4,1024.4 111.2,1023.3 112.2,1022.6 111.0,1022.7 109.9,1022.8 111.5,1021.8 109.6,1022.2 110.8,1021.4 109.1,1021.7 110.2,1020.9 110.9,1020.3 109.8,1020.3 108.7,1020.4 111.5,1019.0 110.5,1019.0 109.1,1019.2 110.4,1018.4 110.9,1017.8 109.1,1018.2 109.4,1017.7 109.1,1017.5 109.1,1017.1 108.3,1017.1 109.3,1016.3 109.8,1015.8 108.4,1016.0 108.3,1015.6 108.1,1015.4 107.8,1015.2 108.4,1014.6 109.1,1014.0 107.0,1014.4 105.9,1014.4 106.7,1013.8 106.9,1013.4 106.4,1013.2 107.2,1012.6 108.1,1011.9 108.4,1011.4 106.4,1011.8 107.4,1011.1 107.1,1010.9 105.7,1011.0 105.1,1010.9 104.5,1010.7 107.4,1009.4 105.9,1009.6 106.2,1009.1 105.3,1009.0 105.3,1008.7 104.7,1008.6 105.3,1008.0 106.1,1007.4 106.8,1006.8 103.0,1007.7 105.2,1006.7 103.8,1006.8 104.3,1006.3 103.5,1006.2 104.2,1005.6 102.9,1005.7 104.9,1004.7 103.3,1004.9 103.3,1004.5 104.4,1003.8 104.4,1003.5 104.1,1003.2 102.0,1003.5 103.6,1002.7 102.2,1002.8 103.3,1002.1 102.6,1002.0 102.1,1001.8 102.4,1001.3 103.0,1000.8 102.9,1000.5 100.5,1000.9 100.8,1000.4 101.5,999.9 102.5,999.2 101.5,999.2 100.0,999.3 102.3,998.3 101.5,998.2 101.0,998.0 101.7,997.4 101.4,997.2 100.3,997.1 101.4,996.5 101.1,996.2 100.6,996.0 102.0,995.3 100.6,995.3 99.5,995.3 99.4,995.0 102.2,993.9 100.4,994.0 98.4,994.2 101.0,993.2 100.8,992.9 99.5,992.9 100.5,992.3 100.5,992.0 100.3,991.7 99.3,991.6 99.1,991.3 99.0,991.0 100.7,990.2 100.8,989.9 98.3,990.1 99.0,989.6 98.7,989.3 98.4,989.1 97.2,989.0 97.5,988.6 99.0,987.9 97.6,987.9 97.8,987.5 96.8,987.4 97.3,987.0 95.8,987.0 95.7,986.6 97.6,985.9 98.7,985.3 97.1,985.3 98.4,984.7 97.6,984.5 96.4,984.4 98.0,983.8 99.2,983.2 97.8,983.1 98.1,982.7 98.7,982.3 96.3,982.4 96.3,982.1 96.5,981.7 95.6,981.6 96.8,981.0 94.4,981.1 96.2,980.4 95.4,980.2 97.0,979.6 95.8,979.5 96.5,979.0 97.2,978.5 95.7,978.5 96.8,978.0 94.9,978.0 97.4,977.2 97.6,976.8 94.3,977.1 94.9,976.6 95.8,976.1 97.3,975.5 96.0,975.4 95.0,975.3 93.2,975.3 95.7,974.5 93.3,974.6 96.7,973.6 93.2,973.9 94.1,973.4 95.5,972.8 93.3,972.9 94.5,972.3 95.3,971.9 94.8,971.6 93.5,971.5 94.9,970.9 95.0,970.6 94.4,970.3 94.3,970.0 95.3,969.5 92.6,969.6 92.1,969.4 94.0,968.7 93.3,968.5 94.0,968.1 94.8,967.6 93.3,967.5 94.6,967.0 95.1,966.6 94.0,966.4 93.0,966.2 93.8,965.7 92.4,965.6 92.5,965.3 92.2,965.0 91.6,964.7 93.6,964.1 92.2,964.0 92.3,963.6 92.5,963.2 93.4,962.8 92.2,962.6 92.5,962.2 91.9,962.0 92.7,961.5 93.1,961.2 94.0,960.7 92.5,960.6 90.6,960.5 92.1,960.0 92.3,959.6 93.0,959.2 91.8,959.0 92.0,958.6 91.9,958.3 92.3,957.9 93.1,957.5 92.8,957.2 92.5,956.9 92.8,956.5 92.9,956.2 91.4,956.0 91.7,955.7 92.1,955.3 91.8,955.0 90.4,954.8 92.7,954.2 90.8,954.1 93.5,953.5 89.7,953.5 90.9,953.1 89.1,952.9 89.4,952.5 91.0,952.0 90.5,951.8 90.7,951.4 93.1,950.9 90.1,950.8 90.2,950.4 90.1,950.1 90.7,949.7 92.1,949.3 91.5,949.0 94.6,948.5 90.6,948.4 91.5,948.0 91.3,947.7 89.6,947.5 90.7,947.1 93.5,946.6 89.6,946.5 92.0,946.0 91.8,945.7 91.5,945.4 89.2,945.2 91.8,944.7 90.1,944.4 89.7,944.1 92.5,943.7 88.9,943.5 91.0,943.1 88.5,942.8 90.7,942.4 88.7,942.2 88.1,941.9 92.4,941.4 91.4,941.1 90.7,940.8 89.1,940.5 88.3,940.2 89.9,939.8 89.5,939.5 89.2,939.1 90.9,938.8 90.6,938.4"/>
<polyline points="91.6,926.3 90.4,926.0 92.5,925.7 91.1,925.3 92.5,925.0 93.0,924.7 91.6,924.3 91.6,924.0 91.7,923.7 92.6,923.4 92.3,923.0 90.8,922.6 93.2,922.4 92.4,922.0 93.0,921.7 91.7,921.4 90.5,921.0 92.2,920.7 92.5,920.4 92.2,920.1 91.8,919.7 92.4,919.4 92.8,919.1 91.6,918.7 90.3,918.3 91.7,918.0 92.6,917.8 90.6,917.3 91.9,917.1 91.6,916.7 92.1,916.4 91.6,916.0 93.3,915.8 92.1,915.4 92.2,915.1 92.3,914.8 91.9,914.4 89.3,913.9 93.1,913.8 92.5,913.5 93.5,913.2 92.1,912.8 92.7,912.5 91.2,912.0 92.4,911.8 92.4,911.5 92.2,911.1 90.3,910.6 91.2,910.4 92.0,910.1 91.3,909.7 92.7,909.5 94.1,909.3 93.9,908.9 91.9,908.4 92.2,908.1 93.1,907.9 93.6,907.6 91.7,907.1 93.1,906.9 93.9,906.6 92.0,906.1 92.6,905.8 94.0,905.7 91.2,905.0 93.4,904.9 93.4,904.6 93.7,904.3 93.3,903.9 91.4,903.4 93.3,903.3 92.3,902.8 93.7,902.6 91.9,902.1 91.8,901.7 92.3,901.5 91.4,901.0 93.0,900.9 95.3,900.8 94.6,900.4 94.0,900.0 92.6,899.5 93.3,899.2 93.2,898.9 93.2,898.6 93.9,898.3 93.6,898.0 94.2,897.7 93.6,897.3 93.0,896.9 92.1,896.4 92.4,896.1 93.9,896.0 94.3,895.7 94.3,895.4 95.8,895.3 93.0,894.5 93.2,894.2 93.7,893.9 94.1,893.7 93.5,893.2 93.3,892.9 92.9,892.5 95.9,892.6 91.9,891.6 95.1,891.8 93.0,891.2 95.6,891.3 93.3,890.5 91.9,890.0 93.6,889.9 94.7,889.8 93.1,889.1 94.9,889.1 94.7,888.7 95.4,888.5 95.1,888.1 94.9,887.8 95.8,887.6 94.0,886.9 94.8,886.7 96.5,886.7 96.0,886.3 95.4,885.9 95.7,885.6 94.0,884.9 96.6,885.1 95.6,884.5 95.8,884.2 95.9,883.9 95.1,883.4 95.3,883.1 96.4,883.0 96.5,882.7 95.6,882.2 96.1,881.9 96.6,881.7 97.8,881.6 95.9,880.9 96.8,880.7 95.9,880.2 97.1,880.1 96.6,879.7 96.9,879.4 98.5,879.4 96.7,878.7 96.5,878.3 97.0,878.1 96.8,877.7 95.6,877.1 99.1,877.5 98.1,877.0 97.9,876.6 98.1,876.3 97.8,875.9 98.7,875.7 97.8,875.2 97.1,874.7 98.3,874.6 97.1,874.0 96.9,873.6 97.0,873.3 97.7,873.1 99.9,873.3 98.2,872.6 100.6,872.8 99.7,872.3 97.7,871.4 101.2,871.9 97.8,870.8 99.1,870.7 97.9,870.1 97.3,869.6 98.8,869.6 99.8,869.6 98.3,868.8 100.3,869.0 99.0,868.3 99.2,868.0 98.2,867.4 101.0,867.8 99.2,867.0 97.6,866.2 99.7,866.5 97.7,865.6 98.8,865.5 101.4,865.9 99.4,865.0 99.6,864.7 100.8,864.7 100.4,864.2 102.0,864.4 98.6,863.0 99.9,863.1 100.8,863.0 99.8,862.3 99.2,861.8 100.9,862.0"/>
<polyline points="106.3,851.0 105.7,850.5 106.6,850.4 104.8,849.4 105.6,849.4 106.5,849.3 107.2,849.2 109.0,849.5 108.1,848.9 105.1,847.4 107.3,847.9 106.2,847.1 109.4,847.9 108.8,847.4 106.8,846.3 106.7,845.9 109.3,846.5 109.5,846.2 109.2,845.8 108.1,845.0 110.5,845.6 106.8,843.8 109.6,844.5 108.3,843.7 108.0,843.2 109.0,843.2 109.0,842.9 109.5,842.7 107.3,841.5 108.2,841.5 109.6,841.7 110.0,841.5 109.7,841.0 111.9,841.6 110.4,840.6 110.5,840.3 108.8,839.3 109.8,839.3 111.3,839.6 111.8,839.4 110.0,838.3 110.3,838.1 110.1,837.6 110.9,837.6 110.7,837.2 111.1,837.0 109.5,836.0 111.4,836.4 112.5,836.5 110.8,835.4 111.0,835.2 112.2,835.3 110.7,834.3 111.6,834.3 113.0,834.6 113.2,834.3 111.0,833.0 111.8,833.0 113.9,833.5 114.0,833.2 111.2,831.6 110.6,831.0 112.2,831.3 113.5,831.5 113.9,831.4 112.9,830.5 112.3,830.0 113.5,830.1 114.2,830.1 115.5,830.3 115.5,830.0 115.5,829.6 116.4,829.6 114.3,828.3 115.2,828.4 113.3,827.1 114.1,827.1 115.2,827.3 113.5,826.1 114.6,826.3 115.9,826.5 115.7,826.0 116.5,826.1 116.5,825.7 116.2,825.2 116.7,825.0 116.8,824.7 116.8,824.3 116.6,823.9 115.6,823.0 117.2,823.4 117.5,823.2 116.7,822.5 117.2,822.3 118.6,822.7 117.9,822.0 117.9,821.6 118.6,821.6 117.3,820.6 117.9,820.5 118.9,820.6 117.5,819.5 118.3,819.6 118.8,819.5 118.7,819.1 118.3,818.5 118.6,818.2 120.0,818.6 119.2,817.8 119.8,817.7 120.1,817.5 120.3,817.3 119.1,816.3 120.2,816.5 118.1,815.0 121.1,816.2 119.9,815.2 119.8,814.8 121.3,815.2 121.1,814.7 120.3,813.9 119.8,813.2 121.7,813.9 121.9,813.6 121.6,813.1 121.4,812.6 122.6,812.9 121.6,811.9 122.1,811.8 122.6,811.8 123.7,812.0 122.3,810.8 125.1,812.0 124.2,811.1 125.1,811.3 123.9,810.2 124.0,809.9 124.2,809.6 124.7,809.5 123.6,808.5 126.2,809.6 125.9,809.1 124.4,807.9 123.8,807.1 124.7,807.2 126.3,807.8 127.0,807.8 125.0,806.3 125.4,806.1 125.8,805.9 127.2,806.4 128.4,806.7 125.6,804.7 124.9,803.9 125.9,804.1 126.3,804.0 126.6,803.7 127.3,803.8 127.5,803.6 127.4,803.1 128.4,803.3 127.5,802.3 129.1,803.0 128.2,802.0 126.8,800.7 127.2,800.6 129.4,801.6 128.0,800.4 128.5,800.2 128.3,799.7 128.9,799.7 129.7,799.8 128.6,798.8 128.9,798.5 131.1,799.5 130.1,798.5 130.6,798.5 131.4,798.6 130.6,797.7 131.1,797.6 132.8,798.3 129.5,795.8 131.3,796.5 131.7,796.4 131.6,795.9 132.7,796.3 132.8,795.9 130.8,794.2 132.8,795.2 134.1,795.6 132.5,794.2 132.2,793.5 133.8,794.2 133.8,793.9 132.4,792.5 132.9,792.4 134.9,793.4 134.4,792.7 134.6,792.4 134.6,791.9 135.7,792.3 134.9,791.4 135.9,791.6 134.5,790.3 135.2,790.4 135.9,790.5 136.0,790.1 136.3,789.9 135.3,788.8 135.8,788.8 135.9,788.4 138.4,789.8 136.2,787.9 137.1,788.0 137.6,788.0 138.5,788.3 136.6,786.5 136.4,786.0 137.9,786.6 138.2,786.4 138.9,786.5 137.8,785.3 138.6,785.5 139.4,785.7 138.0,784.2 138.8,784.4 139.2,784.3 139.7,784.2 140.1,784.1 140.7,784.1 140.7,783.7 140.8,783.4 139.9,782.3 141.6,783.1 139.8,781.4 140.3,781.3 141.9,782.2 142.2,782.0 143.2,782.3 141.3,780.4 141.6,780.2 141.0,779.4 142.3,780.0 142.4,779.6 143.2,779.8 144.1,780.1 142.8,778.7 143.8,779.0 143.8,778.6 144.6,778.8 143.7,777.7 145.7,778.8 145.6,778.3 143.9,776.5 144.5,776.6 145.9,777.3 145.2,776.3 145.2,775.9 144.9,775.3 145.1,774.9 145.4,774.7 146.8,775.5 145.0,773.6 146.8,774.6 146.4,773.9 146.7,773.7 146.2,772.8 146.7,772.8 149.1,774.4 149.1,774.0 148.3,772.9 149.0,773.0 147.9,771.6 147.6,771.0 148.0,770.9 150.0,772.2 149.1,770.9 148.9,770.3 149.3,770.2 149.4,769.8 148.2,768.4 149.9,769.4 150.4,769.4 150.5,769.0 150.9,769.0 151.7,769.2 151.6,768.7 152.5,769.0 152.8,768.8 152.1,767.8 153.1,768.3 153.1,767.8 153.4,767.6 153.9,767.6 155.4,768.5 153.0,765.9 152.7,765.2 153.8,765.7 154.7,766.1 153.5,764.6 154.3,764.9 155.8,765.8 155.1,764.7 155.2,764.3 156.1,764.7 155.3,763.5 157.0,764.6 156.1,763.4 155.8,762.6 158.0,764.2 156.4,762.2 156.4,761.8 157.9,762.7 158.3,762.7 157.8,761.8 157.9,761.4 158.3,761.3 158.6,761.1 159.4,761.5 160.1,761.7 159.6,760.7 158.6,759.2 158.9,759.1 159.2,758.9 160.1,759.3 160.6,759.4 160.8,759.1 160.5,758.3 161.9,759.2 160.8,757.7 161.0,757.4 162.0,757.9 161.1,756.6 161.5,756.5 163.8,758.4 162.7,756.8 162.8,756.4 164.6,757.7 162.7,755.3 162.7,754.9 163.2,754.9 163.9,755.2 163.0,753.8 164.2,754.5 164.3,754.1 164.4,753.8"/>
<polyline points="175.4,747.8 177.5,749.7 176.0,747.4 176.6,747.6 176.1,746.6 177.1,747.3 177.6,747.3 178.2,747.5 177.9,746.7 178.6,746.9 178.1,745.8 178.6,746.0 179.4,746.4 178.7,745.0 179.4,745.3 179.8,745.4 178.9,743.8 179.7,744.2 180.0,744.0 181.0,744.7 179.9,742.9 180.6,743.2 182.0,744.4 181.6,743.4 180.9,742.0 181.3,742.0 182.2,742.6 182.2,742.1 182.5,741.9 184.3,743.6 182.6,741.0 182.4,740.2 183.9,741.5 183.7,740.8 183.4,739.9 184.1,740.2 183.9,739.4 184.7,739.9 185.2,739.9 185.7,740.0 185.5,739.3 186.5,740.1 186.7,739.8 186.1,738.5 187.0,739.1 186.6,738.0 187.0,738.0 187.3,737.8 187.1,737.0 187.9,737.6 188.6,737.9 188.3,737.0 188.5,736.7 187.8,735.3 188.3,735.3 189.9,737.0 190.5,737.1 190.4,736.4 189.5,734.8 191.2,736.5 189.8,734.1 190.8,734.8 190.2,733.4 191.0,733.9 191.9,734.7 191.9,734.0 191.7,733.3 191.4,732.3 192.5,733.2 193.0,733.3 192.8,732.5 193.6,733.0 193.1,731.7 193.4,731.6 193.3,731.0 194.6,732.2 193.7,730.3 193.0,728.7 194.0,729.7 195.1,730.6 195.4,730.5 196.5,731.5 195.6,729.6 195.0,728.1 196.1,729.1 196.4,729.0 196.9,729.2 197.8,729.9 196.1,726.7 197.9,728.8 197.0,726.9 198.2,728.0 198.5,727.9 199.2,728.4 198.9,727.3 199.1,727.1 199.7,727.3 199.8,726.9 200.1,726.7 200.8,727.1 200.9,726.8 199.3,723.7 201.8,726.8 200.9,725.0 202.3,726.5 202.4,725.9 201.6,724.1 203.2,726.0 202.2,723.9 202.1,723.1 203.3,724.3 203.0,723.2 203.1,722.8 205.1,725.3 204.4,723.6 204.7,723.4 204.2,722.1 205.2,723.1 206.0,723.6 206.3,723.4 205.8,722.0 206.0,721.8 206.1,721.3 207.2,722.4 206.6,720.8 207.2,721.2 207.9,721.7 208.3,721.8 206.8,718.6 207.9,719.7 208.7,720.4 208.4,719.4 209.4,720.3 208.4,718.0 209.3,718.8 211.0,721.0 210.3,719.2 210.5,718.9 210.6,718.4 211.5,719.3 210.7,717.2 211.4,717.8 211.0,716.4 211.9,717.3 211.5,716.0 211.7,715.7 212.8,716.8 213.0,716.5 212.9,715.7 213.4,715.9 214.0,716.2 213.0,713.9 213.9,714.7 214.5,715.1 215.6,716.4 215.9,716.2 215.7,715.2 216.4,715.8 216.9,715.9 216.1,713.9 216.3,713.6 217.3,714.6 217.3,713.9 217.0,712.7 217.4,712.7 217.2,711.7 218.5,713.3 218.8,713.3 218.5,712.0 218.3,710.9 219.6,712.5 219.9,712.5 220.2,712.2 219.8,710.8 220.0,710.5 221.4,712.3 220.7,710.3 221.1,710.4 221.1,709.7 222.3,711.2 222.3,710.6 222.4,709.9 222.6,709.7 223.6,710.9 223.1,709.1 223.5,709.1 224.1,709.7 224.1,708.9 224.1,708.1 224.9,708.9 225.1,708.7 225.9,709.5 225.8,708.4 226.3,708.9 226.8,708.9 226.2,707.0 226.7,707.3 227.0,707.2 227.4,707.1 227.2,705.9 228.8,708.5 227.7,705.4 228.8,707.1 229.3,707.3 229.6,707.0 229.9,706.9 229.9,706.1 229.7,705.1 230.7,706.4 230.3,704.7 231.2,705.7 231.3,705.1 230.9,703.6 232.0,705.1 232.6,705.6 232.4,704.4 232.5,703.9 233.2,704.4 233.5,704.3 233.3,703.2 234.3,704.4 234.3,703.6 234.8,704.0 234.5,702.5 235.3,703.3 235.2,702.4 235.7,702.6 236.0,702.5 236.6,703.1 236.0,700.9 237.1,702.4 237.2,701.9 238.0,702.8 237.7,701.4 238.4,702.1 238.8,702.1 238.2,700.0 238.6,700.1 239.1,700.4 239.5,700.3 239.6,699.8 240.2,700.2 240.4,699.8 241.1,700.8 241.2,700.1 241.4,699.7 242.6,701.8 242.4,700.4 242.6,699.9 241.8,697.0 243.5,700.3 243.9,700.4"/>
<polyline points="256.6,699.7 257.5,701.2 257.3,699.7 257.8,700.1 257.6,698.3 258.4,699.8 258.4,698.9 259.1,699.8 259.3,699.4 259.6,699.3 260.0,699.3 259.8,697.8 260.1,697.5 260.9,698.9 261.3,699.0 261.5,698.5 261.5,697.6 261.9,697.8 262.4,698.3 263.3,699.8 262.4,695.9 262.9,696.6 263.5,697.4 263.9,697.5 263.9,696.4 264.1,696.0 264.9,697.4 265.2,697.1 265.6,697.5 265.3,695.3 266.3,697.4 266.6,697.4 266.5,695.8 267.0,696.2 267.5,696.6 267.5,695.7 268.0,696.1 268.4,696.4 268.6,695.9 268.9,695.6 269.3,695.8 269.5,695.5 269.9,695.7 270.1,695.2 270.9,696.5 270.5,693.9 270.9,694.4 271.5,695.0 271.7,694.7 271.7,693.4 272.4,694.6 273.2,696.2 273.0,694.5 274.0,696.7 273.8,694.8 273.7,693.2 274.7,695.5 275.1,695.9 275.1,694.6 275.2,693.8 275.2,692.2 276.0,694.3 276.3,694.0 276.9,695.0 276.4,691.7 277.3,693.8 277.5,693.1 277.6,692.5 278.2,693.5 278.7,694.2 279.0,693.7 279.2,693.2 279.3,692.2 279.6,691.9 280.2,693.4 280.5,693.1 281.1,694.1 281.1,692.6 280.9,690.4 281.6,692.0 282.1,692.7 282.0,690.8 282.6,691.8 282.8,691.0 283.0,690.4 283.9,693.2 284.0,691.8 284.3,692.0 284.3,690.5 285.0,691.7 285.2,691.4 286.0,693.5 286.0,691.9 286.3,691.9 286.8,692.2 286.8,691.0 287.2,691.4 287.5,690.8 287.7,690.0 288.1,690.5 288.5,690.8 288.7,690.4 289.3,691.7 289.5,691.0 289.9,691.1 289.7,688.6 290.7,691.6 290.8,690.7 291.0,689.7 291.5,690.6 291.6,689.4 292.3,691.2 292.2,688.9 292.7,689.7 293.4,692.0 293.6,691.1 293.9,690.9 294.0,689.9 294.4,689.9 294.6,689.1 294.8,688.8 295.2,688.7 295.5,688.8 296.1,690.0 296.5,690.6 296.8,690.3 296.8,688.6 297.4,689.9 297.8,690.1 298.0,689.7 298.2,688.4 298.8,690.0 298.9,688.8 299.1,687.9 299.4,687.7 300.1,690.2 300.2,688.4 300.6,688.9 300.5,685.8 301.2,688.5 301.7,689.6 301.9,688.7 302.1,688.1 302.5,688.5 302.7,687.2 303.2,688.3 303.4,687.8 303.3,684.4 304.0,687.3 304.3,686.8 304.7,687.6 305.4,690.0 305.2,685.8 305.8,687.9 306.0,686.7 306.6,688.8 306.7,687.2 306.9,686.2 307.5,688.3 307.5,685.3 307.9,686.1 308.3,686.7 308.7,687.3 308.9,686.0 309.6,689.0 309.5,685.6 310.2,688.8 310.4,687.3 310.5,685.4 311.0,686.4 311.5,688.6 311.8,688.3 312.1,687.9 312.4,687.1 312.7,687.3 312.9,685.5 313.3,686.8 313.5,684.6 313.8,685.0 314.4,687.5 314.5,685.0 314.8,684.9 315.4,687.3 315.6,686.5 316.0,686.9 316.4,687.1 316.6,686.1 316.9,685.7 317.3,686.8 317.7,687.6 317.9,685.2 318.1,684.5 318.5,684.7 319.0,687.2 319.3,686.3 319.6,686.0 319.9,686.4 320.2,684.6 320.6,686.5 320.9,685.9 321.2,685.2 321.5,685.5 321.9,685.2 322.2,685.6 322.5,684.9 322.9,685.1 323.2,685.3 323.5,684.8 323.8,684.9 324.2,684.6 324.5,684.8"/>
</g>
<g stroke="#262626" stroke-width="1" fill="none">
<path d="M352.9 719.1L353.4 712.1"/>
<path d="M356.4 719.4L356.7 715.9"/>
<path d="M359.9 719.7L360.3 716.2"/>
<path d="M363.4 720.1L363.8 716.6"/>
<path d="M366.9 720.6L367.4 717.1"/>
<path d="M370.3 721.1L371.4 714.2"/>
<path d="M373.8 721.7L374.4 718.2"/>
<path d="M377.3 722.3L377.9 718.8"/>
<path d="M380.7 723.0L381.4 719.5"/>
<path d="M384.1 723.7L384.9 720.3"/>
<path d="M387.6 724.5L389.2 717.7"/>
<path d="M391.0 725.4L391.9 722.0"/>
<path d="M394.4 726.3L395.3 722.9"/>
<path d="M397.7 727.3L398.7 723.9"/>
<path d="M401.1 728.3L402.1 724.9"/>
<path d="M404.4 729.4L406.6 722.7"/>
<path d="M407.8 730.5L408.9 727.2"/>
<path d="M419.4 735.0L422.1 728.5"/>
<path d="M422.7 736.4L424.1 733.2"/>
<path d="M425.9 737.8L427.3 734.6"/>
<path d="M429.1 739.3L430.6 736.1"/>
<path d="M432.2 740.8L433.8 737.7"/>
<path d="M435.4 742.4L438.6 736.2"/>
<path d="M438.5 744.1L440.1 741.0"/>
<path d="M441.5 745.7L443.2 742.7"/>
<path d="M444.6 747.5L446.3 744.5"/>
<path d="M447.6 749.3L449.4 746.3"/>
<path d="M450.6 751.1L454.3 745.2"/>
<path d="M453.6 753.0L455.5 750.1"/>
<path d="M456.5 755.0L458.4 752.1"/>
<path d="M459.4 757.0L461.4 754.1"/>
<path d="M462.2 759.0L464.3 756.2"/>
<path d="M465.1 761.1L469.3 755.5"/>
<path d="M467.9 763.2L470.0 760.4"/>
<path d="M470.6 765.4L472.8 762.7"/>
<path d="M473.3 767.6L475.6 764.9"/>
<path d="M476.0 769.9L478.3 767.2"/>
<path d="M484.7 777.7L489.5 772.7"/>
<path d="M487.2 780.2L489.7 777.7"/>
<path d="M489.7 782.7L492.2 780.2"/>
<path d="M492.1 785.2L494.7 782.8"/>
<path d="M494.5 787.8L497.1 785.4"/>
<path d="M496.8 790.4L502.1 785.7"/>
<path d="M499.2 793.0L501.8 790.8"/>
<path d="M501.4 795.7L504.1 793.5"/>
<path d="M503.6 798.4L506.4 796.3"/>
<path d="M505.8 801.2L508.6 799.1"/>
<path d="M507.9 804.0L513.5 799.8"/>
<path d="M510.0 806.8L512.8 804.8"/>
<path d="M512.0 809.7L514.9 807.7"/>
<path d="M514.0 812.6L516.9 810.6"/>
<path d="M516.0 815.5L518.9 813.6"/>
<path d="M517.9 818.5L523.8 814.8"/>
<path d="M519.7 821.5L522.7 819.7"/>
<path d="M521.5 824.5L524.5 822.8"/>
<path d="M523.2 827.6L526.3 825.9"/>
<path d="M529.7 840.1L536.0 837.1"/>
<path d="M531.2 843.3L534.4 841.8"/>
<path d="M532.6 846.5L535.8 845.1"/>
<path d="M534.0 849.7L537.2 848.4"/>
<path d="M535.3 853.0L538.5 851.7"/>
<path d="M536.6 856.2L543.1 853.8"/>
<path d="M537.8 859.5L541.1 858.4"/>
<path d="M538.9 862.9L542.2 861.7"/>
<path d="M540.0 866.2L543.4 865.1"/>
<path d="M541.1 869.5L544.4 868.5"/>
<path d="M542.1 872.9L548.8 871.0"/>
<path d="M543.0 876.3L546.4 875.4"/>
<path d="M543.9 879.7L547.3 878.8"/>
<path d="M544.7 883.1L548.1 882.3"/>
<path d="M545.5 886.5L548.9 885.8"/>
<path d="M546.2 890.0L553.1 888.6"/>
<path d="M548.3 902.5L555.3 901.6"/>
<path d="M548.8 906.0L552.2 905.6"/>
<path d="M549.2 909.5L552.6 909.1"/>
<path d="M549.5 913.0L553.0 912.7"/>
<path d="M549.8 916.5L553.3 916.3"/>
<path d="M550.0 920.0L557.0 919.6"/>
<path d="M550.2 923.5L553.6 923.4"/>
<path d="M550.3 927.0L553.8 927.0"/>
<path d="M550.3 930.5L553.8 930.5"/>
<path d="M550.3 934.1L553.8 934.1"/>
<path d="M550.2 937.6L557.2 937.8"/>
<path d="M550.1 941.1L553.6 941.2"/>
<path d="M549.9 944.6L553.4 944.8"/>
<path d="M549.7 948.1L553.1 948.4"/>
<path d="M549.3 951.6L552.8 951.9"/>
<path d="M549.0 955.1L555.9 955.9"/>
<path d="M548.6 958.6L552.0 959.0"/>
<path d="M548.1 962.1L551.6 962.6"/>
<path d="M547.6 965.5L551.0 966.1"/>
<path d="M547.0 969.0L550.4 969.6"/>
<path d="M546.3 972.4L553.2 973.8"/>
<path d="M545.6 975.9L549.0 976.6"/>
<path d="M544.9 979.3L548.3 980.1"/>
<path d="M544.0 982.7L547.4 983.6"/>
<path d="M540.9 994.1L547.6 996.1"/>
<path d="M539.8 997.4L543.2 998.5"/>
<path d="M538.7 1000.8L542.0 1001.9"/>
<path d="M537.6 1004.1L540.8 1005.3"/>
<path d="M536.3 1007.4L539.6 1008.6"/>
<path d="M535.1 1010.6L541.6 1013.2"/>
<path d="M533.7 1013.9L537.0 1015.2"/>
<path d="M532.3 1017.1L535.5 1018.5"/>
<path d="M530.9 1020.3L534.1 1021.8"/>
<path d="M529.4 1023.5L532.6 1025.0"/>
<path d="M527.9 1026.7L534.1 1029.8"/>
<path d="M526.3 1029.8L529.4 1031.4"/>
<path d="M524.6 1032.9L527.7 1034.6"/>
<path d="M522.9 1036.0L526.0 1037.7"/>
<path d="M521.2 1039.0L524.2 1040.8"/>
<path d="M519.4 1042.0L525.4 1045.7"/>
<path d="M517.5 1045.0L520.5 1046.9"/>
<path d="M515.6 1048.0L518.6 1049.9"/>
<path d="M507.9 1059.0L513.5 1063.2"/>
<path d="M505.8 1061.8L508.5 1064.0"/>
<path d="M503.6 1064.6L506.3 1066.8"/>
<path d="M501.4 1067.3L504.1 1069.6"/>
<path d="M499.1 1070.0L501.8 1072.3"/>
<path d="M496.8 1072.7L502.0 1077.3"/>
<path d="M494.5 1075.3L497.0 1077.6"/>
<path d="M492.1 1077.8L494.6 1080.3"/>
<path d="M489.6 1080.4L492.1 1082.8"/>
<path d="M487.2 1082.9L489.6 1085.4"/>
<path d="M484.6 1085.3L489.5 1090.4"/>
<path d="M482.1 1087.7L484.5 1090.3"/>
<path d="M479.5 1090.1L481.8 1092.7"/>
<path d="M476.8 1092.4L479.1 1095.1"/>
<path d="M474.2 1094.7L476.4 1097.4"/>
<path d="M471.5 1096.9L475.9 1102.4"/>
<path d="M468.7 1099.1L470.9 1101.9"/>
<path d="M465.9 1101.3L468.0 1104.1"/>
<path d="M454.6 1109.3L458.5 1115.1"/>
<path d="M451.7 1111.2L453.5 1114.2"/>
<path d="M448.7 1113.1L450.5 1116.0"/>
<path d="M445.7 1114.9L447.4 1117.9"/>
<path d="M442.6 1116.6L444.4 1119.7"/>
<path d="M439.6 1118.3L442.9 1124.5"/>
<path d="M436.5 1120.0L438.1 1123.1"/>
<path d="M433.3 1121.6L434.9 1124.7"/>
<path d="M430.2 1123.2L431.7 1126.3"/>
<path d="M427.0 1124.7L428.5 1127.9"/>
<path d="M423.8 1126.1L426.7 1132.5"/>
<path d="M420.6 1127.5L422.0 1130.8"/>
<path d="M417.4 1128.9L418.7 1132.1"/>
<path d="M414.1 1130.2L415.4 1133.4"/>
<path d="M410.8 1131.4L412.0 1134.7"/>
<path d="M407.5 1132.6L409.8 1139.2"/>
<path d="M394.6 1136.6L396.5 1143.4"/>
<path d="M391.2 1137.6L392.1 1140.9"/>
<path d="M387.8 1138.4L388.7 1141.8"/>
<path d="M384.4 1139.2L385.2 1142.6"/>
<path d="M381.0 1140.0L381.7 1143.4"/>
<path d="M377.5 1140.7L378.9 1147.5"/>
<path d="M374.1 1141.3L374.7 1144.7"/>
<path d="M370.6 1141.9L371.2 1145.3"/>
<path d="M367.2 1142.4L367.6 1145.9"/>
<path d="M363.7 1142.9L364.1 1146.3"/>
<path d="M360.2 1143.3L360.9 1150.2"/>
<path d="M356.7 1143.6L357.0 1147.1"/>
<path d="M353.2 1143.9L353.4 1147.4"/>
<path d="M349.7 1144.1L349.9 1147.6"/>
<path d="M346.2 1144.3L346.3 1147.8"/>
<path d="M342.7 1144.4L342.8 1151.4"/>
<path d="M339.1 1144.5L339.2 1148.0"/>
<path d="M335.6 1144.5L335.6 1148.0"/>
<path d="M323.6 1144.1L323.2 1151.0"/>
<path d="M320.1 1143.8L319.8 1147.3"/>
<path d="M316.6 1143.5L316.3 1147.0"/>
<path d="M313.1 1143.1L312.7 1146.6"/>
<path d="M309.6 1142.7L309.2 1146.2"/>
<path d="M306.2 1142.2L305.1 1149.1"/>
<path d="M302.7 1141.7L302.1 1145.1"/>
<path d="M299.2 1141.1L298.6 1144.5"/>
<path d="M295.8 1140.4L295.1 1143.8"/>
<path d="M292.3 1139.7L291.6 1143.1"/>
<path d="M288.9 1138.9L287.3 1145.7"/>
<path d="M285.5 1138.1L284.6 1141.5"/>
<path d="M282.1 1137.2L281.2 1140.6"/>
<path d="M278.7 1136.3L277.7 1139.6"/>
<path d="M275.3 1135.3L274.3 1138.6"/>
<path d="M272.0 1134.2L269.8 1140.9"/>
<path d="M268.6 1133.1L267.5 1136.4"/>
<path d="M265.3 1132.0L264.1 1135.3"/>
<path d="M262.0 1130.8L260.8 1134.0"/>
<path d="M258.8 1129.5L257.5 1132.7"/>
<path d="M255.5 1128.2L252.8 1134.6"/>
<path d="M252.3 1126.8L250.9 1130.0"/>
<path d="M239.3 1120.6L236.1 1126.8"/>
<path d="M236.2 1119.0L234.6 1122.1"/>
<path d="M233.1 1117.3L231.4 1120.4"/>
<path d="M230.1 1115.6L228.3 1118.6"/>
<path d="M227.1 1113.8L225.3 1116.8"/>
<path d="M224.1 1111.9L220.4 1117.8"/>
<path d="M221.1 1110.0L219.2 1113.0"/>
<path d="M218.2 1108.1L216.2 1111.0"/>
<path d="M215.3 1106.1L213.3 1109.0"/>
<path d="M212.4 1104.1L210.4 1106.9"/>
<path d="M209.6 1102.0L205.4 1107.6"/>
<path d="M206.8 1099.9L204.7 1102.6"/>
<path d="M204.1 1097.7L201.9 1100.4"/>
<path d="M201.3 1095.5L199.1 1098.2"/>
<path d="M198.6 1093.2L196.4 1095.8"/>
<path d="M196.0 1090.9L191.4 1096.1"/>
<path d="M193.4 1088.5L191.0 1091.1"/>
<path d="M190.8 1086.1L188.4 1088.7"/>
<path d="M188.3 1083.7L185.8 1086.2"/>
<path d="M185.8 1081.2L183.3 1083.7"/>
<path d="M183.4 1078.7L178.3 1083.5"/>
<path d="M174.9 1069.3L169.6 1073.8"/>
<path d="M172.6 1066.6L169.9 1068.8"/>
<path d="M170.4 1063.9L167.7 1066.1"/>
<path d="M168.3 1061.1L165.5 1063.2"/>
<path d="M166.2 1058.3L163.3 1060.4"/>
<path d="M164.1 1055.5L158.4 1059.5"/>
<path d="M162.1 1052.6L159.2 1054.6"/>
<path d="M160.1 1049.7L157.2 1051.6"/>
<path d="M158.2 1046.7L155.2 1048.6"/>
<path d="M156.3 1043.8L153.3 1045.6"/>
<path d="M154.5 1040.8L148.5 1044.4"/>
<path d="M152.7 1037.7L149.7 1039.5"/>
<path d="M151.0 1034.7L147.9 1036.4"/>
<path d="M149.3 1031.6L146.2 1033.2"/>
<path d="M147.7 1028.5L144.5 1030.1"/>
<path d="M146.1 1025.3L139.8 1028.4"/>
<path d="M140.4 1012.7L133.9 1015.4"/>
<path d="M139.1 1009.5L135.8 1010.7"/>
<path d="M137.8 1006.2L134.5 1007.4"/>
<path d="M136.6 1002.9L133.3 1004.1"/>
<path d="M135.5 999.6L132.2 1000.7"/>
<path d="M134.4 996.2L127.7 998.4"/>
<path d="M133.3 992.9L130.0 993.9"/>
<path d="M132.3 989.5L129.0 990.5"/>
<path d="M131.4 986.1L128.0 987.0"/>
<path d="M130.5 982.7L127.2 983.6"/>
<path d="M129.7 979.3L122.9 980.9"/>
<path d="M129.0 975.9L125.5 976.6"/>
<path d="M128.3 972.4L124.8 973.1"/>
<path d="M127.6 969.0L124.2 969.6"/>
<path d="M127.0 965.5L123.6 966.1"/>
<path d="M126.5 962.0L119.6 963.0"/>
<path d="M126.0 958.6L122.6 959.0"/>
<path d="M125.6 955.1L122.1 955.5"/>
<path d="M125.2 951.6L121.8 951.9"/>
<path d="M124.9 948.1L121.5 948.3"/>
<path d="M124.7 944.6L117.7 945.0"/>
<path d="M124.5 941.1L121.0 941.2"/>
<path d="M124.4 926.7L117.4 926.6"/>
<path d="M124.5 923.2L121.0 923.1"/>
<path d="M124.6 919.7L121.1 919.5"/>
<path d="M124.9 916.2L121.4 916.0"/>
<path d="M125.1 912.7L121.6 912.4"/>
<path d="M125.5 909.2L118.5 908.5"/>
<path d="M125.9 905.7L122.4 905.3"/>
<path d="M126.3 902.2L122.9 901.7"/>
<path d="M126.8 898.8L123.4 898.2"/>
<path d="M127.4 895.3L124.0 894.7"/>
<path d="M128.0 891.8L121.1 890.5"/>
<path d="M128.7 888.4L125.3 887.7"/>
<path d="M129.4 885.0L126.0 884.2"/>
<path d="M130.2 881.5L126.8 880.7"/>
<path d="M131.1 878.1L127.7 877.2"/>
<path d="M132.0 874.7L125.3 872.9"/>
<path d="M136.3 861.2L129.6 858.8"/>
<path d="M137.4 857.9L134.2 856.6"/>
<path d="M138.7 854.6L135.4 853.3"/>
<path d="M140.0 851.3L136.7 850.0"/>
<path d="M141.3 848.1L138.1 846.7"/>
<path d="M142.7 844.8L136.3 842.0"/>
<path d="M144.2 841.6L141.0 840.2"/>
<path d="M145.7 838.5L142.5 836.9"/>
<path d="M147.3 835.3L144.1 833.7"/>
<path d="M148.9 832.2L145.8 830.6"/>
<path d="M150.5 829.1L144.4 825.7"/>
<path d="M152.2 826.0L149.2 824.3"/>
<path d="M154.0 823.0L151.0 821.2"/>
<path d="M155.8 820.0L152.8 818.2"/>
<path d="M157.7 817.0L154.7 815.1"/>
<path d="M159.6 814.1L153.8 810.2"/>
<path d="M161.6 811.2L158.7 809.2"/>
<path d="M163.6 808.3L160.7 806.2"/>
<path d="M165.6 805.4L162.8 803.3"/>
<path d="M167.7 802.6L164.9 800.5"/>
<path d="M169.9 799.8L164.4 795.5"/>
<path d="M172.1 797.1L169.4 794.9"/>
<path d="M174.3 794.4L171.6 792.1"/>
<path d="M176.6 791.7L174.0 789.4"/>
<path d="M178.9 789.1L176.3 786.7"/>
<path d="M181.3 786.5L176.2 781.7"/>
<path d="M183.7 783.9L181.2 781.5"/>
<path d="M186.2 781.4L183.7 779.0"/>
<path d="M196.7 771.5L192.1 766.3"/>
<path d="M199.3 769.2L197.1 766.6"/>
<path d="M202.0 767.0L199.8 764.3"/>
<path d="M204.8 764.8L202.6 762.0"/>
<path d="M207.5 762.6L205.4 759.8"/>
<path d="M210.3 760.5L206.2 754.9"/>
<path d="M213.2 758.4L211.1 755.6"/>
<path d="M216.0 756.4L214.0 753.5"/>
<path d="M218.9 754.4L217.0 751.5"/>
<path d="M221.9 752.5L220.0 749.5"/>
<path d="M224.8 750.6L221.2 744.7"/>
<path d="M227.8 748.8L226.0 745.8"/>
<path d="M230.9 747.0L229.1 744.0"/>
<path d="M233.9 745.3L232.2 742.2"/>
<path d="M237.0 743.6L235.4 740.5"/>
<path d="M240.1 742.0L236.9 735.7"/>
<path d="M243.3 740.4L241.7 737.2"/>
<path d="M246.4 738.9L244.9 735.7"/>
<path d="M249.6 737.4L248.2 734.2"/>
<path d="M252.8 736.0L251.5 732.7"/>
<path d="M256.1 734.6L253.4 728.1"/>
<path d="M267.5 730.2L265.3 723.6"/>
<path d="M270.9 729.1L269.8 725.8"/>
<path d="M274.2 728.1L273.2 724.7"/>
<path d="M277.6 727.0L276.6 723.7"/>
<path d="M281.0 726.1L280.0 722.7"/>
<path d="M284.4 725.2L282.6 718.4"/>
<path d="M287.8 724.3L287.0 720.9"/>
<path d="M291.2 723.6L290.4 720.1"/>
<path d="M294.6 722.8L293.9 719.4"/>
<path d="M298.1 722.1L297.4 718.7"/>
<path d="M301.5 721.5L300.4 714.6"/>
<path d="M305.0 721.0L304.5 717.5"/>
<path d="M308.5 720.5L308.0 717.0"/>
<path d="M312.0 720.0L311.5 716.5"/>
<path d="M315.5 719.6L315.1 716.1"/>
<path d="M319.0 719.3L318.3 712.3"/>
<path d="M322.5 719.0L322.2 715.5"/>
</g>
<g font-family="Liberation Sans, sans-serif" font-size="10.5" fill="#111" text-anchor="middle">
<text transform="translate(354.0,704.7) rotate(4.2)" y="3.8">0</text>
<text transform="translate(372.6,706.9) rotate(8.9)" y="3.8">10</text>
<text transform="translate(391.0,710.5) rotate(13.6)" y="3.8">20</text>
<text transform="translate(409.0,715.7) rotate(18.4)" y="3.8">30</text>
<text transform="translate(425.0,721.7) rotate(22.7)" y="3.8">0</text>
<text transform="translate(442.0,729.6) rotate(27.4)" y="3.8">10</text>
<text transform="translate(458.3,738.9) rotate(32.1)" y="3.8">20</text>
<text transform="translate(473.7,749.6) rotate(36.9)" y="3.8">30</text>
<text transform="translate(494.6,767.3) rotate(43.8)" y="3.8">0</text>
<text transform="translate(507.6,780.8) rotate(48.5)" y="3.8">10</text>
<text transform="translate(519.5,795.4) rotate(53.2)" y="3.8">20</text>
<text transform="translate(530.1,810.9) rotate(58.0)" y="3.8">30</text>
<text transform="translate(542.7,833.9) rotate(64.6)" y="3.8">0</text>
<text transform="translate(550.0,851.2) rotate(69.3)" y="3.8">10</text>
<text transform="translate(555.9,868.9) rotate(74.0)" y="3.8">20</text>
<text transform="translate(560.3,887.2) rotate(78.8)" y="3.8">30</text>
<text transform="translate(562.6,900.6) rotate(82.2)" y="3.8">0</text>
<text transform="translate(564.4,919.2) rotate(86.9)" y="3.8">10</text>
<text transform="translate(564.6,938.0) rotate(91.6)" y="3.8">20</text>
<text transform="translate(563.3,956.7) rotate(96.4)" y="3.8">30</text>
<text transform="translate(560.5,975.2) rotate(101.1)" y="3.8">40</text>
<text transform="translate(554.7,998.3) rotate(107.1)" y="3.8">0</text>
<text transform="translate(548.4,1016.0) rotate(111.8)" y="3.8">10</text>
<text transform="translate(540.7,1033.1) rotate(116.5)" y="3.8">20</text>
<text transform="translate(531.7,1049.5) rotate(121.3)" y="3.8">30</text>
<text transform="translate(519.4,1067.7) rotate(126.8)" y="3.8">0</text>
<text transform="translate(507.6,1082.2) rotate(-48.5)" y="3.8">10</text>
<text transform="translate(494.6,1095.7) rotate(-43.8)" y="3.8">20</text>
<text transform="translate(480.5,1108.1) rotate(-39.0)" y="3.8">30</text>
<text transform="translate(462.5,1121.3) rotate(-33.4)" y="3.8">0</text>
<text transform="translate(446.5,1131.0) rotate(-28.7)" y="3.8">10</text>
<text transform="translate(429.7,1139.3) rotate(-24.0)" y="3.8">20</text>
<text transform="translate(412.2,1146.2) rotate(-19.2)" y="3.8">30</text>
<text transform="translate(398.5,1150.5) rotate(-15.6)" y="3.8">0</text>
<text transform="translate(380.3,1154.8) rotate(-10.9)" y="3.8">10</text>
<text transform="translate(361.7,1157.6) rotate(-6.2)" y="3.8">20</text>
<text transform="translate(343.0,1158.8) rotate(-1.4)" y="3.8">30</text>
<text transform="translate(322.7,1158.4) rotate(3.7)" y="3.8">0</text>
<text transform="translate(304.0,1156.5) rotate(8.4)" y="3.8">10</text>
<text transform="translate(285.6,1153.0) rotate(13.1)" y="3.8">20</text>
<text transform="translate(267.6,1147.9) rotate(17.9)" y="3.8">30</text>
<text transform="translate(250.0,1141.5) rotate(22.6)" y="3.8">40</text>
<text transform="translate(232.7,1133.4) rotate(27.4)" y="3.8">0</text>
<text transform="translate(216.4,1124.1) rotate(32.1)" y="3.8">10</text>
<text transform="translate(201.0,1113.5) rotate(36.8)" y="3.8">20</text>
<text transform="translate(186.4,1101.7) rotate(41.6)" y="3.8">30</text>
<text transform="translate(172.9,1088.7) rotate(46.3)" y="3.8">40</text>
<text transform="translate(163.9,1078.6) rotate(49.7)" y="3.8">0</text>
<text transform="translate(152.4,1063.8) rotate(54.4)" y="3.8">10</text>
<text transform="translate(142.1,1048.2) rotate(59.1)" y="3.8">20</text>
<text transform="translate(133.2,1031.7) rotate(63.9)" y="3.8">30</text>
<text transform="translate(127.1,1018.2) rotate(67.6)" y="3.8">0</text>
<text transform="translate(120.7,1000.6) rotate(72.3)" y="3.8">10</text>
<text transform="translate(115.7,982.5) rotate(77.0)" y="3.8">20</text>
<text transform="translate(112.2,964.1) rotate(81.8)" y="3.8">30</text>
<text transform="translate(110.3,945.4) rotate(86.5)" y="3.8">40</text>
<text transform="translate(110.0,926.4) rotate(271.3)" y="3.8">0</text>
<text transform="translate(111.1,907.7) rotate(276.0)" y="3.8">10</text>
<text transform="translate(113.9,889.1) rotate(280.7)" y="3.8">20</text>
<text transform="translate(118.1,870.9) rotate(285.5)" y="3.8">30</text>
<text transform="translate(122.7,856.4) rotate(289.3)" y="3.8">0</text>
<text transform="translate(129.6,839.0) rotate(294.0)" y="3.8">10</text>
<text transform="translate(137.9,822.2) rotate(298.7)" y="3.8">20</text>
<text transform="translate(147.6,806.1) rotate(303.5)" y="3.8">30</text>
<text transform="translate(158.6,790.9) rotate(308.2)" y="3.8">40</text>
<text transform="translate(170.7,776.7) rotate(312.9)" y="3.8">50</text>
<text transform="translate(187.2,760.7) rotate(318.7)" y="3.8">0</text>
<text transform="translate(201.7,748.9) rotate(323.4)" y="3.8">10</text>
<text transform="translate(217.2,738.4) rotate(328.1)" y="3.8">20</text>
<text transform="translate(233.6,729.1) rotate(332.9)" y="3.8">30</text>
<text transform="translate(250.6,721.3) rotate(337.6)" y="3.8">40</text>
<text transform="translate(262.8,716.6) rotate(340.9)" y="3.8">0</text>
<text transform="translate(280.8,711.2) rotate(345.6)" y="3.8">10</text>
<text transform="translate(299.1,707.3) rotate(350.3)" y="3.8">20</text>
<text transform="translate(317.7,704.9) rotate(355.1)" y="3.8">30</text>
</g>
<g font-family="Liberation Sans, sans-serif" font-size="17" font-weight="bold" fill="#111" text-anchor="middle">
<text transform="translate(378.5,737.3) rotate(12.0)" y="6">chr1</text>
<text transform="translate(441.8,762.7) rotate(31.8)" y="6">chr2</text>
<text transform="translate(495.2,811.2) rotate(52.7)" y="6">chr3</text>
<text transform="translate(526.0,869.8) rotate(71.9)" y="6">chr4</text>
<text transform="translate(535.5,942.4) rotate(-86.8)" y="6">chr5</text>
<text transform="translate(516.5,1016.8) rotate(-64.6)" y="6">chr6</text>
<text transform="translate(477.2,1072.3) rotate(-44.8)" y="6">chr7</text>
<text transform="translate(424.3,1109.9) rotate(-26.0)" y="6">chr8</text>
<text transform="translate(363.0,1128.3) rotate(-7.4)" y="6">chr9</text>
<text transform="translate(289.1,1124.1) rotate(14.1)" y="6">chr10</text>
<text transform="translate(217.7,1089.9) rotate(37.1)" y="6">chr11</text>
<text transform="translate(170.5,1039.2) rotate(57.1)" y="6">chr12</text>
<text transform="translate(143.2,972.9) rotate(77.9)" y="6">chr13</text>
<text transform="translate(141.1,901.1) rotate(278.8)" y="6">chr14</text>
<text transform="translate(169.9,824.8) rotate(302.5)" y="6">chr15</text>
<text transform="translate(233.0,762.6) rotate(328.3)" y="6">chr16</text>
<text transform="translate(299.0,736.7) rotate(348.9)" y="6">chr17</text>
</g>
<g font-family="Liberation Sans, sans-serif" font-size="21.5" font-weight="bold" fill="#111" text-anchor="middle">
<text x="341.6" y="617.0">IV</text>
<text x="341.4" y="653.8">III</text>
<text x="339.8" y="688.8">II</text>
<text x="339.8" y="734.5">I</text>
</g>
<defs><filter id="pb" x="-50%" y="-50%" width="200%" height="200%"><feGaussianBlur stdDeviation="5"/></filter><radialGradient id="g1" gradientUnits="userSpaceOnUse" cx="240.0" cy="800.0" r="140.0"><stop offset="0.00" stop-color="#5a423a"/><stop offset="0.60" stop-color="#4a3430"/><stop offset="1.00" stop-color="#3a2824"/></radialGradient><linearGradient id="g2" gradientUnits="userSpaceOnUse" x1="0.0" y1="820.0" x2="0.0" y2="1060.0"><stop offset="0.00" stop-color="#6aa6da"/><stop offset="1.00" stop-color="#7ab2e2"/></linearGradient><linearGradient id="g3" gradientUnits="userSpaceOnUse" x1="0.0" y1="990.0" x2="0.0" y2="1100.0"><stop offset="0.00" stop-color="#74aedd"/><stop offset="1.00" stop-color="#7cb4e2"/></linearGradient><linearGradient id="g4" gradientUnits="userSpaceOnUse" x1="297.2" y1="895.8" x2="350.7" y2="786.1"><stop offset="0.00" stop-color="#eed6ee"/><stop offset="0.55" stop-color="#d8a8e0"/><stop offset="1.00" stop-color="#dcb0e2"/></linearGradient><linearGradient id="g5" gradientUnits="userSpaceOnUse" x1="300.4" y1="896.8" x2="322.1" y2="773.7"><stop offset="0.00" stop-color="#eed6ee"/><stop offset="0.55" stop-color="#d8a8e0"/><stop offset="1.00" stop-color="#dcb0e2"/></linearGradient><linearGradient id="g6" gradientUnits="userSpaceOnUse" x1="312.7" y1="891.4" x2="230.4" y2="840.0"><stop offset="0.00" stop-color="#e6c8ea"/><stop offset="0.55" stop-color="#d0a0d8"/><stop offset="1.00" stop-color="#cc9cd6"/></linearGradient><linearGradient id="g7" gradientUnits="userSpaceOnUse" x1="309.0" y1="895.1" x2="253.5" y2="809.5"><stop offset="0.00" stop-color="#f0d4ec"/><stop offset="0.55" stop-color="#d890cc"/><stop offset="1.00" stop-color="#dea2d6"/></linearGradient><linearGradient id="g8" gradientUnits="userSpaceOnUse" x1="296.0" y1="895.1" x2="346.1" y2="817.9"><stop offset="0.00" stop-color="#f0d0ec"/><stop offset="0.55" stop-color="#dca0d4"/><stop offset="1.00" stop-color="#e2b2e0"/></linearGradient><linearGradient id="g9" gradientUnits="userSpaceOnUse" x1="291.5" y1="880.3" x2="355.9" y2="907.7"><stop offset="0.00" stop-color="#f2d8ee"/><stop offset="0.55" stop-color="#e0a8d8"/><stop offset="1.00" stop-color="#dc9ed4"/></linearGradient><linearGradient id="g10" gradientUnits="userSpaceOnUse" x1="306.6" y1="873.7" x2="290.5" y2="917.9"><stop offset="0.00" stop-color="#f0d0ea"/><stop offset="0.55" stop-color="#e0a6d8"/><stop offset="1.00" stop-color="#e0a8d8"/></linearGradient><linearGradient id="g11" gradientUnits="userSpaceOnUse" x1="432.3" y1="853.6" x2="345.3" y2="783.1"><stop offset="0.00" stop-color="#e8b0dc"/><stop offset="0.55" stop-color="#cc68b4"/><stop offset="1.00" stop-color="#da8ccc"/></linearGradient><linearGradient id="g12" gradientUnits="userSpaceOnUse" x1="422.6" y1="858.0" x2="425.4" y2="776.0"><stop offset="0.00" stop-color="#f4e0f2"/><stop offset="0.55" stop-color="#e6b6e2"/><stop offset="1.00" stop-color="#e4b2e0"/></linearGradient><linearGradient id="g13" gradientUnits="userSpaceOnUse" x1="411.1" y1="847.9" x2="494.1" y2="834.7"><stop offset="0.00" stop-color="#eac0e6"/><stop offset="0.55" stop-color="#d48ac8"/><stop offset="1.00" stop-color="#d890cc"/></linearGradient><linearGradient id="g14" gradientUnits="userSpaceOnUse" x1="287.8" y1="980.6" x2="205.2" y2="895.0"><stop offset="0.00" stop-color="#e0b0dc"/><stop offset="0.55" stop-color="#c864b0"/><stop offset="1.00" stop-color="#d690c8"/></linearGradient><clipPath id="k15"><path d="M285.1 981.6Q287.8 980.6 288.9 977.9Q289.9 975.2 290.5 969.8Q291.1 964.4 290.4 957.3Q289.8 950.2 287.7 942.3Q285.6 934.4 282.0 926.6Q278.4 918.8 273.4 911.9Q268.3 905.0 262.2 899.6Q256.0 894.3 249.2 891.0Q242.4 887.6 235.5 886.6Q228.5 885.6 222.1 886.9Q215.7 888.2 210.4 891.6Q205.2 895.0 201.6 900.2Q198.0 905.3 196.4 911.7Q194.9 918.1 195.7 925.0Q196.5 932.0 199.6 938.9Q202.7 945.8 207.8 952.2Q212.9 958.5 219.7 963.8Q226.4 969.0 234.0 972.9Q241.7 976.8 249.5 979.2Q257.3 981.6 264.4 982.4Q271.5 983.3 276.9 982.9Q282.4 982.6 285.1 981.6Z"/></clipPath><linearGradient id="g16" gradientUnits="userSpaceOnUse" x1="291.4" y1="970.4" x2="180.4" y2="985.1"><stop offset="0.00" stop-color="#9a5aa0"/><stop offset="0.55" stop-color="#b274b4"/><stop offset="1.00" stop-color="#d4c0e4"/></linearGradient><clipPath id="k17"><path d="M290.6 972.9Q291.4 970.4 290.0 968.3Q288.5 966.1 284.8 962.9Q281.0 959.6 275.3 956.4Q269.6 953.1 262.5 950.5Q255.4 947.9 247.5 946.4Q239.6 944.9 231.6 944.9Q223.5 944.9 216.0 946.6Q208.5 948.2 202.2 951.3Q195.8 954.5 191.1 958.9Q186.5 963.4 183.8 968.6Q181.2 973.9 180.8 979.5Q180.4 985.1 182.2 990.3Q184.0 995.6 188.0 1000.0Q191.9 1004.4 197.5 1007.5Q203.2 1010.6 210.2 1012.0Q217.1 1013.4 224.8 1013.0Q232.4 1012.6 240.2 1010.5Q248.0 1008.5 255.2 1005.0Q262.5 1001.5 268.7 997.2Q274.8 992.8 279.5 988.2Q284.2 983.6 287.0 979.5Q289.8 975.3 290.6 972.9Z"/></clipPath><linearGradient id="g18" gradientUnits="userSpaceOnUse" x1="270.3" y1="964.3" x2="354.6" y2="1035.0"><stop offset="0.00" stop-color="#a058a2"/><stop offset="0.55" stop-color="#aa62aa"/><stop offset="1.00" stop-color="#d2b8dc"/></linearGradient><linearGradient id="g19" gradientUnits="userSpaceOnUse" x1="281.0" y1="960.1" x2="265.6" y2="1085.2"><stop offset="0.00" stop-color="#8c4890"/><stop offset="0.55" stop-color="#9a4e9a"/><stop offset="1.00" stop-color="#dccdee"/></linearGradient><clipPath id="k20"><path d="M282.6 961.6Q281.0 960.1 279.0 961.1Q277.1 962.2 273.8 965.5Q270.5 968.9 266.8 974.3Q263.0 979.8 259.4 987.0Q255.8 994.1 252.9 1002.4Q249.9 1010.7 248.0 1019.5Q246.1 1028.3 245.6 1036.9Q245.0 1045.5 245.8 1053.2Q246.7 1060.9 248.8 1067.1Q251.0 1073.3 254.3 1077.4Q257.6 1081.6 261.6 1083.4Q265.6 1085.2 269.9 1084.4Q274.3 1083.6 278.5 1080.4Q282.6 1077.2 286.2 1071.7Q289.8 1066.2 292.5 1058.9Q295.2 1051.7 296.7 1043.2Q298.2 1034.7 298.5 1025.7Q298.8 1016.7 298.0 1008.0Q297.1 999.2 295.4 991.4Q293.6 983.5 291.3 977.3Q289.0 971.1 286.6 967.1Q284.2 963.1 282.6 961.6Z"/></clipPath><linearGradient id="g21" gradientUnits="userSpaceOnUse" x1="420.4" y1="925.7" x2="339.2" y2="968.9"><stop offset="0.00" stop-color="#cc88c4"/><stop offset="0.55" stop-color="#b44e9c"/><stop offset="1.00" stop-color="#b85aa4"/></linearGradient><linearGradient id="g22" gradientUnits="userSpaceOnUse" x1="414.7" y1="942.3" x2="367.5" y2="836.3"><stop offset="0.00" stop-color="#dc98cc"/><stop offset="0.55" stop-color="#c462ac"/><stop offset="1.00" stop-color="#cc74b8"/></linearGradient><clipPath id="k23"><path d="M411.9 942.2Q414.7 942.3 416.5 940.2Q418.3 938.1 420.6 933.3Q422.8 928.6 424.5 921.9Q426.2 915.2 426.9 907.3Q427.5 899.4 426.7 891.1Q426.0 882.8 423.6 874.8Q421.3 866.8 417.5 859.8Q413.6 852.9 408.5 847.5Q403.5 842.2 397.5 838.9Q391.6 835.6 385.4 834.6Q379.2 833.6 373.4 835.0Q367.5 836.3 362.6 839.8Q357.7 843.2 354.3 848.5Q350.9 853.8 349.4 860.4Q347.8 867.0 348.4 874.3Q348.9 881.7 351.6 889.2Q354.2 896.7 358.5 903.8Q362.9 910.9 368.6 917.0Q374.3 923.1 380.6 927.9Q386.8 932.7 392.9 935.9Q399.1 939.1 404.1 940.6Q409.1 942.2 411.9 942.2Z"/></clipPath><linearGradient id="g24" gradientUnits="userSpaceOnUse" x1="399.4" y1="937.2" x2="499.4" y2="880.6"><stop offset="0.00" stop-color="#d890c8"/><stop offset="0.55" stop-color="#b04c9c"/><stop offset="1.00" stop-color="#c870b8"/></linearGradient><clipPath id="k25"><path d="M399.2 934.5Q399.4 937.2 401.6 938.8Q403.8 940.3 408.7 942.0Q413.6 943.8 420.3 944.8Q427.0 945.8 434.8 945.6Q442.6 945.4 450.7 943.8Q458.9 942.2 466.5 939.2Q474.2 936.1 480.7 931.7Q487.2 927.2 492.0 921.7Q496.8 916.2 499.5 910.1Q502.2 904.0 502.7 897.9Q503.1 891.7 501.3 886.2Q499.4 880.6 495.6 876.1Q491.8 871.7 486.3 868.9Q480.8 866.1 474.2 865.3Q467.5 864.5 460.4 865.8Q453.2 867.1 446.0 870.3Q438.9 873.6 432.3 878.6Q425.7 883.6 420.1 889.7Q414.6 895.9 410.4 902.5Q406.3 909.1 403.7 915.4Q401.0 921.7 400.0 926.7Q399.0 931.8 399.2 934.5Z"/></clipPath><linearGradient id="g26" gradientUnits="userSpaceOnUse" x1="399.9" y1="924.6" x2="497.7" y2="990.6"><stop offset="0.00" stop-color="#d898d0"/><stop offset="0.55" stop-color="#bc5aa8"/><stop offset="1.00" stop-color="#d484c4"/></linearGradient><clipPath id="k27"><path d="M402.1 923.3Q399.9 924.6 399.5 927.2Q399.2 929.8 400.0 934.8Q400.9 939.8 403.2 946.2Q405.5 952.6 409.4 959.4Q413.3 966.3 418.6 972.9Q423.9 979.5 430.3 985.0Q436.6 990.6 443.7 994.6Q450.7 998.5 457.8 1000.6Q465.0 1002.6 471.7 1002.6Q478.3 1002.5 484.0 1000.4Q489.6 998.3 493.6 994.4Q497.7 990.6 499.7 985.4Q501.8 980.2 501.7 974.2Q501.5 968.2 499.0 962.0Q496.6 955.7 492.0 949.9Q487.5 944.0 481.1 939.0Q474.8 934.0 467.3 930.2Q459.7 926.3 451.7 923.9Q443.6 921.4 435.8 920.4Q427.9 919.4 421.2 919.6Q414.4 919.8 409.4 920.9Q404.4 922.1 402.1 923.3Z"/></clipPath><linearGradient id="g28" gradientUnits="userSpaceOnUse" x1="410.4" y1="919.3" x2="405.0" y2="1032.2"><stop offset="0.00" stop-color="#d8a0d4"/><stop offset="0.55" stop-color="#bc66b0"/><stop offset="1.00" stop-color="#cc84c2"/></linearGradient><linearGradient id="g29" gradientUnits="userSpaceOnUse" x1="270.0" y1="979.4" x2="340.2" y2="924.6"><stop offset="0.00" stop-color="#c070b0"/><stop offset="0.55" stop-color="#a84490"/><stop offset="1.00" stop-color="#b04c98"/></linearGradient><clipPath id="pcl"><circle cx="337.6" cy="930.2" r="174.6"/></clipPath></defs><g clip-path="url(#pcl)"><circle cx="337.6" cy="930.2" r="174.6" fill="#231f1a"/>
<path d="M150.0 760.0L250.0 750.0L345.0 752.0L350.0 785.0L300.0 795.0L255.0 815.0L222.0 835.0L200.0 860.0L196.0 900.0L196.0 955.0L150.0 960.0Z" fill="url(#g1)"/>
<path d="M210.0 815.0Q205.0 800.0 222.5 790.0Q240.0 780.0 265.0 775.0Q290.0 770.0 315.0 771.0Q340.0 772.0 335.0 781.0Q330.0 790.0 310.0 795.0Q290.0 800.0 270.0 807.5Q250.0 815.0 232.5 822.5Q215.0 830.0 210.0 815.0Z" fill="#62493f"/>
<path d="M335.0 752.0L440.0 752.0L440.0 790.0L400.0 782.0L350.0 788.0Z" fill="#363a2c"/>
<path d="M452.0 790.0L530.0 790.0L530.0 1070.0L470.0 1070.0L455.0 960.0L480.0 880.0Z" fill="#1f201c"/>
<path d="M487.0 927.5Q488.0 895.0 496.5 887.5Q505.0 880.0 510.0 920.0Q515.0 960.0 507.5 967.5Q500.0 975.0 493.0 967.5Q486.0 960.0 487.0 927.5Z" fill="#36393a"/>
<path d="M150.0 815.0L197.0 822.0L192.0 870.0L189.0 905.0L194.0 948.0L178.0 966.0L176.0 992.0L186.0 1008.0L218.0 1012.0L214.0 1032.0L220.0 1055.0L200.0 1070.0L150.0 1070.0Z" fill="url(#g2)"/>
<path d="M352.0 990.0L470.0 990.0L472.0 1030.0L455.0 1045.0L445.0 1110.0L352.0 1110.0Z" fill="url(#g3)"/>
<path d="M240.0 1020.0L300.0 1025.0L330.0 1028.0L362.0 1042.0L368.0 1075.0L360.0 1110.0L240.0 1110.0Z" fill="#16120f"/>
<path d="M402.0 1032.0L425.0 1028.0L452.0 1036.0L460.0 1060.0L458.0 1100.0L402.0 1105.0L398.0 1070.0Z" fill="#2b1d1d"/>
<path d="M454.5 1046.5Q447.0 1045.0 451.0 1032.5Q455.0 1020.0 465.0 1011.5Q475.0 1003.0 486.0 998.5Q497.0 994.0 500.0 1002.0Q503.0 1010.0 494.0 1020.0Q485.0 1030.0 473.5 1039.0Q462.0 1048.0 454.5 1046.5Z" fill="#56665c"/>
<path d="M216.5 1037.0Q213.0 1016.0 222.5 1014.0Q232.0 1012.0 242.0 1016.0Q252.0 1020.0 255.0 1027.5Q258.0 1035.0 258.0 1061.5Q258.0 1088.0 246.5 1083.0Q235.0 1078.0 227.5 1068.0Q220.0 1058.0 216.5 1037.0Z" fill="#3a4229"/>
<path d="M216.5 1037.0Q213.0 1016.0 219.5 1015.0Q226.0 1014.0 225.0 1027.0Q224.0 1040.0 227.0 1053.0Q230.0 1066.0 225.0 1062.0Q220.0 1058.0 216.5 1037.0Z" fill="#5b6b40"/>
<path d="M316 1068 L330 1110" stroke="#8a9a5c" stroke-width="5"/>
<path d="M186.0 858.0L250.0 860.0L236.0 884.0L205.0 892.0L197.0 920.0L196.0 952.0L186.0 952.0Z" fill="#4a382e"/>
<path d="M189.5 932.5Q190.0 915.0 197.5 913.5Q205.0 912.0 208.5 923.5Q212.0 935.0 206.0 943.5Q200.0 952.0 194.5 951.0Q189.0 950.0 189.5 932.5Z" fill="#59603a"/>
<path d="M216.5 828.0Q216.0 816.0 224.0 813.5Q232.0 811.0 239.0 814.5Q246.0 818.0 249.0 827.0Q252.0 836.0 253.0 860.0Q254.0 884.0 247.0 883.0Q240.0 882.0 233.0 872.0Q226.0 862.0 221.5 851.0Q217.0 840.0 216.5 828.0Z" fill="#86937c"/>
<path d="M230.0 859.0Q224.0 860.0 232.0 871.0Q240.0 882.0 247.0 883.0Q254.0 884.0 253.0 877.0Q252.0 870.0 244.0 864.0Q236.0 858.0 230.0 859.0Z" fill="#5f6a52"/>
<path d="M296.4 894.0Q297.2 895.8 299.2 895.4Q301.1 894.9 304.9 892.8Q308.7 890.6 313.6 886.7Q318.5 882.7 323.8 877.2Q329.1 871.6 334.2 864.9Q339.4 858.1 343.8 850.6Q348.2 843.1 351.5 835.5Q354.8 827.8 356.6 820.6Q358.4 813.3 358.7 807.1Q358.9 800.9 357.5 796.2Q356.2 791.6 353.5 788.8Q350.7 786.1 346.9 785.6Q343.1 785.2 338.6 787.0Q334.1 788.8 329.3 792.8Q324.6 796.8 320.0 802.7Q315.4 808.6 311.4 815.9Q307.3 823.2 304.2 831.3Q301.0 839.4 298.8 847.6Q296.7 855.8 295.6 863.4Q294.5 871.0 294.4 877.3Q294.2 883.6 294.9 887.9Q295.5 892.2 296.4 894.0Z" fill="url(#g4)"/>
<path d="M298.6 895.2Q300.4 896.8 302.7 895.9Q305.0 895.1 308.9 892.0Q312.8 888.9 317.3 883.8Q321.9 878.7 326.3 871.9Q330.7 865.1 334.4 857.0Q338.0 849.0 340.5 840.4Q343.0 831.8 343.9 823.3Q344.8 814.8 344.1 807.1Q343.4 799.4 341.0 793.0Q338.7 786.7 335.0 782.3Q331.3 777.9 326.7 775.8Q322.1 773.7 317.1 774.1Q312.0 774.5 307.1 777.4Q302.1 780.3 297.7 785.4Q293.4 790.6 290.1 797.6Q286.7 804.6 284.7 812.9Q282.7 821.2 282.0 830.1Q281.4 839.0 282.1 847.8Q282.8 856.6 284.7 864.5Q286.5 872.5 289.0 878.8Q291.5 885.2 294.1 889.4Q296.7 893.6 298.6 895.2Z" fill="url(#g5)"/>
<path d="M311.2 891.8Q312.7 891.4 312.4 889.9Q312.2 888.4 310.7 885.3Q309.3 882.3 306.5 878.3Q303.7 874.2 299.6 869.7Q295.6 865.2 290.6 860.6Q285.7 856.1 280.1 852.0Q274.5 847.9 268.7 844.6Q262.9 841.4 257.4 839.3Q251.9 837.1 247.1 836.3Q242.3 835.5 238.6 836.0Q234.9 836.5 232.7 838.2Q230.4 840.0 229.8 842.7Q229.3 845.5 230.4 849.1Q231.6 852.6 234.5 856.5Q237.3 860.5 241.6 864.5Q246.0 868.6 251.4 872.3Q256.9 876.1 263.0 879.3Q269.1 882.6 275.4 885.0Q281.6 887.5 287.5 889.1Q293.3 890.8 298.2 891.5Q303.0 892.3 306.4 892.3Q309.8 892.2 311.2 891.8Z" fill="url(#g6)"/>
<path d="M306.8 895.3Q309.0 895.1 310.1 893.1Q311.2 891.2 312.2 886.9Q313.2 882.7 313.4 876.9Q313.7 871.1 312.8 864.3Q312.0 857.6 310.0 850.6Q308.0 843.6 304.7 837.0Q301.5 830.5 297.3 824.9Q293.1 819.4 288.1 815.3Q283.1 811.3 277.9 809.0Q272.6 806.8 267.5 806.5Q262.4 806.2 257.9 807.9Q253.5 809.5 250.2 812.9Q246.8 816.3 245.0 821.1Q243.2 825.9 243.1 831.6Q243.0 837.3 244.7 843.5Q246.4 849.7 249.7 855.8Q253.1 861.9 257.8 867.5Q262.5 873.1 268.0 877.8Q273.6 882.5 279.4 886.0Q285.2 889.5 290.6 891.7Q296.1 893.8 300.3 894.7Q304.6 895.5 306.8 895.3Z" fill="url(#g7)"/>
<path d="M295.4 893.6Q296.0 895.1 297.6 895.0Q299.2 894.9 302.4 893.8Q305.7 892.6 309.9 890.3Q314.1 887.9 318.7 884.4Q323.4 880.8 328.0 876.3Q332.6 871.8 336.7 866.7Q340.7 861.5 343.9 856.0Q347.0 850.6 348.9 845.2Q350.8 839.9 351.3 835.1Q351.9 830.4 351.1 826.6Q350.2 822.8 348.2 820.4Q346.1 817.9 343.0 817.0Q339.9 816.1 336.1 816.9Q332.3 817.7 328.2 820.1Q324.0 822.5 320.0 826.4Q315.9 830.4 312.2 835.4Q308.4 840.5 305.4 846.3Q302.3 852.1 300.0 858.2Q297.8 864.2 296.5 869.9Q295.1 875.6 294.7 880.4Q294.2 885.2 294.5 888.6Q294.8 892.1 295.4 893.6Z" fill="url(#g8)"/>
<path d="M292.7 879.3Q291.5 880.3 291.5 881.9Q291.6 883.5 292.7 886.4Q293.7 889.3 295.7 892.8Q297.8 896.4 300.8 900.0Q303.8 903.6 307.6 906.9Q311.4 910.2 315.7 912.7Q320.1 915.3 324.6 916.8Q329.1 918.3 333.6 918.6Q338.0 919.0 341.9 918.1Q345.8 917.2 348.9 915.3Q352.0 913.3 353.9 910.5Q355.9 907.7 356.6 904.3Q357.2 900.9 356.5 897.3Q355.8 893.8 353.7 890.3Q351.6 886.9 348.3 884.0Q345.0 881.0 340.7 878.8Q336.5 876.6 331.6 875.2Q326.8 873.9 321.8 873.4Q316.8 873.0 312.1 873.3Q307.4 873.7 303.4 874.7Q299.5 875.6 296.7 876.9Q293.9 878.2 292.7 879.3Z" fill="url(#g9)"/>
<path d="M307.6 874.6Q306.6 873.7 305.3 873.8Q304.0 873.8 301.8 874.5Q299.5 875.1 296.8 876.5Q294.2 877.8 291.5 879.9Q288.9 881.9 286.6 884.5Q284.3 887.0 282.6 890.0Q281.0 893.0 280.2 896.1Q279.4 899.2 279.5 902.3Q279.7 905.3 280.8 908.0Q281.8 910.8 283.7 912.9Q285.6 915.1 288.1 916.5Q290.5 917.9 293.3 918.4Q296.1 918.9 299.0 918.5Q301.8 918.0 304.4 916.6Q306.9 915.2 309.0 913.0Q311.1 910.7 312.5 907.8Q313.9 904.9 314.5 901.6Q315.2 898.3 315.0 894.8Q314.9 891.4 314.2 888.1Q313.5 884.9 312.3 882.1Q311.1 879.3 309.8 877.4Q308.5 875.4 307.6 874.6Z" fill="url(#g10)"/>
<ellipse cx="298" cy="884" rx="19" ry="13" transform="rotate(-20 298 884)" fill="#efe4ec"/>
<ellipse cx="290" cy="895" rx="8" ry="5" fill="#c2d08e"/>
<path d="M429.9 854.7Q432.3 853.6 432.9 851.0Q433.6 848.4 433.4 843.4Q433.2 838.3 431.7 831.9Q430.2 825.4 427.3 818.4Q424.4 811.4 420.0 804.6Q415.7 797.8 410.2 791.9Q404.6 786.1 398.3 781.8Q391.9 777.5 385.3 775.1Q378.6 772.7 372.1 772.4Q365.6 772.2 359.8 774.0Q354.1 775.8 349.7 779.4Q345.3 783.1 342.6 788.1Q340.0 793.2 339.4 799.2Q338.8 805.2 340.4 811.5Q342.1 817.8 345.8 823.8Q349.5 829.9 355.0 835.2Q360.6 840.5 367.5 844.7Q374.3 848.9 381.9 851.7Q389.4 854.5 396.9 855.9Q404.4 857.3 411.0 857.5Q417.6 857.6 422.6 856.7Q427.6 855.8 429.9 854.7Z" fill="url(#g11)"/>
<path d="M420.4 857.1Q422.6 858.0 424.8 857.2Q427.1 856.5 430.7 854.2Q434.3 851.9 438.2 848.2Q442.1 844.5 445.6 839.7Q449.1 834.9 451.6 829.4Q454.2 823.9 455.4 818.1Q456.6 812.3 456.2 806.7Q455.8 801.1 453.8 796.1Q451.8 791.1 448.3 787.2Q444.8 783.2 440.3 780.6Q435.8 778.1 430.6 777.1Q425.4 776.0 420.2 776.7Q415.0 777.3 410.3 779.6Q405.6 781.9 401.9 785.6Q398.1 789.2 395.8 794.1Q393.4 798.9 392.6 804.5Q391.9 810.1 392.6 815.9Q393.4 821.8 395.6 827.5Q397.8 833.1 400.9 838.2Q404.1 843.2 407.7 847.1Q411.4 851.1 414.8 853.6Q418.2 856.2 420.4 857.1Z" fill="url(#g12)"/>
<path d="M411.8 846.3Q411.1 847.9 412.2 849.2Q413.3 850.4 416.1 852.3Q418.9 854.2 423.1 856.0Q427.4 857.8 432.7 859.1Q438.0 860.5 443.9 861.1Q449.8 861.7 455.8 861.4Q461.8 861.1 467.4 859.8Q473.0 858.6 477.8 856.4Q482.5 854.2 486.0 851.3Q489.5 848.4 491.5 845.0Q493.5 841.7 493.8 838.2Q494.1 834.7 492.7 831.5Q491.4 828.4 488.5 825.8Q485.5 823.2 481.3 821.5Q477.1 819.8 471.9 819.2Q466.7 818.6 461.0 819.1Q455.2 819.6 449.4 821.2Q443.6 822.8 438.2 825.2Q432.8 827.6 428.2 830.5Q423.5 833.4 420.1 836.5Q416.6 839.5 414.5 842.1Q412.4 844.8 411.8 846.3Z" fill="url(#g13)"/>
<path d="M285.1 981.6Q287.8 980.6 288.9 977.9Q289.9 975.2 290.5 969.8Q291.1 964.4 290.4 957.3Q289.8 950.2 287.7 942.3Q285.6 934.4 282.0 926.6Q278.4 918.8 273.4 911.9Q268.3 905.0 262.2 899.6Q256.0 894.3 249.2 891.0Q242.4 887.6 235.5 886.6Q228.5 885.6 222.1 886.9Q215.7 888.2 210.4 891.6Q205.2 895.0 201.6 900.2Q198.0 905.3 196.4 911.7Q194.9 918.1 195.7 925.0Q196.5 932.0 199.6 938.9Q202.7 945.8 207.8 952.2Q212.9 958.5 219.7 963.8Q226.4 969.0 234.0 972.9Q241.7 976.8 249.5 979.2Q257.3 981.6 264.4 982.4Q271.5 983.3 276.9 982.9Q282.4 982.6 285.1 981.6Z" fill="url(#g14)"/>
<g clip-path="url(#k15)"><ellipse cx="206.8" cy="918.3" rx="24.0" ry="20.0" transform="rotate(-134.0 206.8 918.3)" fill="#eab0e0" opacity="0.50" filter="url(#pb)"/></g>
<g clip-path="url(#k15)"><ellipse cx="261.4" cy="931.7" rx="20.0" ry="22.0" transform="rotate(-134.0 261.4 931.7)" fill="#9a3c8c" opacity="0.35" filter="url(#pb)"/></g>
<path d="M290.6 972.9Q291.4 970.4 290.0 968.3Q288.5 966.1 284.8 962.9Q281.0 959.6 275.3 956.4Q269.6 953.1 262.5 950.5Q255.4 947.9 247.5 946.4Q239.6 944.9 231.6 944.9Q223.5 944.9 216.0 946.6Q208.5 948.2 202.2 951.3Q195.8 954.5 191.1 958.9Q186.5 963.4 183.8 968.6Q181.2 973.9 180.8 979.5Q180.4 985.1 182.2 990.3Q184.0 995.6 188.0 1000.0Q191.9 1004.4 197.5 1007.5Q203.2 1010.6 210.2 1012.0Q217.1 1013.4 224.8 1013.0Q232.4 1012.6 240.2 1010.5Q248.0 1008.5 255.2 1005.0Q262.5 1001.5 268.7 997.2Q274.8 992.8 279.5 988.2Q284.2 983.6 287.0 979.5Q289.8 975.3 290.6 972.9Z" fill="url(#g16)"/>
<g clip-path="url(#k17)"><ellipse cx="204.1" cy="994.0" rx="18.0" ry="16.0" transform="rotate(172.5 204.1 994.0)" fill="#f4ecf8" opacity="0.60" filter="url(#pb)"/></g>
<path d="M272.5 963.4Q270.3 964.3 269.8 966.6Q269.2 969.0 269.5 973.7Q269.8 978.4 271.4 984.5Q273.0 990.6 275.9 997.4Q278.9 1004.1 283.2 1010.7Q287.4 1017.3 292.8 1023.0Q298.2 1028.8 304.3 1033.2Q310.4 1037.6 316.8 1040.2Q323.3 1042.8 329.4 1043.4Q335.6 1044.0 341.0 1042.7Q346.4 1041.3 350.5 1038.1Q354.6 1035.0 357.0 1030.4Q359.4 1025.8 359.8 1020.3Q360.2 1014.7 358.5 1008.8Q356.8 1002.8 353.1 996.9Q349.4 991.1 344.1 985.8Q338.7 980.5 332.1 976.2Q325.5 972.0 318.2 968.9Q311.0 965.8 303.9 964.1Q296.7 962.3 290.4 961.8Q284.2 961.4 279.5 961.9Q274.8 962.4 272.5 963.4Z" fill="url(#g18)"/>
<path d="M282.6 961.6Q281.0 960.1 279.0 961.1Q277.1 962.2 273.8 965.5Q270.5 968.9 266.8 974.3Q263.0 979.8 259.4 987.0Q255.8 994.1 252.9 1002.4Q249.9 1010.7 248.0 1019.5Q246.1 1028.3 245.6 1036.9Q245.0 1045.5 245.8 1053.2Q246.7 1060.9 248.8 1067.1Q251.0 1073.3 254.3 1077.4Q257.6 1081.6 261.6 1083.4Q265.6 1085.2 269.9 1084.4Q274.3 1083.6 278.5 1080.4Q282.6 1077.2 286.2 1071.7Q289.8 1066.2 292.5 1058.9Q295.2 1051.7 296.7 1043.2Q298.2 1034.7 298.5 1025.7Q298.8 1016.7 298.0 1008.0Q297.1 999.2 295.4 991.4Q293.6 983.5 291.3 977.3Q289.0 971.1 286.6 967.1Q284.2 963.1 282.6 961.6Z" fill="url(#g19)"/>
<g clip-path="url(#k20)"><ellipse cx="271.8" cy="1075.8" rx="14.0" ry="14.0" transform="rotate(97.0 271.8 1075.8)" fill="#f4eef8" opacity="0.60" filter="url(#pb)"/></g>
<path d="M420.6 928.1Q420.4 925.7 418.5 924.1Q416.6 922.5 412.5 920.6Q408.4 918.7 402.8 917.3Q397.2 915.9 390.7 915.4Q384.3 915.0 377.6 915.8Q370.9 916.6 364.6 918.8Q358.4 921.0 353.1 924.5Q347.9 927.9 344.1 932.5Q340.3 937.1 338.2 942.3Q336.1 947.6 336.0 953.1Q335.8 958.6 337.5 963.7Q339.2 968.9 342.5 973.1Q345.8 977.4 350.4 980.3Q355.1 983.2 360.6 984.5Q366.1 985.7 372.0 985.1Q377.9 984.5 383.8 982.1Q389.6 979.7 394.9 975.7Q400.2 971.8 404.6 966.7Q409.0 961.6 412.3 956.0Q415.5 950.3 417.5 944.9Q419.5 939.5 420.2 935.0Q420.9 930.5 420.6 928.1Z" fill="url(#g21)"/>
<path d="M411.9 942.2Q414.7 942.3 416.5 940.2Q418.3 938.1 420.6 933.3Q422.8 928.6 424.5 921.9Q426.2 915.2 426.9 907.3Q427.5 899.4 426.7 891.1Q426.0 882.8 423.6 874.8Q421.3 866.8 417.5 859.8Q413.6 852.9 408.5 847.5Q403.5 842.2 397.5 838.9Q391.6 835.6 385.4 834.6Q379.2 833.6 373.4 835.0Q367.5 836.3 362.6 839.8Q357.7 843.2 354.3 848.5Q350.9 853.8 349.4 860.4Q347.8 867.0 348.4 874.3Q348.9 881.7 351.6 889.2Q354.2 896.7 358.5 903.8Q362.9 910.9 368.6 917.0Q374.3 923.1 380.6 927.9Q386.8 932.7 392.9 935.9Q399.1 939.1 404.1 940.6Q409.1 942.2 411.9 942.2Z" fill="url(#g22)"/>
<g clip-path="url(#k23)"><ellipse cx="393.3" cy="881.9" rx="22.0" ry="30.0" transform="rotate(-114.0 393.3 881.9)" fill="#8a3480" opacity="0.45" filter="url(#pb)"/></g>
<g clip-path="url(#k23)"><ellipse cx="360.7" cy="845.7" rx="14.0" ry="20.0" transform="rotate(-114.0 360.7 845.7)" fill="#f0b8e4" opacity="0.50" filter="url(#pb)"/></g>
<path d="M399.2 934.5Q399.4 937.2 401.6 938.8Q403.8 940.3 408.7 942.0Q413.6 943.8 420.3 944.8Q427.0 945.8 434.8 945.6Q442.6 945.4 450.7 943.8Q458.9 942.2 466.5 939.2Q474.2 936.1 480.7 931.7Q487.2 927.2 492.0 921.7Q496.8 916.2 499.5 910.1Q502.2 904.0 502.7 897.9Q503.1 891.7 501.3 886.2Q499.4 880.6 495.6 876.1Q491.8 871.7 486.3 868.9Q480.8 866.1 474.2 865.3Q467.5 864.5 460.4 865.8Q453.2 867.1 446.0 870.3Q438.9 873.6 432.3 878.6Q425.7 883.6 420.1 889.7Q414.6 895.9 410.4 902.5Q406.3 909.1 403.7 915.4Q401.0 921.7 400.0 926.7Q399.0 931.8 399.2 934.5Z" fill="url(#g24)"/>
<g clip-path="url(#k25)"><ellipse cx="454.3" cy="917.6" rx="28.0" ry="24.0" transform="rotate(-29.5 454.3 917.6)" fill="#8a3480" opacity="0.45" filter="url(#pb)"/></g>
<g clip-path="url(#k25)"><ellipse cx="479.6" cy="868.8" rx="16.0" ry="18.0" transform="rotate(-29.5 479.6 868.8)" fill="#e8a8dc" opacity="0.50" filter="url(#pb)"/></g>
<path d="M402.1 923.3Q399.9 924.6 399.5 927.2Q399.2 929.8 400.0 934.8Q400.9 939.8 403.2 946.2Q405.5 952.6 409.4 959.4Q413.3 966.3 418.6 972.9Q423.9 979.5 430.3 985.0Q436.6 990.6 443.7 994.6Q450.7 998.5 457.8 1000.6Q465.0 1002.6 471.7 1002.6Q478.3 1002.5 484.0 1000.4Q489.6 998.3 493.6 994.4Q497.7 990.6 499.7 985.4Q501.8 980.2 501.7 974.2Q501.5 968.2 499.0 962.0Q496.6 955.7 492.0 949.9Q487.5 944.0 481.1 939.0Q474.8 934.0 467.3 930.2Q459.7 926.3 451.7 923.9Q443.6 921.4 435.8 920.4Q427.9 919.4 421.2 919.6Q414.4 919.8 409.4 920.9Q404.4 922.1 402.1 923.3Z" fill="url(#g26)"/>
<g clip-path="url(#k27)"><ellipse cx="453.2" cy="950.9" rx="24.0" ry="22.0" transform="rotate(34.0 453.2 950.9)" fill="#943c8c" opacity="0.40" filter="url(#pb)"/></g>
<g clip-path="url(#k27)"><ellipse cx="487.2" cy="995.6" rx="14.0" ry="20.0" transform="rotate(34.0 487.2 995.6)" fill="#eab8e2" opacity="0.45" filter="url(#pb)"/></g>
<path d="M412.5 920.6Q410.4 919.3 408.2 920.4Q406.0 921.4 402.4 924.6Q398.8 927.7 394.9 932.8Q391.0 937.9 387.4 944.5Q383.9 951.1 381.2 958.7Q378.5 966.3 377.2 974.3Q375.9 982.3 376.1 990.0Q376.3 997.8 378.1 1004.6Q379.9 1011.5 383.1 1016.9Q386.4 1022.3 390.7 1025.9Q395.1 1029.4 400.1 1030.8Q405.0 1032.2 410.1 1031.3Q415.2 1030.4 419.9 1027.3Q424.6 1024.1 428.3 1019.0Q432.0 1013.9 434.5 1007.3Q436.9 1000.6 437.9 992.9Q438.8 985.3 438.2 977.2Q437.6 969.1 435.7 961.3Q433.8 953.5 430.8 946.6Q427.9 939.7 424.5 934.2Q421.1 928.8 417.8 925.3Q414.6 921.8 412.5 920.6Z" fill="url(#g28)"/>
<path d="M269.4 977.0Q270.0 979.4 272.2 980.6Q274.3 981.9 278.6 983.1Q282.9 984.3 288.5 984.8Q294.2 985.3 300.5 984.7Q306.8 984.2 313.1 982.3Q319.3 980.5 325.0 977.4Q330.6 974.3 335.0 970.1Q339.4 965.9 342.2 960.8Q345.0 955.8 346.0 950.3Q347.0 944.8 346.2 939.5Q345.3 934.1 342.7 929.3Q340.2 924.6 336.2 920.9Q332.2 917.3 327.2 915.2Q322.2 913.0 316.7 912.7Q311.1 912.3 305.5 913.9Q300.0 915.4 294.8 918.6Q289.6 921.9 285.3 926.6Q280.9 931.3 277.6 936.9Q274.3 942.6 272.2 948.6Q270.1 954.6 269.3 960.2Q268.4 965.8 268.5 970.2Q268.7 974.7 269.4 977.0Z" fill="url(#g29)"/>
<circle cx="409.8" cy="931.3" r="17" fill="#f0dcee"/>
<circle cx="397" cy="950" r="9" fill="#a8bc70"/><circle cx="422" cy="955" r="9" fill="#a0b46a"/><circle cx="392" cy="928" r="7" fill="#a8bc70"/>
<circle cx="276" cy="965" r="12" fill="#8a4c80"/>
<path d="M359.0 1110.0Q340.0 1110.0 342.5 1099.0Q345.0 1088.0 352.5 1084.0Q360.0 1080.0 368.0 1084.0Q376.0 1088.0 377.0 1099.0Q378.0 1110.0 359.0 1110.0Z" fill="#a452a2"/>
<path d="M396.0 1100.0Q388.0 1100.0 389.0 1087.5Q390.0 1075.0 395.0 1070.5Q400.0 1066.0 403.0 1073.0Q406.0 1080.0 405.0 1090.0Q404.0 1100.0 396.0 1100.0Z" fill="#a452a2"/>
<g stroke="#efe8e4" stroke-width="1.3" fill="none"><path d="M302.0 885.0L260.0 860.0"/><path d="M302.0 885.0L266.0 852.0"/><path d="M302.0 885.0L272.0 848.0"/><path d="M302.0 885.0L280.0 842.0"/><path d="M302.0 885.0L270.0 866.0"/><path d="M302.0 885.0L262.0 872.0"/><path d="M302.0 885.0L284.0 848.0"/><path d="M302.0 885.0L290.0 846.0"/></g>
<g fill="#d6c46a"><circle cx="260.0" cy="860.0" r="1.8"/><circle cx="266.0" cy="852.0" r="1.8"/><circle cx="272.0" cy="848.0" r="1.8"/><circle cx="280.0" cy="842.0" r="1.8"/><circle cx="270.0" cy="866.0" r="1.8"/><circle cx="262.0" cy="872.0" r="1.8"/><circle cx="284.0" cy="848.0" r="1.8"/><circle cx="290.0" cy="846.0" r="1.8"/></g>
<g stroke="#efe8e4" stroke-width="1.3" fill="none"><path d="M423.0 846.0L412.0 800.0"/><path d="M423.0 846.0L418.0 796.0"/><path d="M423.0 846.0L424.0 793.0"/><path d="M423.0 846.0L430.0 796.0"/><path d="M423.0 846.0L438.0 800.0"/><path d="M423.0 846.0L444.0 806.0"/><path d="M423.0 846.0L420.0 808.0"/><path d="M423.0 846.0L428.0 810.0"/></g>
<g fill="#d6c46a"><circle cx="412.0" cy="800.0" r="1.8"/><circle cx="418.0" cy="796.0" r="1.8"/><circle cx="424.0" cy="793.0" r="1.8"/><circle cx="430.0" cy="796.0" r="1.8"/><circle cx="438.0" cy="800.0" r="1.8"/><circle cx="444.0" cy="806.0" r="1.8"/><circle cx="420.0" cy="808.0" r="1.8"/><circle cx="428.0" cy="810.0" r="1.8"/></g>
<g stroke="#efe8e4" stroke-width="1.3" fill="none"><path d="M410.0 931.0L400.0 905.0"/><path d="M410.0 931.0L408.0 900.0"/><path d="M410.0 931.0L414.0 902.0"/><path d="M410.0 931.0L424.0 900.0"/><path d="M410.0 931.0L432.0 905.0"/><path d="M410.0 931.0L440.0 915.0"/><path d="M410.0 931.0L405.0 915.0"/><path d="M410.0 931.0L436.0 925.0"/></g>
<g fill="#d6c46a"><circle cx="400.0" cy="905.0" r="1.8"/><circle cx="408.0" cy="900.0" r="1.8"/><circle cx="414.0" cy="902.0" r="1.8"/><circle cx="424.0" cy="900.0" r="1.8"/><circle cx="432.0" cy="905.0" r="1.8"/><circle cx="440.0" cy="915.0" r="1.8"/><circle cx="405.0" cy="915.0" r="1.8"/><circle cx="436.0" cy="925.0" r="1.8"/></g>
<g stroke="#efe8e4" stroke-width="1.3" fill="none"><path d="M272.0 966.0L225.0 937.0"/><path d="M272.0 966.0L222.0 952.0"/><path d="M272.0 966.0L228.0 967.0"/><path d="M272.0 966.0L236.0 977.0"/><path d="M272.0 966.0L245.0 986.0"/><path d="M272.0 966.0L238.0 944.0"/><path d="M272.0 966.0L250.0 935.0"/><path d="M272.0 966.0L258.0 930.0"/><path d="M272.0 966.0L230.0 990.0"/></g>
<g fill="#d6c46a"><circle cx="225.0" cy="937.0" r="1.8"/><circle cx="222.0" cy="952.0" r="1.8"/><circle cx="228.0" cy="967.0" r="1.8"/><circle cx="236.0" cy="977.0" r="1.8"/><circle cx="245.0" cy="986.0" r="1.8"/><circle cx="238.0" cy="944.0" r="1.8"/><circle cx="250.0" cy="935.0" r="1.8"/><circle cx="258.0" cy="930.0" r="1.8"/><circle cx="230.0" cy="990.0" r="1.8"/></g></g>
</svg>
</body></html>
